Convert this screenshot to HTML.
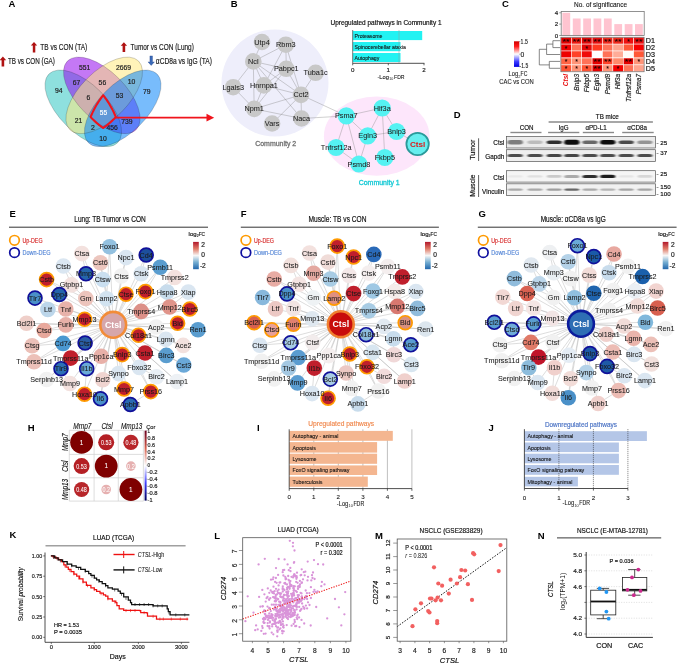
<!DOCTYPE html>
<html><head><meta charset="utf-8"><style>
html,body{margin:0;padding:0;background:#fff;width:685px;height:664px;overflow:hidden}
svg{display:block;font-family:"Liberation Sans", sans-serif;will-change:transform}
</style></head><body>
<svg width="685" height="664" viewBox="0 0 685 664">
<rect width="685" height="664" fill="#fff"/>
<text x="8.6" y="6.8" font-size="9.5" font-weight="bold">A</text>
<ellipse cx="83.27" cy="108.36" rx="48.56" ry="24.01" transform="rotate(45 83.27 108.36)" fill="rgb(50,199,195)" fill-opacity="0.55"/>
<ellipse cx="101.80" cy="95.39" rx="48.56" ry="24.01" transform="rotate(45 101.80 95.39)" fill="rgb(148,10,237)" fill-opacity="0.55"/>
<ellipse cx="104.20" cy="95.39" rx="48.56" ry="24.01" transform="rotate(-45 104.20 95.39)" fill="rgb(255,233,128)" fill-opacity="0.55"/>
<ellipse cx="122.73" cy="108.36" rx="48.56" ry="24.01" transform="rotate(-45 122.73 108.36)" fill="rgb(10,133,250)" fill-opacity="0.55"/>
<ellipse cx="83.27" cy="108.36" rx="48.56" ry="24.01" transform="rotate(45 83.27 108.36)" fill="none" stroke="#222" stroke-opacity="0.45" stroke-width="0.45"/>
<ellipse cx="101.80" cy="95.39" rx="48.56" ry="24.01" transform="rotate(45 101.80 95.39)" fill="none" stroke="#222" stroke-opacity="0.45" stroke-width="0.45"/>
<ellipse cx="104.20" cy="95.39" rx="48.56" ry="24.01" transform="rotate(-45 104.20 95.39)" fill="none" stroke="#222" stroke-opacity="0.45" stroke-width="0.45"/>
<ellipse cx="122.73" cy="108.36" rx="48.56" ry="24.01" transform="rotate(-45 122.73 108.36)" fill="none" stroke="#222" stroke-opacity="0.45" stroke-width="0.45"/>
<text x="84.6" y="69.6" font-size="6.8" text-anchor="middle" fill="#222" stroke="#222" stroke-width="0.18">551</text>
<text x="123.6" y="69.6" font-size="6.8" text-anchor="middle" fill="#222" stroke="#222" stroke-width="0.18">2669</text>
<text x="58.8" y="93.1" font-size="6.8" text-anchor="middle" fill="#222" stroke="#222" stroke-width="0.18">94</text>
<text x="76.6" y="84.7" font-size="6.8" text-anchor="middle" fill="#222" stroke="#222" stroke-width="0.18">67</text>
<text x="102.4" y="84.7" font-size="6.8" text-anchor="middle" fill="#222" stroke="#222" stroke-width="0.18">56</text>
<text x="131.6" y="84.0" font-size="6.8" text-anchor="middle" fill="#222" stroke="#222" stroke-width="0.18">10</text>
<text x="146.7" y="93.7" font-size="6.8" text-anchor="middle" fill="#222" stroke="#222" stroke-width="0.18">79</text>
<text x="88.3" y="100.4" font-size="6.8" text-anchor="middle" fill="#222" stroke="#222" stroke-width="0.18">6</text>
<text x="119.5" y="98.1" font-size="6.8" text-anchor="middle" fill="#222" stroke="#222" stroke-width="0.18">53</text>
<text x="78.6" y="123.3" font-size="6.8" text-anchor="middle" fill="#222" stroke="#222" stroke-width="0.18">21</text>
<text x="126.9" y="124.0" font-size="6.8" text-anchor="middle" fill="#222" stroke="#222" stroke-width="0.18">739</text>
<text x="93.0" y="130.0" font-size="6.8" text-anchor="middle" fill="#222" stroke="#222" stroke-width="0.18">2</text>
<text x="112.2" y="130.0" font-size="6.8" text-anchor="middle" fill="#222" stroke="#222" stroke-width="0.18">456</text>
<text x="103.1" y="140.7" font-size="6.8" text-anchor="middle" fill="#222" stroke="#222" stroke-width="0.18">10</text>
<path d="M92.38,112.87 L92.61,112.39 L92.83,111.90 L93.07,111.41 L93.31,110.92 L93.55,110.43 L93.79,109.94 L94.04,109.46 L94.30,108.97 L94.56,108.48 L94.82,107.99 L95.09,107.50 L95.36,107.01 L95.63,106.53 L95.91,106.04 L96.19,105.55 L96.48,105.07 L96.77,104.58 L97.06,104.10 L97.36,103.62 L97.66,103.13 L97.96,102.65 L98.27,102.17 L98.58,101.69 L98.89,101.21 L99.21,100.74 L99.53,100.26 L99.86,99.79 L100.18,99.32 L100.51,98.85 L100.85,98.38 L101.18,97.91 L101.52,97.44 L101.87,96.98 L102.21,96.52 L102.56,96.06 L102.91,95.60 L103.25,95.30 L103.60,95.76 L103.96,96.21 L104.30,96.67 L104.65,97.14 L104.99,97.60 L105.33,98.07 L105.66,98.53 L106.00,99.00 L106.33,99.47 L106.65,99.95 L106.98,100.42 L107.30,100.90 L107.61,101.37 L107.93,101.85 L108.24,102.33 L108.54,102.81 L108.84,103.29 L109.14,103.78 L109.44,104.26 L109.73,104.74 L110.02,105.23 L110.30,105.72 L110.59,106.20 L110.86,106.69 L111.14,107.18 L111.40,107.66 L111.67,108.15 L111.93,108.64 L112.19,109.13 L112.44,109.62 L112.69,110.11 L112.93,110.60 L113.17,111.08 L113.41,111.57 L113.64,112.06 L113.87,112.55 L114.09,113.03 L114.31,113.52 L114.53,114.01 L114.74,114.49 L114.94,114.98 L115.14,115.46 L115.34,115.94 L115.53,116.42 L115.72,116.90 L115.54,117.31 L115.15,117.72 L114.76,118.13 L114.36,118.53 L113.97,118.93 L113.57,119.32 L113.17,119.72 L112.77,120.11 L112.37,120.49 L111.97,120.87 L111.57,121.25 L111.17,121.62 L110.76,121.99 L110.35,122.36 L109.95,122.72 L109.54,123.08 L109.13,123.43 L108.72,123.78 L108.31,124.13 L107.90,124.47 L107.49,124.80 L107.07,125.13 L106.66,125.46 L106.25,125.78 L105.83,126.10 L105.42,126.41 L105.01,126.72 L104.59,127.02 L104.18,127.32 L103.77,127.62 L103.35,127.90 L103.05,127.90 L102.63,127.62 L102.22,127.32 L101.81,127.02 L101.39,126.72 L100.98,126.41 L100.57,126.10 L100.15,125.78 L99.74,125.46 L99.33,125.13 L98.91,124.80 L98.50,124.47 L98.09,124.13 L97.68,123.78 L97.27,123.43 L96.86,123.08 L96.45,122.72 L96.05,122.36 L95.64,121.99 L95.23,121.62 L94.83,121.25 L94.43,120.87 L94.03,120.49 L93.63,120.11 L93.23,119.72 L92.83,119.32 L92.43,118.93 L92.04,118.53 L91.64,118.13 L91.25,117.72 L90.86,117.31 L90.68,116.90 L90.87,116.42 L91.06,115.94 L91.26,115.46 L91.46,114.98 L91.66,114.49 L91.87,114.01 L92.09,113.52 L92.31,113.03 Z" fill="none" stroke="#f0141c" stroke-width="2.1" stroke-linejoin="round"/>
<text x="103.4" y="115.1" font-size="6.5" text-anchor="middle" fill="#fff" stroke="#fff" stroke-width="0.18">55</text>
<line x1="115.8" y1="117.7" x2="208.0" y2="117.7" stroke="#f0141c" stroke-width="1.7" />
<path d="M206.5,113.8 L214.2,117.7 L206.5,121.6 Z" fill="#f0141c"/>
<path d="M34.0,42.0 L37.2,45.6 L35.3,45.6 L35.3,52.5 L32.8,52.5 L32.8,45.6 L30.8,45.6 Z" fill="#b01212"/>
<text x="40.3" y="50.2" font-size="8.4" fill="#222" textLength="47" lengthAdjust="spacingAndGlyphs" stroke="#222" stroke-width="0.18">TB vs CON (TA)</text>
<path d="M2.9,56.6 L6.2,60.2 L4.2,60.2 L4.2,66.5 L1.6,66.5 L1.6,60.2 L-0.3,60.2 Z" fill="#b01212"/>
<text x="7.9" y="64.2" font-size="8.4" fill="#222" textLength="47" lengthAdjust="spacingAndGlyphs" stroke="#222" stroke-width="0.18">TB vs CON (GA)</text>
<path d="M123.9,42.2 L127.1,45.8 L125.2,45.8 L125.2,51.9 L122.6,51.9 L122.6,45.8 L120.7,45.8 Z" fill="#b01212"/>
<text x="130.6" y="50.0" font-size="8.4" fill="#222" textLength="63.2" lengthAdjust="spacingAndGlyphs" stroke="#222" stroke-width="0.18">Tumor vs CON (Lung)</text>
<path d="M151.2,65.5 L154.4,61.9 L152.5,61.9 L152.5,55.9 L149.9,55.9 L149.9,61.9 L148.0,61.9 Z" fill="#3a6ab8" stroke="#1a3a80" stroke-width="0.3"/>
<text x="155.8" y="63.8" font-size="8.4" fill="#222" textLength="56.2" lengthAdjust="spacingAndGlyphs" stroke="#222" stroke-width="0.18">αCD8a vs IgG (TA)</text>
<text x="230.8" y="6.9" font-size="9.5" font-weight="bold">B</text>
<circle cx="275.0" cy="83.0" r="53.50" fill="#eeeefb" stroke="none" stroke-width="1" />
<ellipse cx="376.7" cy="136.2" rx="52.8" ry="39.6" fill="#fde6fb"/>
<line x1="262.0" y1="42.0" x2="253.3" y2="61.4" stroke="#888" stroke-width="0.4" />
<line x1="285.8" y1="44.7" x2="253.3" y2="61.4" stroke="#888" stroke-width="0.4" />
<line x1="285.8" y1="44.7" x2="286.3" y2="68.8" stroke="#888" stroke-width="0.4" />
<line x1="285.8" y1="44.7" x2="263.9" y2="85.4" stroke="#888" stroke-width="0.4" />
<line x1="285.8" y1="44.7" x2="301.0" y2="94.9" stroke="#888" stroke-width="0.4" />
<line x1="253.3" y1="61.4" x2="286.3" y2="68.8" stroke="#888" stroke-width="0.4" />
<line x1="253.3" y1="61.4" x2="263.9" y2="85.4" stroke="#888" stroke-width="0.4" />
<line x1="253.3" y1="61.4" x2="233.2" y2="87.2" stroke="#888" stroke-width="0.4" />
<line x1="253.3" y1="61.4" x2="254.2" y2="108.9" stroke="#888" stroke-width="0.4" />
<line x1="253.3" y1="61.4" x2="301.0" y2="94.9" stroke="#888" stroke-width="0.4" />
<line x1="286.3" y1="68.8" x2="263.9" y2="85.4" stroke="#888" stroke-width="0.4" />
<line x1="286.3" y1="68.8" x2="301.0" y2="94.9" stroke="#888" stroke-width="0.4" />
<line x1="286.3" y1="68.8" x2="254.2" y2="108.9" stroke="#888" stroke-width="0.4" />
<line x1="315.6" y1="72.8" x2="301.0" y2="94.9" stroke="#888" stroke-width="0.4" />
<line x1="233.2" y1="87.2" x2="254.2" y2="108.9" stroke="#888" stroke-width="0.4" />
<line x1="263.9" y1="85.4" x2="254.2" y2="108.9" stroke="#888" stroke-width="0.4" />
<line x1="263.9" y1="85.4" x2="301.0" y2="94.9" stroke="#888" stroke-width="0.4" />
<line x1="254.2" y1="108.9" x2="301.0" y2="94.9" stroke="#888" stroke-width="0.4" />
<line x1="254.2" y1="108.9" x2="301.5" y2="118.5" stroke="#888" stroke-width="0.4" />
<line x1="301.0" y1="94.9" x2="301.5" y2="118.5" stroke="#888" stroke-width="0.4" />
<line x1="301.0" y1="94.9" x2="272.1" y2="123.5" stroke="#888" stroke-width="0.4" />
<line x1="301.0" y1="94.9" x2="346.3" y2="115.9" stroke="#888" stroke-width="0.4" />
<line x1="301.5" y1="118.5" x2="346.3" y2="115.9" stroke="#888" stroke-width="0.4" />
<line x1="253.3" y1="61.4" x2="301.5" y2="118.5" stroke="#888" stroke-width="0.4" />
<line x1="346.3" y1="115.9" x2="382.2" y2="108.0" stroke="#888" stroke-width="0.4" />
<line x1="346.3" y1="115.9" x2="367.7" y2="135.9" stroke="#888" stroke-width="0.4" />
<line x1="346.3" y1="115.9" x2="336.1" y2="147.5" stroke="#888" stroke-width="0.4" />
<line x1="346.3" y1="115.9" x2="358.9" y2="164.0" stroke="#888" stroke-width="0.4" />
<line x1="382.2" y1="108.0" x2="367.7" y2="135.9" stroke="#888" stroke-width="0.4" />
<line x1="382.2" y1="108.0" x2="396.6" y2="131.5" stroke="#888" stroke-width="0.4" />
<line x1="382.2" y1="108.0" x2="384.8" y2="157.5" stroke="#888" stroke-width="0.4" />
<line x1="367.7" y1="135.9" x2="396.6" y2="131.5" stroke="#888" stroke-width="0.4" />
<line x1="367.7" y1="135.9" x2="358.9" y2="164.0" stroke="#888" stroke-width="0.4" />
<line x1="336.1" y1="147.5" x2="358.9" y2="164.0" stroke="#888" stroke-width="0.4" />
<line x1="396.6" y1="131.5" x2="417.6" y2="144.0" stroke="#888" stroke-width="0.4" />
<circle cx="262.0" cy="42.0" r="8.30" fill="#c8c8c8" stroke="none" stroke-width="1" />
<circle cx="285.8" cy="44.7" r="8.30" fill="#c8c8c8" stroke="none" stroke-width="1" />
<circle cx="253.3" cy="61.4" r="8.30" fill="#c8c8c8" stroke="none" stroke-width="1" />
<circle cx="286.3" cy="68.8" r="8.30" fill="#c8c8c8" stroke="none" stroke-width="1" />
<circle cx="315.6" cy="72.8" r="8.30" fill="#c8c8c8" stroke="none" stroke-width="1" />
<circle cx="233.2" cy="87.2" r="8.30" fill="#c8c8c8" stroke="none" stroke-width="1" />
<circle cx="263.9" cy="85.4" r="8.30" fill="#c8c8c8" stroke="none" stroke-width="1" />
<circle cx="301.0" cy="94.9" r="8.30" fill="#c8c8c8" stroke="none" stroke-width="1" />
<circle cx="254.2" cy="108.9" r="8.30" fill="#c8c8c8" stroke="none" stroke-width="1" />
<circle cx="272.1" cy="123.5" r="8.30" fill="#c8c8c8" stroke="none" stroke-width="1" />
<circle cx="301.5" cy="118.5" r="8.30" fill="#c8c8c8" stroke="none" stroke-width="1" />
<circle cx="346.3" cy="115.9" r="8.60" fill="#55f2f2" stroke="none" stroke-width="1" />
<circle cx="382.2" cy="108.0" r="8.60" fill="#55f2f2" stroke="none" stroke-width="1" />
<circle cx="367.7" cy="135.9" r="8.60" fill="#55f2f2" stroke="none" stroke-width="1" />
<circle cx="396.6" cy="131.5" r="8.60" fill="#55f2f2" stroke="none" stroke-width="1" />
<circle cx="417.6" cy="144.0" r="11.20" fill="#66eeee" stroke="#2a9a9a" stroke-width="1.8" />
<circle cx="336.1" cy="147.5" r="8.60" fill="#55f2f2" stroke="none" stroke-width="1" />
<circle cx="358.9" cy="164.0" r="8.60" fill="#55f2f2" stroke="none" stroke-width="1" />
<circle cx="384.8" cy="157.5" r="8.60" fill="#55f2f2" stroke="none" stroke-width="1" />
<text x="262.0" y="44.5" font-size="7.3" text-anchor="middle" fill="#222" stroke="#222" stroke-width="0.05">Utp4</text>
<text x="285.8" y="47.2" font-size="7.3" text-anchor="middle" fill="#222" stroke="#222" stroke-width="0.05">Rbm3</text>
<text x="253.3" y="63.9" font-size="7.3" text-anchor="middle" fill="#222" stroke="#222" stroke-width="0.05">Ncl</text>
<text x="286.3" y="71.3" font-size="7.3" text-anchor="middle" fill="#222" stroke="#222" stroke-width="0.05">Pabpc1</text>
<text x="315.6" y="75.3" font-size="7.3" text-anchor="middle" fill="#222" stroke="#222" stroke-width="0.05">Tuba1c</text>
<text x="233.2" y="89.7" font-size="7.3" text-anchor="middle" fill="#222" stroke="#222" stroke-width="0.05">Lgals3</text>
<text x="263.9" y="87.9" font-size="7.3" text-anchor="middle" fill="#222" stroke="#222" stroke-width="0.05">Hnrnpa1</text>
<text x="301.0" y="97.4" font-size="7.3" text-anchor="middle" fill="#222" stroke="#222" stroke-width="0.05">Cct2</text>
<text x="254.2" y="111.4" font-size="7.3" text-anchor="middle" fill="#222" stroke="#222" stroke-width="0.05">Npm1</text>
<text x="272.1" y="126.0" font-size="7.3" text-anchor="middle" fill="#222" stroke="#222" stroke-width="0.05">Vars</text>
<text x="301.5" y="121.0" font-size="7.3" text-anchor="middle" fill="#222" stroke="#222" stroke-width="0.05">Naca</text>
<text x="346.3" y="118.4" font-size="7.3" text-anchor="middle" fill="#222" stroke="#222" stroke-width="0.05">Psma7</text>
<text x="382.2" y="110.5" font-size="7.3" text-anchor="middle" fill="#222" stroke="#222" stroke-width="0.05">Hif3a</text>
<text x="367.7" y="138.4" font-size="7.3" text-anchor="middle" fill="#222" stroke="#222" stroke-width="0.05">Egln3</text>
<text x="396.6" y="134.0" font-size="7.3" text-anchor="middle" fill="#222" stroke="#222" stroke-width="0.05">Bnip3</text>
<text x="417.6" y="146.8" font-size="8.1" text-anchor="middle" fill="#e01818" font-weight="bold">Ctsl</text>
<text x="336.1" y="150.0" font-size="7.3" text-anchor="middle" fill="#222" stroke="#222" stroke-width="0.05">Tnfrsf12a</text>
<text x="358.9" y="166.5" font-size="7.3" text-anchor="middle" fill="#222" stroke="#222" stroke-width="0.05">Psmd8</text>
<text x="384.8" y="160.0" font-size="7.3" text-anchor="middle" fill="#222" stroke="#222" stroke-width="0.05">Fkbp5</text>
<text x="275.7" y="145.5" font-size="7.2" text-anchor="middle" fill="#707070" textLength="41" lengthAdjust="spacingAndGlyphs" stroke="#707070" stroke-width="0.3">Community 2</text>
<text x="379.2" y="184.8" font-size="7.2" text-anchor="middle" fill="#10c8d4" textLength="41" lengthAdjust="spacingAndGlyphs" stroke="#10c8d4" stroke-width="0.3">Community 1</text>
<text x="386.0" y="25.3" font-size="6.6" text-anchor="middle" fill="#111" textLength="111" lengthAdjust="spacingAndGlyphs" stroke="#111" stroke-width="0.18">Upregulated pathways in Community 1</text>
<rect x="352.7" y="31.0" width="69.5" height="9.1" fill="#22f2f2" stroke="none" stroke-width="1" />
<text x="354.5" y="37.6" font-size="5.9" fill="#111" textLength="28.0" lengthAdjust="spacingAndGlyphs" stroke="#111" stroke-width="0.1">Proteasome</text>
<rect x="352.7" y="42.0" width="47.8" height="9.2" fill="#22f2f2" stroke="none" stroke-width="1" />
<text x="354.5" y="48.7" font-size="5.9" fill="#111" textLength="51.4" lengthAdjust="spacingAndGlyphs" stroke="#111" stroke-width="0.1">Spinocerebellar ataxia</text>
<rect x="352.7" y="53.0" width="47.8" height="9.0" fill="#22f2f2" stroke="none" stroke-width="1" />
<text x="354.5" y="59.6" font-size="5.9" fill="#111" textLength="24.8" lengthAdjust="spacingAndGlyphs" stroke="#111" stroke-width="0.1">Autophagy</text>
<line x1="399.0" y1="30.0" x2="399.0" y2="63.0" stroke="#999" stroke-width="0.5" />
<line x1="352.7" y1="30.0" x2="352.7" y2="63.3" stroke="#555" stroke-width="0.8" />
<line x1="352.7" y1="63.3" x2="424.4" y2="63.3" stroke="#222" stroke-width="0.8" />
<line x1="352.7" y1="63.3" x2="352.7" y2="65.3" stroke="#222" stroke-width="0.7" />
<text x="352.7" y="71.8" font-size="6.2" text-anchor="middle" fill="#222" stroke="#222" stroke-width="0.18">0</text>
<line x1="388.3" y1="63.3" x2="388.3" y2="65.3" stroke="#222" stroke-width="0.7" />
<text x="388.3" y="71.8" font-size="6.2" text-anchor="middle" fill="#222" stroke="#222" stroke-width="0.18">1</text>
<line x1="424.0" y1="63.3" x2="424.0" y2="65.3" stroke="#222" stroke-width="0.7" />
<text x="424.0" y="71.8" font-size="6.2" text-anchor="middle" fill="#222" stroke="#222" stroke-width="0.18">2</text>
<text x="377.4" y="78.6" font-size="6.2" fill="#222" textLength="11.6" lengthAdjust="spacingAndGlyphs" stroke="#222" stroke-width="0.1">-Log</text>
<text x="389.2" y="80.1" font-size="3.7" fill="#222">10</text>
<text x="394.0" y="78.6" font-size="6.2" fill="#222" textLength="10.6" lengthAdjust="spacingAndGlyphs" stroke="#222" stroke-width="0.1">FDR</text>
<text x="502.0" y="7.2" font-size="9.5" font-weight="bold">C</text>
<text x="600.5" y="7.0" font-size="7.2" text-anchor="middle" fill="#111" textLength="53" lengthAdjust="spacingAndGlyphs" stroke="#111" stroke-width="0.1">No. of significance</text>
<rect x="562.4" y="12.8" width="7.8" height="22.7" fill="#ffc4d0" stroke="none" stroke-width="1" />
<rect x="572.8" y="18.5" width="7.8" height="17.0" fill="#ffc4d0" stroke="none" stroke-width="1" />
<rect x="583.2" y="18.5" width="7.8" height="17.0" fill="#ffc4d0" stroke="none" stroke-width="1" />
<rect x="593.5" y="18.5" width="7.8" height="17.0" fill="#ffc4d0" stroke="none" stroke-width="1" />
<rect x="603.9" y="18.5" width="7.8" height="17.0" fill="#ffc4d0" stroke="none" stroke-width="1" />
<rect x="614.3" y="24.1" width="7.8" height="11.3" fill="#ffc4d0" stroke="none" stroke-width="1" />
<rect x="624.7" y="24.1" width="7.8" height="11.3" fill="#ffc4d0" stroke="none" stroke-width="1" />
<rect x="635.0" y="24.1" width="7.8" height="11.3" fill="#ffc4d0" stroke="none" stroke-width="1" />
<rect x="561.2" y="11.5" width="83.0" height="24.0" fill="none" stroke="#777" stroke-width="0.8" />
<line x1="559.2" y1="12.8" x2="561.2" y2="12.8" stroke="#555" stroke-width="0.6" />
<text x="558.2" y="15.0" font-size="6.2" text-anchor="end" fill="#222" stroke="#222" stroke-width="0.18">4</text>
<line x1="559.2" y1="24.1" x2="561.2" y2="24.1" stroke="#555" stroke-width="0.6" />
<text x="558.2" y="26.3" font-size="6.2" text-anchor="end" fill="#222" stroke="#222" stroke-width="0.18">2</text>
<line x1="559.2" y1="35.5" x2="561.2" y2="35.5" stroke="#555" stroke-width="0.6" />
<text x="558.2" y="37.7" font-size="6.2" text-anchor="end" fill="#222" stroke="#222" stroke-width="0.18">0</text>
<rect x="560.9" y="37.2" width="10.4" height="6.9" fill="#e60000" stroke="#fff" stroke-width="0.5" />
<text x="566.1" y="43.6" font-size="7" text-anchor="middle" fill="#1a0000" textLength="7.4" lengthAdjust="spacingAndGlyphs" stroke="#1a0000" stroke-width="0.08">**</text>
<rect x="571.3" y="37.2" width="10.4" height="6.9" fill="#ee1a10" stroke="#fff" stroke-width="0.5" />
<text x="576.5" y="43.6" font-size="7" text-anchor="middle" fill="#1a0000" textLength="7.4" lengthAdjust="spacingAndGlyphs" stroke="#1a0000" stroke-width="0.08">**</text>
<rect x="581.7" y="37.2" width="10.4" height="6.9" fill="#e00808" stroke="#fff" stroke-width="0.5" />
<text x="586.9" y="43.6" font-size="7" text-anchor="middle" fill="#1a0000" textLength="7.4" lengthAdjust="spacingAndGlyphs" stroke="#1a0000" stroke-width="0.08">**</text>
<rect x="592.1" y="37.2" width="10.4" height="6.9" fill="#e81010" stroke="#fff" stroke-width="0.5" />
<text x="597.3" y="43.6" font-size="7" text-anchor="middle" fill="#1a0000" textLength="7.4" lengthAdjust="spacingAndGlyphs" stroke="#1a0000" stroke-width="0.08">**</text>
<rect x="602.5" y="37.2" width="10.4" height="6.9" fill="#f02a1c" stroke="#fff" stroke-width="0.5" />
<text x="607.7" y="43.6" font-size="7" text-anchor="middle" fill="#1a0000" textLength="7.4" lengthAdjust="spacingAndGlyphs" stroke="#1a0000" stroke-width="0.08">**</text>
<rect x="612.9" y="37.2" width="10.4" height="6.9" fill="#f02a1c" stroke="#fff" stroke-width="0.5" />
<text x="618.1" y="43.6" font-size="7" text-anchor="middle" fill="#1a0000" textLength="7.4" lengthAdjust="spacingAndGlyphs" stroke="#1a0000" stroke-width="0.08">**</text>
<rect x="623.3" y="37.2" width="10.4" height="6.9" fill="#ee1010" stroke="#fff" stroke-width="0.5" />
<text x="628.5" y="43.6" font-size="7" text-anchor="middle" fill="#1a0000" stroke="#1a0000" stroke-width="0.08">*</text>
<rect x="633.7" y="37.2" width="10.4" height="6.9" fill="#ee1010" stroke="#fff" stroke-width="0.5" />
<text x="638.9" y="43.6" font-size="7" text-anchor="middle" fill="#1a0000" textLength="7.4" lengthAdjust="spacingAndGlyphs" stroke="#1a0000" stroke-width="0.08">**</text>
<rect x="560.9" y="44.1" width="10.4" height="6.9" fill="#ee0000" stroke="#fff" stroke-width="0.5" />
<text x="566.1" y="50.5" font-size="7" text-anchor="middle" fill="#1a0000" stroke="#1a0000" stroke-width="0.08">*</text>
<rect x="571.3" y="44.1" width="10.4" height="6.9" fill="#ff7258" stroke="#fff" stroke-width="0.5" />
<rect x="581.7" y="44.1" width="10.4" height="6.9" fill="#e40808" stroke="#fff" stroke-width="0.5" />
<text x="586.9" y="50.5" font-size="7" text-anchor="middle" fill="#1a0000" stroke="#1a0000" stroke-width="0.08">*</text>
<rect x="592.1" y="44.1" width="10.4" height="6.9" fill="#ff3a22" stroke="#fff" stroke-width="0.5" />
<rect x="602.5" y="44.1" width="10.4" height="6.9" fill="#ff7258" stroke="#fff" stroke-width="0.5" />
<rect x="612.9" y="44.1" width="10.4" height="6.9" fill="#ffa48e" stroke="#fff" stroke-width="0.5" />
<rect x="623.3" y="44.1" width="10.4" height="6.9" fill="#ff5838" stroke="#fff" stroke-width="0.5" />
<rect x="633.7" y="44.1" width="10.4" height="6.9" fill="#f60000" stroke="#fff" stroke-width="0.5" />
<rect x="560.9" y="51.0" width="10.4" height="6.9" fill="#ee0000" stroke="#fff" stroke-width="0.5" />
<rect x="571.3" y="51.0" width="10.4" height="6.9" fill="#ff4228" stroke="#fff" stroke-width="0.5" />
<rect x="581.7" y="51.0" width="10.4" height="6.9" fill="#f00a0a" stroke="#fff" stroke-width="0.5" />
<rect x="592.1" y="51.0" width="10.4" height="6.9" fill="#ffffff" stroke="#fff" stroke-width="0.5" />
<rect x="602.5" y="51.0" width="10.4" height="6.9" fill="#ff7258" stroke="#fff" stroke-width="0.5" />
<rect x="612.9" y="51.0" width="10.4" height="6.9" fill="#ffac98" stroke="#fff" stroke-width="0.5" />
<rect x="623.3" y="51.0" width="10.4" height="6.9" fill="#fffaf8" stroke="#fff" stroke-width="0.5" />
<rect x="633.7" y="51.0" width="10.4" height="6.9" fill="#ff5838" stroke="#fff" stroke-width="0.5" />
<rect x="560.9" y="58.0" width="10.4" height="6.9" fill="#ff6444" stroke="#fff" stroke-width="0.5" />
<text x="566.1" y="64.3" font-size="7" text-anchor="middle" fill="#1a0000" stroke="#1a0000" stroke-width="0.08">*</text>
<rect x="571.3" y="58.0" width="10.4" height="6.9" fill="#ff9478" stroke="#fff" stroke-width="0.5" />
<text x="576.5" y="64.3" font-size="7" text-anchor="middle" fill="#1a0000" stroke="#1a0000" stroke-width="0.08">*</text>
<rect x="581.7" y="58.0" width="10.4" height="6.9" fill="#ff7258" stroke="#fff" stroke-width="0.5" />
<rect x="592.1" y="58.0" width="10.4" height="6.9" fill="#e40000" stroke="#fff" stroke-width="0.5" />
<text x="597.3" y="64.3" font-size="7" text-anchor="middle" fill="#1a0000" textLength="7.4" lengthAdjust="spacingAndGlyphs" stroke="#1a0000" stroke-width="0.08">**</text>
<rect x="602.5" y="58.0" width="10.4" height="6.9" fill="#ff4228" stroke="#fff" stroke-width="0.5" />
<text x="607.7" y="64.3" font-size="7" text-anchor="middle" fill="#1a0000" textLength="7.4" lengthAdjust="spacingAndGlyphs" stroke="#1a0000" stroke-width="0.08">**</text>
<rect x="612.9" y="58.0" width="10.4" height="6.9" fill="#ff8a6c" stroke="#fff" stroke-width="0.5" />
<rect x="623.3" y="58.0" width="10.4" height="6.9" fill="#e40000" stroke="#fff" stroke-width="0.5" />
<text x="628.5" y="64.3" font-size="7" text-anchor="middle" fill="#1a0000" textLength="7.4" lengthAdjust="spacingAndGlyphs" stroke="#1a0000" stroke-width="0.08">**</text>
<rect x="633.7" y="58.0" width="10.4" height="6.9" fill="#ff9478" stroke="#fff" stroke-width="0.5" />
<text x="638.9" y="64.3" font-size="7" text-anchor="middle" fill="#1a0000" stroke="#1a0000" stroke-width="0.08">*</text>
<rect x="560.9" y="64.9" width="10.4" height="6.9" fill="#ff5434" stroke="#fff" stroke-width="0.5" />
<text x="566.1" y="71.2" font-size="7" text-anchor="middle" fill="#1a0000" stroke="#1a0000" stroke-width="0.08">*</text>
<rect x="571.3" y="64.9" width="10.4" height="6.9" fill="#ff9478" stroke="#fff" stroke-width="0.5" />
<text x="576.5" y="71.2" font-size="7" text-anchor="middle" fill="#1a0000" stroke="#1a0000" stroke-width="0.08">*</text>
<rect x="581.7" y="64.9" width="10.4" height="6.9" fill="#ff5434" stroke="#fff" stroke-width="0.5" />
<text x="586.9" y="71.2" font-size="7" text-anchor="middle" fill="#1a0000" stroke="#1a0000" stroke-width="0.08">*</text>
<rect x="592.1" y="64.9" width="10.4" height="6.9" fill="#e40000" stroke="#fff" stroke-width="0.5" />
<text x="597.3" y="71.2" font-size="7" text-anchor="middle" fill="#1a0000" textLength="7.4" lengthAdjust="spacingAndGlyphs" stroke="#1a0000" stroke-width="0.08">**</text>
<rect x="602.5" y="64.9" width="10.4" height="6.9" fill="#ff9478" stroke="#fff" stroke-width="0.5" />
<text x="607.7" y="71.2" font-size="7" text-anchor="middle" fill="#1a0000" stroke="#1a0000" stroke-width="0.08">*</text>
<rect x="612.9" y="64.9" width="10.4" height="6.9" fill="#f40000" stroke="#fff" stroke-width="0.5" />
<text x="618.1" y="71.2" font-size="7" text-anchor="middle" fill="#1a0000" stroke="#1a0000" stroke-width="0.08">*</text>
<rect x="623.3" y="64.9" width="10.4" height="6.9" fill="#ff7258" stroke="#fff" stroke-width="0.5" />
<rect x="633.7" y="64.9" width="10.4" height="6.9" fill="#ffa48e" stroke="#fff" stroke-width="0.5" />
<rect x="560.9" y="37.2" width="83.2" height="34.6" fill="none" stroke="#555" stroke-width="0.6" />
<text x="645.8" y="43.3" font-size="7.2" fill="#111" stroke="#111" stroke-width="0.18">D1</text>
<text x="645.8" y="50.2" font-size="7.2" fill="#111" stroke="#111" stroke-width="0.18">D2</text>
<text x="645.8" y="57.1" font-size="7.2" fill="#111" stroke="#111" stroke-width="0.18">D3</text>
<text x="645.8" y="64.0" font-size="7.2" fill="#111" stroke="#111" stroke-width="0.18">D4</text>
<text x="645.8" y="70.9" font-size="7.2" fill="#111" stroke="#111" stroke-width="0.18">D5</text>
<text x="568.3" y="73.8" font-size="6.6" text-anchor="end" fill="#e81010" font-weight="bold" font-style="italic" transform="rotate(-90 568.3 73.8)">Ctsl</text>
<text x="578.7" y="73.8" font-size="6.6" text-anchor="end" fill="#222" font-style="italic" transform="rotate(-90 578.7 73.8)" stroke="#222" stroke-width="0.18">Bnip3</text>
<text x="589.1" y="73.8" font-size="6.6" text-anchor="end" fill="#222" font-style="italic" transform="rotate(-90 589.1 73.8)" stroke="#222" stroke-width="0.18">Fkbp5</text>
<text x="599.5" y="73.8" font-size="6.6" text-anchor="end" fill="#222" font-style="italic" transform="rotate(-90 599.5 73.8)" stroke="#222" stroke-width="0.18">Egln3</text>
<text x="609.9" y="73.8" font-size="6.6" text-anchor="end" fill="#222" font-style="italic" transform="rotate(-90 609.9 73.8)" stroke="#222" stroke-width="0.18">Psmd8</text>
<text x="620.3" y="73.8" font-size="6.6" text-anchor="end" fill="#222" font-style="italic" transform="rotate(-90 620.3 73.8)" stroke="#222" stroke-width="0.18">Hif3a</text>
<text x="630.7" y="73.8" font-size="6.6" text-anchor="end" fill="#222" font-style="italic" transform="rotate(-90 630.7 73.8)" stroke="#222" stroke-width="0.18">Tnfrsf12a</text>
<text x="641.1" y="73.8" font-size="6.6" text-anchor="end" fill="#222" font-style="italic" transform="rotate(-90 641.1 73.8)" stroke="#222" stroke-width="0.18">Psma7</text>
<path d="M560.0,40.7 H552.9 V47.6 H560.0" fill="none" stroke="#555" stroke-width="0.7"/>
<path d="M552.9,44.1 H546.6 V54.5 H560.0" fill="none" stroke="#555" stroke-width="0.7"/>
<path d="M560.0,61.4 H549.3 V68.3 H560.0" fill="none" stroke="#555" stroke-width="0.7"/>
<path d="M546.6,49.3 H539.3 V64.9 H549.3" fill="none" stroke="#555" stroke-width="0.7"/>
<defs><linearGradient id="gC" x1="0" y1="0" x2="0" y2="1"><stop offset="0" stop-color="#d00000"/><stop offset="0.2" stop-color="#ff1a1a"/><stop offset="0.5" stop-color="#ffffff"/><stop offset="0.8" stop-color="#3a3aff"/><stop offset="1" stop-color="#0000e0"/></linearGradient></defs>
<rect x="514.0" y="41.3" width="5.3" height="25.6" fill="url(#gC)" stroke="none" stroke-width="1" />
<line x1="519.3" y1="41.5" x2="520.3" y2="41.5" stroke="#333" stroke-width="0.5" />
<line x1="519.3" y1="54.2" x2="520.3" y2="54.2" stroke="#333" stroke-width="0.5" />
<line x1="519.3" y1="66.7" x2="520.3" y2="66.7" stroke="#333" stroke-width="0.5" />
<text x="520.6" y="44.2" font-size="6.8" fill="#111" textLength="7.2" lengthAdjust="spacingAndGlyphs" stroke="#111" stroke-width="0.1">1.5</text>
<text x="520.6" y="56.6" font-size="6.8" fill="#111" stroke="#111" stroke-width="0.1">0</text>
<text x="519.6" y="67.8" font-size="6.8" fill="#111" textLength="8.6" lengthAdjust="spacingAndGlyphs" stroke="#111" stroke-width="0.1">-1.5</text>
<text x="508.6" y="76.4" font-size="6.6" fill="#222" textLength="9.6" lengthAdjust="spacingAndGlyphs" stroke="#222" stroke-width="0.1">Log</text>
<text x="518.3" y="77.8" font-size="4.0" fill="#222">2</text>
<text x="520.6" y="76.4" font-size="6.6" fill="#222" textLength="6.8" lengthAdjust="spacingAndGlyphs" stroke="#222" stroke-width="0.1">FC</text>
<text x="516.6" y="84.4" font-size="6.6" text-anchor="middle" fill="#222" textLength="34.5" lengthAdjust="spacingAndGlyphs" stroke="#222" stroke-width="0.1">CAC vs CON</text>
<text x="453.8" y="118.2" font-size="9.5" font-weight="bold">D</text>
<text x="607.3" y="118.8" font-size="7" text-anchor="middle" fill="#111" textLength="23" lengthAdjust="spacingAndGlyphs" stroke="#111" stroke-width="0.18">TB mice</text>
<line x1="548.6" y1="122.0" x2="652.9" y2="122.0" stroke="#8a8a8a" stroke-width="1.4" />
<text x="526.6" y="129.9" font-size="7.4" text-anchor="middle" fill="#111" textLength="13.8" lengthAdjust="spacingAndGlyphs" stroke="#111" stroke-width="0.18">CON</text>
<line x1="510.4" y1="132.5" x2="541.5" y2="132.5" stroke="#8a8a8a" stroke-width="1.4" />
<text x="563.5" y="129.9" font-size="7.4" text-anchor="middle" fill="#111" textLength="10.0" lengthAdjust="spacingAndGlyphs" stroke="#111" stroke-width="0.18">IgG</text>
<line x1="548.1" y1="132.5" x2="579.3" y2="132.5" stroke="#8a8a8a" stroke-width="1.4" />
<text x="596.0" y="129.9" font-size="7.4" text-anchor="middle" fill="#111" textLength="21.2" lengthAdjust="spacingAndGlyphs" stroke="#111" stroke-width="0.18">αPD-L1</text>
<line x1="582.8" y1="132.5" x2="614.0" y2="132.5" stroke="#8a8a8a" stroke-width="1.4" />
<text x="637.1" y="129.9" font-size="7.4" text-anchor="middle" fill="#111" textLength="19.5" lengthAdjust="spacingAndGlyphs" stroke="#111" stroke-width="0.18">αCD8a</text>
<line x1="622.2" y1="132.5" x2="653.7" y2="132.5" stroke="#8a8a8a" stroke-width="1.4" />
<defs><filter id="bl" x="-50%" y="-100%" width="200%" height="300%"><feGaussianBlur stdDeviation="1.1 0.6"/></filter></defs>
<rect x="506.4" y="136.5" width="149.1" height="11.5" fill="#ebebeb"/>
<g filter="url(#bl)">
<rect x="507.6" y="140.0" width="15.2" height="4.5" rx="3" fill="rgb(125,125,125)"/>
<rect x="527.4" y="140.6" width="15.2" height="3.4" rx="3" fill="rgb(188,188,188)"/>
<rect x="546.6" y="140.4" width="15.2" height="3.6" rx="3" fill="rgb(46,46,46)"/>
<rect x="564.2" y="139.8" width="15.2" height="5.0" rx="3" fill="rgb(13,13,13)"/>
<rect x="582.4" y="140.4" width="15.2" height="3.6" rx="3" fill="rgb(103,103,103)"/>
<rect x="600.2" y="140.1" width="15.2" height="4.4" rx="3" fill="rgb(13,13,13)"/>
<rect x="618.6" y="140.4" width="15.2" height="3.6" rx="3" fill="rgb(76,76,76)"/>
<rect x="637.3" y="140.4" width="15.2" height="3.6" rx="3" fill="rgb(148,148,148)"/>
</g>
<rect x="506.4" y="136.5" width="149.1" height="11.5" fill="none" stroke="#555" stroke-width="0.7"/>
<rect x="506.4" y="149.7" width="149.1" height="11.7" fill="#efefef"/>
<g filter="url(#bl)">
<rect x="507.6" y="154.1" width="15.2" height="3.0" rx="3" fill="rgb(76,76,76)"/>
<rect x="527.4" y="154.1" width="15.2" height="3.0" rx="3" fill="rgb(76,76,76)"/>
<rect x="546.6" y="154.1" width="15.2" height="3.0" rx="3" fill="rgb(69,69,69)"/>
<rect x="564.2" y="154.1" width="15.2" height="3.0" rx="3" fill="rgb(69,69,69)"/>
<rect x="582.4" y="154.1" width="15.2" height="3.0" rx="3" fill="rgb(76,76,76)"/>
<rect x="600.2" y="154.1" width="15.2" height="3.0" rx="3" fill="rgb(76,76,76)"/>
<rect x="618.6" y="154.1" width="15.2" height="3.0" rx="3" fill="rgb(76,76,76)"/>
<rect x="637.3" y="154.1" width="15.2" height="3.0" rx="3" fill="rgb(76,76,76)"/>
</g>
<rect x="506.4" y="149.7" width="149.1" height="11.7" fill="none" stroke="#555" stroke-width="0.7"/>
<rect x="506.4" y="170.7" width="149.1" height="11.4" fill="#f5f5f5"/>
<g filter="url(#bl)">
<rect x="507.6" y="175.2" width="15.2" height="2.4" rx="3" fill="rgb(233,233,233)"/>
<rect x="527.4" y="175.2" width="15.2" height="2.4" rx="3" fill="rgb(224,224,224)"/>
<rect x="546.6" y="175.1" width="15.2" height="2.6" rx="3" fill="rgb(202,202,202)"/>
<rect x="564.2" y="174.9" width="15.2" height="3.0" rx="3" fill="rgb(170,170,170)"/>
<rect x="582.4" y="174.9" width="15.2" height="3.0" rx="3" fill="rgb(46,46,46)"/>
<rect x="600.2" y="174.7" width="15.2" height="3.4" rx="3" fill="rgb(31,31,31)"/>
<rect x="618.6" y="175.2" width="15.2" height="2.4" rx="3" fill="rgb(229,229,229)"/>
<rect x="637.3" y="175.0" width="15.2" height="2.8" rx="3" fill="rgb(215,215,215)"/>
</g>
<rect x="506.4" y="170.7" width="149.1" height="11.4" fill="none" stroke="#555" stroke-width="0.7"/>
<rect x="506.4" y="183.8" width="149.1" height="11.8" fill="#f1f1f1"/>
<g filter="url(#bl)">
<rect x="507.6" y="188.6" width="15.2" height="2.2" rx="3" fill="rgb(170,170,170)"/>
<rect x="527.4" y="188.6" width="15.2" height="2.2" rx="3" fill="rgb(170,170,170)"/>
<rect x="546.6" y="188.6" width="15.2" height="2.2" rx="3" fill="rgb(159,159,159)"/>
<rect x="564.2" y="188.6" width="15.2" height="2.2" rx="3" fill="rgb(103,103,103)"/>
<rect x="582.4" y="188.6" width="15.2" height="2.2" rx="3" fill="rgb(170,170,170)"/>
<rect x="600.2" y="188.6" width="15.2" height="2.2" rx="3" fill="rgb(181,181,181)"/>
<rect x="618.6" y="188.6" width="15.2" height="2.2" rx="3" fill="rgb(166,166,166)"/>
<rect x="637.3" y="188.6" width="15.2" height="2.2" rx="3" fill="rgb(166,166,166)"/>
</g>
<rect x="506.4" y="183.8" width="149.1" height="11.8" fill="none" stroke="#555" stroke-width="0.7"/>
<text x="504.3" y="144.9" font-size="7.4" text-anchor="end" fill="#111" textLength="11.0" lengthAdjust="spacingAndGlyphs" stroke="#111" stroke-width="0.18">Ctsl</text>
<text x="504.3" y="158.9" font-size="7.4" text-anchor="end" fill="#111" textLength="19.1" lengthAdjust="spacingAndGlyphs" stroke="#111" stroke-width="0.18">Gapdh</text>
<text x="504.3" y="179.9" font-size="7.4" text-anchor="end" fill="#111" textLength="11.0" lengthAdjust="spacingAndGlyphs" stroke="#111" stroke-width="0.18">Ctsl</text>
<text x="504.3" y="193.9" font-size="7.4" text-anchor="end" fill="#111" textLength="22.2" lengthAdjust="spacingAndGlyphs" stroke="#111" stroke-width="0.18">Vinculin</text>
<line x1="478.6" y1="138.3" x2="478.6" y2="161.0" stroke="#333" stroke-width="0.8" />
<line x1="478.6" y1="175.0" x2="478.6" y2="197.0" stroke="#333" stroke-width="0.8" />
<text x="475.0" y="149.7" font-size="7" text-anchor="middle" fill="#111" transform="rotate(-90 475 149.7)" stroke="#111" stroke-width="0.18">Tumor</text>
<text x="475.0" y="185.7" font-size="7" text-anchor="middle" fill="#111" transform="rotate(-90 475 185.7)" stroke="#111" stroke-width="0.18">Muscle</text>
<text x="656.5" y="144.5" font-size="6.2" fill="#111" stroke="#111" stroke-width="0.18">- 25</text>
<text x="656.5" y="154.5" font-size="6.2" fill="#111" stroke="#111" stroke-width="0.18">- 37</text>
<text x="656.5" y="175.5" font-size="6.2" fill="#111" stroke="#111" stroke-width="0.18">- 25</text>
<text x="656.5" y="189.0" font-size="6.2" fill="#111" stroke="#111" stroke-width="0.18">- 150</text>
<text x="656.5" y="195.7" font-size="6.2" fill="#111" stroke="#111" stroke-width="0.18">- 100</text>
<text x="9.4" y="216.5" font-size="9.5" font-weight="bold">E</text>
<text x="110.0" y="221.9" font-size="8.4" text-anchor="middle" fill="#111" textLength="71.5" lengthAdjust="spacingAndGlyphs" stroke="#111" stroke-width="0.18">Lung: TB Tumor vs CON</text>
<line x1="9.0" y1="227.2" x2="208.0" y2="227.2" stroke="#333" stroke-width="1" />
<circle cx="14.5" cy="240.3" r="4.80" fill="none" stroke="#ff9a00" stroke-width="1.7" />
<circle cx="14.5" cy="252.6" r="4.80" fill="none" stroke="#1010a0" stroke-width="1.7" />
<text x="22.5" y="242.6" font-size="6.6" fill="#d83030" textLength="20" lengthAdjust="spacingAndGlyphs" stroke="#d83030" stroke-width="0.18">Up-DEG</text>
<text x="22.5" y="254.9" font-size="6.6" fill="#5a8ad8" textLength="28" lengthAdjust="spacingAndGlyphs" stroke="#5a8ad8" stroke-width="0.18">Down-DEG</text>
<defs><linearGradient id="gN0" x1="0" y1="0" x2="0" y2="1"><stop offset="0" stop-color="#b2182b"/><stop offset="0.25" stop-color="#e07b67"/><stop offset="0.5" stop-color="#f7f7f7"/><stop offset="0.75" stop-color="#74add1"/><stop offset="1" stop-color="#2166ac"/></linearGradient></defs>
<rect x="193.1" y="241.9" width="5.7" height="27.3" fill="url(#gN0)" stroke="none" stroke-width="1" />
<text x="196.6" y="236.0" font-size="5.6" text-anchor="end" fill="#222" textLength="8" lengthAdjust="spacingAndGlyphs" stroke="#222" stroke-width="0.18">log</text>
<text x="196.7" y="237.3" font-size="3.6" fill="#222" stroke="#222" stroke-width="0.18">2</text>
<text x="198.7" y="236.0" font-size="5.6" fill="#222" textLength="6.4" lengthAdjust="spacingAndGlyphs" stroke="#222" stroke-width="0.18">FC</text>
<text x="201.3" y="246.6" font-size="6.6" fill="#222" stroke="#222" stroke-width="0.18">2</text>
<text x="201.3" y="257.1" font-size="6.6" fill="#222" stroke="#222" stroke-width="0.18">0</text>
<text x="199.9" y="268.3" font-size="6.6" fill="#222" stroke="#222" stroke-width="0.18">-2</text>
<line x1="113.2" y1="324.8" x2="109.6" y2="246.7" stroke="#b4b4b4" stroke-width="0.45" />
<line x1="113.2" y1="324.8" x2="81.9" y2="253.6" stroke="#b4b4b4" stroke-width="0.45" />
<line x1="113.2" y1="324.8" x2="126.0" y2="257.6" stroke="#b4b4b4" stroke-width="0.45" />
<line x1="113.2" y1="324.8" x2="146.2" y2="255.0" stroke="#b4b4b4" stroke-width="0.45" />
<line x1="113.2" y1="324.8" x2="100.4" y2="262.7" stroke="#b4b4b4" stroke-width="0.45" />
<line x1="113.2" y1="324.8" x2="63.4" y2="266.0" stroke="#b4b4b4" stroke-width="0.45" />
<line x1="113.2" y1="324.8" x2="160.2" y2="267.2" stroke="#b4b4b4" stroke-width="0.45" />
<line x1="113.2" y1="324.8" x2="86.0" y2="273.8" stroke="#b4b4b4" stroke-width="0.45" />
<line x1="113.2" y1="324.8" x2="141.2" y2="273.7" stroke="#b4b4b4" stroke-width="0.45" />
<line x1="113.2" y1="324.8" x2="121.4" y2="276.0" stroke="#b4b4b4" stroke-width="0.45" />
<line x1="113.2" y1="324.8" x2="174.7" y2="277.5" stroke="#b4b4b4" stroke-width="0.45" />
<line x1="113.2" y1="324.8" x2="102.8" y2="279.6" stroke="#b4b4b4" stroke-width="0.45" />
<line x1="113.2" y1="324.8" x2="46.6" y2="279.6" stroke="#b4b4b4" stroke-width="0.45" />
<line x1="113.2" y1="324.8" x2="71.5" y2="284.9" stroke="#b4b4b4" stroke-width="0.45" />
<line x1="113.2" y1="324.8" x2="126.0" y2="294.2" stroke="#b4b4b4" stroke-width="0.45" />
<line x1="113.2" y1="324.8" x2="145.4" y2="291.6" stroke="#b4b4b4" stroke-width="0.45" />
<line x1="113.2" y1="324.8" x2="167.1" y2="292.1" stroke="#b4b4b4" stroke-width="0.45" />
<line x1="113.2" y1="324.8" x2="188.3" y2="292.1" stroke="#b4b4b4" stroke-width="0.45" />
<line x1="113.2" y1="324.8" x2="59.4" y2="294.5" stroke="#b4b4b4" stroke-width="0.45" />
<line x1="113.2" y1="324.8" x2="35.0" y2="298.1" stroke="#b4b4b4" stroke-width="0.45" />
<line x1="113.2" y1="324.8" x2="85.8" y2="298.5" stroke="#b4b4b4" stroke-width="0.45" />
<line x1="113.2" y1="324.8" x2="106.6" y2="298.8" stroke="#b4b4b4" stroke-width="0.45" />
<line x1="113.2" y1="324.8" x2="169.7" y2="307.0" stroke="#b4b4b4" stroke-width="0.45" />
<line x1="113.2" y1="324.8" x2="189.8" y2="309.0" stroke="#b4b4b4" stroke-width="0.45" />
<line x1="113.2" y1="324.8" x2="47.9" y2="309.5" stroke="#b4b4b4" stroke-width="0.45" />
<line x1="113.2" y1="324.8" x2="65.8" y2="309.0" stroke="#b4b4b4" stroke-width="0.45" />
<line x1="113.2" y1="324.8" x2="141.2" y2="311.4" stroke="#b4b4b4" stroke-width="0.45" />
<line x1="113.2" y1="324.8" x2="84.6" y2="319.3" stroke="#b4b4b4" stroke-width="0.45" />
<line x1="113.2" y1="324.8" x2="177.6" y2="323.3" stroke="#b4b4b4" stroke-width="0.45" />
<line x1="113.2" y1="324.8" x2="26.5" y2="323.3" stroke="#b4b4b4" stroke-width="0.45" />
<line x1="113.2" y1="324.8" x2="65.8" y2="324.9" stroke="#b4b4b4" stroke-width="0.45" />
<line x1="113.2" y1="324.8" x2="156.2" y2="327.0" stroke="#b4b4b4" stroke-width="0.45" />
<line x1="113.2" y1="324.8" x2="198.0" y2="329.7" stroke="#b4b4b4" stroke-width="0.45" />
<line x1="113.2" y1="324.8" x2="44.2" y2="330.5" stroke="#b4b4b4" stroke-width="0.45" />
<line x1="113.2" y1="324.8" x2="138.5" y2="335.3" stroke="#b4b4b4" stroke-width="0.45" />
<line x1="113.2" y1="324.8" x2="165.8" y2="339.3" stroke="#b4b4b4" stroke-width="0.45" />
<line x1="113.2" y1="324.8" x2="63.1" y2="343.4" stroke="#b4b4b4" stroke-width="0.45" />
<line x1="113.2" y1="324.8" x2="85.1" y2="343.0" stroke="#b4b4b4" stroke-width="0.45" />
<line x1="113.2" y1="324.8" x2="32.1" y2="345.8" stroke="#b4b4b4" stroke-width="0.45" />
<line x1="113.2" y1="324.8" x2="183.2" y2="345.4" stroke="#b4b4b4" stroke-width="0.45" />
<line x1="113.2" y1="324.8" x2="145.0" y2="353.0" stroke="#b4b4b4" stroke-width="0.45" />
<line x1="113.2" y1="324.8" x2="122.2" y2="354.6" stroke="#b4b4b4" stroke-width="0.45" />
<line x1="113.2" y1="324.8" x2="166.3" y2="355.4" stroke="#b4b4b4" stroke-width="0.45" />
<line x1="113.2" y1="324.8" x2="101.2" y2="356.2" stroke="#b4b4b4" stroke-width="0.45" />
<line x1="113.2" y1="324.8" x2="70.7" y2="358.1" stroke="#b4b4b4" stroke-width="0.45" />
<line x1="113.2" y1="324.8" x2="34.0" y2="361.8" stroke="#b4b4b4" stroke-width="0.45" />
<line x1="113.2" y1="324.8" x2="183.8" y2="365.0" stroke="#b4b4b4" stroke-width="0.45" />
<line x1="113.2" y1="324.8" x2="139.3" y2="367.4" stroke="#b4b4b4" stroke-width="0.45" />
<line x1="113.2" y1="324.8" x2="61.0" y2="368.7" stroke="#b4b4b4" stroke-width="0.45" />
<line x1="113.2" y1="324.8" x2="86.7" y2="368.7" stroke="#b4b4b4" stroke-width="0.45" />
<line x1="113.2" y1="324.8" x2="118.5" y2="373.6" stroke="#b4b4b4" stroke-width="0.45" />
<line x1="113.2" y1="324.8" x2="156.5" y2="376.8" stroke="#b4b4b4" stroke-width="0.45" />
<line x1="113.2" y1="324.8" x2="46.6" y2="379.5" stroke="#b4b4b4" stroke-width="0.45" />
<line x1="113.2" y1="324.8" x2="102.7" y2="379.7" stroke="#b4b4b4" stroke-width="0.45" />
<line x1="113.2" y1="324.8" x2="177.1" y2="381.6" stroke="#b4b4b4" stroke-width="0.45" />
<line x1="113.2" y1="324.8" x2="69.9" y2="383.5" stroke="#b4b4b4" stroke-width="0.45" />
<line x1="113.2" y1="324.8" x2="124.1" y2="389.0" stroke="#b4b4b4" stroke-width="0.45" />
<line x1="113.2" y1="324.8" x2="150.8" y2="391.6" stroke="#b4b4b4" stroke-width="0.45" />
<line x1="113.2" y1="324.8" x2="84.5" y2="394.2" stroke="#b4b4b4" stroke-width="0.45" />
<line x1="113.2" y1="324.8" x2="100.5" y2="398.8" stroke="#b4b4b4" stroke-width="0.45" />
<line x1="113.2" y1="324.8" x2="130.3" y2="404.5" stroke="#b4b4b4" stroke-width="0.45" />
<line x1="81.9" y1="253.6" x2="86.0" y2="273.8" stroke="#b4b4b4" stroke-width="0.45" />
<line x1="63.4" y1="266.0" x2="71.5" y2="284.9" stroke="#b4b4b4" stroke-width="0.45" />
<line x1="46.6" y1="279.6" x2="85.8" y2="298.5" stroke="#b4b4b4" stroke-width="0.45" />
<line x1="35.0" y1="298.1" x2="47.9" y2="309.5" stroke="#b4b4b4" stroke-width="0.45" />
<line x1="146.2" y1="255.0" x2="141.2" y2="273.7" stroke="#b4b4b4" stroke-width="0.45" />
<line x1="126.0" y1="257.6" x2="121.4" y2="276.0" stroke="#b4b4b4" stroke-width="0.45" />
<line x1="160.2" y1="267.2" x2="145.4" y2="291.6" stroke="#b4b4b4" stroke-width="0.45" />
<line x1="174.7" y1="277.5" x2="167.1" y2="292.1" stroke="#b4b4b4" stroke-width="0.45" />
<line x1="188.3" y1="292.1" x2="169.7" y2="307.0" stroke="#b4b4b4" stroke-width="0.45" />
<line x1="189.8" y1="309.0" x2="141.2" y2="311.4" stroke="#b4b4b4" stroke-width="0.45" />
<line x1="198.0" y1="329.7" x2="156.2" y2="327.0" stroke="#b4b4b4" stroke-width="0.45" />
<line x1="183.2" y1="345.4" x2="165.8" y2="339.3" stroke="#b4b4b4" stroke-width="0.45" />
<line x1="183.8" y1="365.0" x2="166.3" y2="355.4" stroke="#b4b4b4" stroke-width="0.45" />
<line x1="177.1" y1="381.6" x2="145.0" y2="353.0" stroke="#b4b4b4" stroke-width="0.45" />
<line x1="130.3" y1="404.5" x2="150.8" y2="391.6" stroke="#b4b4b4" stroke-width="0.45" />
<line x1="84.5" y1="394.2" x2="86.7" y2="368.7" stroke="#b4b4b4" stroke-width="0.45" />
<line x1="46.6" y1="379.5" x2="70.7" y2="358.1" stroke="#b4b4b4" stroke-width="0.45" />
<line x1="69.9" y1="383.5" x2="61.0" y2="368.7" stroke="#b4b4b4" stroke-width="0.45" />
<line x1="156.5" y1="376.8" x2="139.3" y2="367.4" stroke="#b4b4b4" stroke-width="0.45" />
<line x1="34.0" y1="361.8" x2="63.1" y2="343.4" stroke="#b4b4b4" stroke-width="0.45" />
<line x1="32.1" y1="345.8" x2="63.1" y2="343.4" stroke="#b4b4b4" stroke-width="0.45" />
<line x1="26.5" y1="323.3" x2="65.8" y2="324.9" stroke="#b4b4b4" stroke-width="0.45" />
<line x1="100.4" y1="262.7" x2="102.8" y2="279.6" stroke="#b4b4b4" stroke-width="0.45" />
<line x1="109.6" y1="246.7" x2="106.6" y2="298.8" stroke="#b4b4b4" stroke-width="0.45" />
<line x1="124.1" y1="389.0" x2="118.5" y2="373.6" stroke="#b4b4b4" stroke-width="0.45" />
<line x1="100.5" y1="398.8" x2="102.7" y2="379.7" stroke="#b4b4b4" stroke-width="0.45" />
<line x1="167.1" y1="292.1" x2="169.7" y2="307.0" stroke="#b4b4b4" stroke-width="0.45" />
<line x1="165.8" y1="339.3" x2="166.3" y2="355.4" stroke="#b4b4b4" stroke-width="0.45" />
<line x1="150.8" y1="391.6" x2="139.3" y2="367.4" stroke="#b4b4b4" stroke-width="0.45" />
<line x1="44.2" y1="330.5" x2="65.8" y2="324.9" stroke="#b4b4b4" stroke-width="0.45" />
<circle cx="109.6" cy="246.7" r="7.80" fill="#93c1e0" stroke="none" stroke-width="1" />
<circle cx="81.9" cy="253.6" r="7.80" fill="#f3e1de" stroke="none" stroke-width="1" />
<circle cx="126.0" cy="257.6" r="7.80" fill="#dae6f1" stroke="none" stroke-width="1" />
<circle cx="146.2" cy="255.0" r="6.95" fill="#1d4f9c" stroke="#10109a" stroke-width="1.7" />
<circle cx="100.4" cy="262.7" r="7.80" fill="#ecc6be" stroke="none" stroke-width="1" />
<circle cx="63.4" cy="266.0" r="7.80" fill="#dae6f1" stroke="none" stroke-width="1" />
<circle cx="160.2" cy="267.2" r="7.80" fill="#5a9dcf" stroke="none" stroke-width="1" />
<circle cx="86.0" cy="273.8" r="6.95" fill="#2565ab" stroke="#10109a" stroke-width="1.7" />
<circle cx="141.2" cy="273.7" r="7.80" fill="#dae6f1" stroke="none" stroke-width="1" />
<circle cx="121.4" cy="276.0" r="7.80" fill="#f1f1f1" stroke="none" stroke-width="1" />
<circle cx="174.7" cy="277.5" r="7.80" fill="#f3e1de" stroke="none" stroke-width="1" />
<circle cx="102.8" cy="279.6" r="7.80" fill="#cadff0" stroke="none" stroke-width="1" />
<circle cx="46.6" cy="279.6" r="6.95" fill="#c01f2c" stroke="#ff9a00" stroke-width="1.7" />
<circle cx="71.5" cy="284.9" r="7.80" fill="#f3e1de" stroke="none" stroke-width="1" />
<circle cx="126.0" cy="294.2" r="6.95" fill="#c01f2c" stroke="#ff9a00" stroke-width="1.7" />
<circle cx="145.4" cy="291.6" r="6.95" fill="#c01f2c" stroke="#ff9a00" stroke-width="1.7" />
<circle cx="167.1" cy="292.1" r="7.80" fill="#c8dcec" stroke="none" stroke-width="1" />
<circle cx="188.3" cy="292.1" r="7.80" fill="#dae6f1" stroke="none" stroke-width="1" />
<circle cx="59.4" cy="294.5" r="6.95" fill="#2565ab" stroke="#10109a" stroke-width="1.7" />
<circle cx="35.0" cy="298.1" r="6.95" fill="#4a90c8" stroke="#10109a" stroke-width="1.7" />
<circle cx="85.8" cy="298.5" r="7.80" fill="#ecc4bc" stroke="none" stroke-width="1" />
<circle cx="106.6" cy="298.8" r="7.80" fill="#d2e3f0" stroke="none" stroke-width="1" />
<circle cx="169.7" cy="307.0" r="7.80" fill="#e0948a" stroke="none" stroke-width="1" />
<circle cx="189.8" cy="309.0" r="6.95" fill="#c01f2c" stroke="#ff9a00" stroke-width="1.7" />
<circle cx="47.9" cy="309.5" r="7.80" fill="#bcd6ea" stroke="none" stroke-width="1" />
<circle cx="65.8" cy="309.0" r="7.80" fill="#e8b2aa" stroke="none" stroke-width="1" />
<circle cx="141.2" cy="311.4" r="7.80" fill="#dc9088" stroke="none" stroke-width="1" />
<circle cx="84.6" cy="319.3" r="6.95" fill="#c01f2c" stroke="#ff9a00" stroke-width="1.7" />
<circle cx="177.6" cy="323.3" r="6.95" fill="#c01f2c" stroke="#ff9a00" stroke-width="1.7" />
<circle cx="26.5" cy="323.3" r="7.80" fill="#efcfc9" stroke="none" stroke-width="1" />
<circle cx="65.8" cy="324.9" r="7.80" fill="#e8b0a8" stroke="none" stroke-width="1" />
<circle cx="156.2" cy="327.0" r="7.80" fill="#f1f1f1" stroke="none" stroke-width="1" />
<circle cx="198.0" cy="329.7" r="7.80" fill="#5a9dcf" stroke="none" stroke-width="1" />
<circle cx="44.2" cy="330.5" r="7.80" fill="#e8a89c" stroke="none" stroke-width="1" />
<circle cx="138.5" cy="335.3" r="6.95" fill="#c01f2c" stroke="#ff9a00" stroke-width="1.7" />
<circle cx="165.8" cy="339.3" r="7.80" fill="#dae6f1" stroke="none" stroke-width="1" />
<circle cx="63.1" cy="343.4" r="7.80" fill="#4a98d0" stroke="none" stroke-width="1" />
<circle cx="85.1" cy="343.0" r="6.95" fill="#2a5ea4" stroke="#10109a" stroke-width="1.7" />
<circle cx="32.1" cy="345.8" r="7.80" fill="#ecc0b8" stroke="none" stroke-width="1" />
<circle cx="183.2" cy="345.4" r="7.80" fill="#f3e1de" stroke="none" stroke-width="1" />
<circle cx="145.0" cy="353.0" r="7.80" fill="#c01f2c" stroke="none" stroke-width="1" />
<circle cx="122.2" cy="354.6" r="6.95" fill="#c01f2c" stroke="#ff9a00" stroke-width="1.7" />
<circle cx="166.3" cy="355.4" r="7.80" fill="#5a9dcf" stroke="none" stroke-width="1" />
<circle cx="101.2" cy="356.2" r="7.80" fill="#e8b0a8" stroke="none" stroke-width="1" />
<circle cx="70.7" cy="358.1" r="7.80" fill="#c01f2c" stroke="none" stroke-width="1" />
<circle cx="34.0" cy="361.8" r="7.80" fill="#ecc0b8" stroke="none" stroke-width="1" />
<circle cx="183.8" cy="365.0" r="7.80" fill="#6aa8d8" stroke="none" stroke-width="1" />
<circle cx="139.3" cy="367.4" r="7.80" fill="#dae6f1" stroke="none" stroke-width="1" />
<circle cx="61.0" cy="368.7" r="6.95" fill="#2c6fb5" stroke="#10109a" stroke-width="1.7" />
<circle cx="86.7" cy="368.7" r="6.95" fill="#6aaad8" stroke="#10109a" stroke-width="1.7" />
<circle cx="118.5" cy="373.6" r="7.80" fill="#dae6f1" stroke="none" stroke-width="1" />
<circle cx="156.5" cy="376.8" r="7.80" fill="#e8eef4" stroke="none" stroke-width="1" />
<circle cx="46.6" cy="379.5" r="7.80" fill="#f1f1f1" stroke="none" stroke-width="1" />
<circle cx="102.7" cy="379.7" r="7.80" fill="#f0d4d0" stroke="none" stroke-width="1" />
<circle cx="177.1" cy="381.6" r="7.80" fill="#edf1f5" stroke="none" stroke-width="1" />
<circle cx="69.9" cy="383.5" r="7.80" fill="#f3e1de" stroke="none" stroke-width="1" />
<circle cx="124.1" cy="389.0" r="6.95" fill="#c01f2c" stroke="#ff9a00" stroke-width="1.7" />
<circle cx="150.8" cy="391.6" r="6.95" fill="#c01f2c" stroke="#ff9a00" stroke-width="1.7" />
<circle cx="84.5" cy="394.2" r="6.95" fill="#c01f2c" stroke="#ff9a00" stroke-width="1.7" />
<circle cx="100.5" cy="398.8" r="6.95" fill="#4a90c8" stroke="#10109a" stroke-width="1.7" />
<circle cx="130.3" cy="404.5" r="6.95" fill="#2a6ab0" stroke="#10109a" stroke-width="1.7" />
<circle cx="113.2" cy="324.8" r="12.90" fill="#d6a6aa" stroke="#f28c38" stroke-width="2.6" />
<text x="109.6" y="249.2" font-size="7.2" text-anchor="middle" fill="#1a1a1a" stroke="#1a1a1a" stroke-width="0.06">Foxo1</text>
<text x="81.9" y="256.1" font-size="7.2" text-anchor="middle" fill="#1a1a1a" stroke="#1a1a1a" stroke-width="0.06">Ctsa</text>
<text x="126.0" y="260.1" font-size="7.2" text-anchor="middle" fill="#1a1a1a" stroke="#1a1a1a" stroke-width="0.06">Npc1</text>
<text x="146.2" y="257.5" font-size="7.2" text-anchor="middle" fill="#1a1a1a" stroke="#1a1a1a" stroke-width="0.06">Cd4</text>
<text x="100.4" y="265.2" font-size="7.2" text-anchor="middle" fill="#1a1a1a" stroke="#1a1a1a" stroke-width="0.06">Cst6</text>
<text x="63.4" y="268.5" font-size="7.2" text-anchor="middle" fill="#1a1a1a" stroke="#1a1a1a" stroke-width="0.06">Ctsb</text>
<text x="160.2" y="269.7" font-size="7.2" text-anchor="middle" fill="#1a1a1a" stroke="#1a1a1a" stroke-width="0.06">Psmb11</text>
<text x="86.0" y="276.3" font-size="7.2" text-anchor="middle" fill="#1a1a1a" stroke="#1a1a1a" stroke-width="0.06">Mmp3</text>
<text x="141.2" y="276.2" font-size="7.2" text-anchor="middle" fill="#1a1a1a" stroke="#1a1a1a" stroke-width="0.06">Ctsk</text>
<text x="121.4" y="278.5" font-size="7.2" text-anchor="middle" fill="#1a1a1a" stroke="#1a1a1a" stroke-width="0.06">Ctss</text>
<text x="174.7" y="280.0" font-size="7.2" text-anchor="middle" fill="#1a1a1a" stroke="#1a1a1a" stroke-width="0.06">Tmprss2</text>
<text x="102.8" y="282.1" font-size="7.2" text-anchor="middle" fill="#1a1a1a" stroke="#1a1a1a" stroke-width="0.06">Ctsw</text>
<text x="46.6" y="282.1" font-size="7.2" text-anchor="middle" fill="#1a1a1a" stroke="#1a1a1a" stroke-width="0.06">Cstb</text>
<text x="71.5" y="287.4" font-size="7.2" text-anchor="middle" fill="#1a1a1a" stroke="#1a1a1a" stroke-width="0.06">Gtpbp1</text>
<text x="126.0" y="296.7" font-size="7.2" text-anchor="middle" fill="#1a1a1a" stroke="#1a1a1a" stroke-width="0.06">Ctse</text>
<text x="145.4" y="294.1" font-size="7.2" text-anchor="middle" fill="#1a1a1a" stroke="#1a1a1a" stroke-width="0.06">Foxg1</text>
<text x="167.1" y="294.6" font-size="7.2" text-anchor="middle" fill="#1a1a1a" stroke="#1a1a1a" stroke-width="0.06">Hspa8</text>
<text x="188.3" y="294.6" font-size="7.2" text-anchor="middle" fill="#1a1a1a" stroke="#1a1a1a" stroke-width="0.06">Xiap</text>
<text x="59.4" y="297.0" font-size="7.2" text-anchor="middle" fill="#1a1a1a" stroke="#1a1a1a" stroke-width="0.06">Dpp4</text>
<text x="35.0" y="300.6" font-size="7.2" text-anchor="middle" fill="#1a1a1a" stroke="#1a1a1a" stroke-width="0.06">Tlr7</text>
<text x="85.8" y="301.0" font-size="7.2" text-anchor="middle" fill="#1a1a1a" stroke="#1a1a1a" stroke-width="0.06">Gm</text>
<text x="106.6" y="301.3" font-size="7.2" text-anchor="middle" fill="#1a1a1a" stroke="#1a1a1a" stroke-width="0.06">Lamp2</text>
<text x="169.7" y="309.5" font-size="7.2" text-anchor="middle" fill="#1a1a1a" stroke="#1a1a1a" stroke-width="0.06">Mmp12</text>
<text x="189.8" y="311.5" font-size="7.2" text-anchor="middle" fill="#1a1a1a" stroke="#1a1a1a" stroke-width="0.06">Birc5</text>
<text x="47.9" y="312.0" font-size="7.2" text-anchor="middle" fill="#1a1a1a" stroke="#1a1a1a" stroke-width="0.06">Ltf</text>
<text x="65.8" y="311.5" font-size="7.2" text-anchor="middle" fill="#1a1a1a" stroke="#1a1a1a" stroke-width="0.06">Tnf</text>
<text x="141.2" y="313.9" font-size="7.2" text-anchor="middle" fill="#1a1a1a" stroke="#1a1a1a" stroke-width="0.06">Tmprss4</text>
<text x="84.6" y="321.8" font-size="7.2" text-anchor="middle" fill="#1a1a1a" stroke="#1a1a1a" stroke-width="0.06">Mmp13</text>
<text x="177.6" y="325.8" font-size="7.2" text-anchor="middle" fill="#1a1a1a" stroke="#1a1a1a" stroke-width="0.06">Bid</text>
<text x="26.5" y="325.8" font-size="7.2" text-anchor="middle" fill="#1a1a1a" stroke="#1a1a1a" stroke-width="0.06">Bcl2l1</text>
<text x="65.8" y="327.4" font-size="7.2" text-anchor="middle" fill="#1a1a1a" stroke="#1a1a1a" stroke-width="0.06">Furin</text>
<text x="156.2" y="329.5" font-size="7.2" text-anchor="middle" fill="#1a1a1a" stroke="#1a1a1a" stroke-width="0.06">Acp2</text>
<text x="198.0" y="332.2" font-size="7.2" text-anchor="middle" fill="#1a1a1a" stroke="#1a1a1a" stroke-width="0.06">Ren1</text>
<text x="44.2" y="333.0" font-size="7.2" text-anchor="middle" fill="#1a1a1a" stroke="#1a1a1a" stroke-width="0.06">Ctsd</text>
<text x="138.5" y="337.8" font-size="7.2" text-anchor="middle" fill="#1a1a1a" stroke="#1a1a1a" stroke-width="0.06">Col18a1</text>
<text x="165.8" y="341.8" font-size="7.2" text-anchor="middle" fill="#1a1a1a" stroke="#1a1a1a" stroke-width="0.06">Lgmn</text>
<text x="63.1" y="345.9" font-size="7.2" text-anchor="middle" fill="#1a1a1a" stroke="#1a1a1a" stroke-width="0.06">Cd74</text>
<text x="85.1" y="345.5" font-size="7.2" text-anchor="middle" fill="#1a1a1a" stroke="#1a1a1a" stroke-width="0.06">Ctsf</text>
<text x="32.1" y="348.3" font-size="7.2" text-anchor="middle" fill="#1a1a1a" stroke="#1a1a1a" stroke-width="0.06">Ctsg</text>
<text x="183.2" y="347.9" font-size="7.2" text-anchor="middle" fill="#1a1a1a" stroke="#1a1a1a" stroke-width="0.06">Ace2</text>
<text x="145.0" y="355.5" font-size="7.2" text-anchor="middle" fill="#1a1a1a" stroke="#1a1a1a" stroke-width="0.06">Csta1</text>
<text x="122.2" y="357.1" font-size="7.2" text-anchor="middle" fill="#1a1a1a" stroke="#1a1a1a" stroke-width="0.06">Bnip3</text>
<text x="166.3" y="357.9" font-size="7.2" text-anchor="middle" fill="#1a1a1a" stroke="#1a1a1a" stroke-width="0.06">Birc3</text>
<text x="101.2" y="358.7" font-size="7.2" text-anchor="middle" fill="#1a1a1a" stroke="#1a1a1a" stroke-width="0.06">Ppp1ca</text>
<text x="70.7" y="360.6" font-size="7.2" text-anchor="middle" fill="#1a1a1a" stroke="#1a1a1a" stroke-width="0.06">Tmprss11a</text>
<text x="34.0" y="364.3" font-size="7.2" text-anchor="middle" fill="#1a1a1a" stroke="#1a1a1a" stroke-width="0.06">Tmprss11d</text>
<text x="183.8" y="367.5" font-size="7.2" text-anchor="middle" fill="#1a1a1a" stroke="#1a1a1a" stroke-width="0.06">Cst3</text>
<text x="139.3" y="369.9" font-size="7.2" text-anchor="middle" fill="#1a1a1a" stroke="#1a1a1a" stroke-width="0.06">Fbxo32</text>
<text x="61.0" y="371.2" font-size="7.2" text-anchor="middle" fill="#1a1a1a" stroke="#1a1a1a" stroke-width="0.06">Tlr9</text>
<text x="86.7" y="371.2" font-size="7.2" text-anchor="middle" fill="#1a1a1a" stroke="#1a1a1a" stroke-width="0.06">Il1b</text>
<text x="118.5" y="376.1" font-size="7.2" text-anchor="middle" fill="#1a1a1a" stroke="#1a1a1a" stroke-width="0.06">Synpo</text>
<text x="156.5" y="379.3" font-size="7.2" text-anchor="middle" fill="#1a1a1a" stroke="#1a1a1a" stroke-width="0.06">Birc2</text>
<text x="46.6" y="382.0" font-size="7.2" text-anchor="middle" fill="#1a1a1a" stroke="#1a1a1a" stroke-width="0.06">Serpinb13</text>
<text x="102.7" y="382.2" font-size="7.2" text-anchor="middle" fill="#1a1a1a" stroke="#1a1a1a" stroke-width="0.06">Bcl2</text>
<text x="177.1" y="384.1" font-size="7.2" text-anchor="middle" fill="#1a1a1a" stroke="#1a1a1a" stroke-width="0.06">Lamp1</text>
<text x="69.9" y="386.0" font-size="7.2" text-anchor="middle" fill="#1a1a1a" stroke="#1a1a1a" stroke-width="0.06">Mmp9</text>
<text x="124.1" y="391.5" font-size="7.2" text-anchor="middle" fill="#1a1a1a" stroke="#1a1a1a" stroke-width="0.06">Mmp7</text>
<text x="150.8" y="394.1" font-size="7.2" text-anchor="middle" fill="#1a1a1a" stroke="#1a1a1a" stroke-width="0.06">Prss16</text>
<text x="84.5" y="396.7" font-size="7.2" text-anchor="middle" fill="#1a1a1a" stroke="#1a1a1a" stroke-width="0.06">Hoxa10</text>
<text x="100.5" y="401.3" font-size="7.2" text-anchor="middle" fill="#1a1a1a" stroke="#1a1a1a" stroke-width="0.06">Il6</text>
<text x="130.3" y="407.0" font-size="7.2" text-anchor="middle" fill="#1a1a1a" stroke="#1a1a1a" stroke-width="0.06">Apbb1</text>
<text x="113.2" y="327.9" font-size="8.8" text-anchor="middle" fill="#fff" font-weight="bold">Ctsl</text>
<text x="240.8" y="216.5" font-size="9.5" font-weight="bold">F</text>
<text x="337.5" y="221.9" font-size="8.4" text-anchor="middle" fill="#111" textLength="58" lengthAdjust="spacingAndGlyphs" stroke="#111" stroke-width="0.18">Muscle: TB vs CON</text>
<line x1="240.8" y1="227.2" x2="438.9" y2="227.2" stroke="#333" stroke-width="1" />
<circle cx="245.9" cy="240.3" r="4.80" fill="none" stroke="#ff9a00" stroke-width="1.7" />
<circle cx="245.9" cy="252.6" r="4.80" fill="none" stroke="#1010a0" stroke-width="1.7" />
<text x="253.9" y="242.6" font-size="6.6" fill="#d83030" textLength="20" lengthAdjust="spacingAndGlyphs" stroke="#d83030" stroke-width="0.18">Up-DEG</text>
<text x="253.9" y="254.9" font-size="6.6" fill="#5a8ad8" textLength="28" lengthAdjust="spacingAndGlyphs" stroke="#5a8ad8" stroke-width="0.18">Down-DEG</text>
<defs><linearGradient id="gN227" x1="0" y1="0" x2="0" y2="1"><stop offset="0" stop-color="#b2182b"/><stop offset="0.25" stop-color="#e07b67"/><stop offset="0.5" stop-color="#f7f7f7"/><stop offset="0.75" stop-color="#74add1"/><stop offset="1" stop-color="#2166ac"/></linearGradient></defs>
<rect x="425.0" y="241.9" width="5.7" height="27.3" fill="url(#gN227)" stroke="none" stroke-width="1" />
<text x="428.5" y="236.0" font-size="5.6" text-anchor="end" fill="#222" textLength="8" lengthAdjust="spacingAndGlyphs" stroke="#222" stroke-width="0.18">log</text>
<text x="428.6" y="237.3" font-size="3.6" fill="#222" stroke="#222" stroke-width="0.18">2</text>
<text x="430.6" y="236.0" font-size="5.6" fill="#222" textLength="6.4" lengthAdjust="spacingAndGlyphs" stroke="#222" stroke-width="0.18">FC</text>
<text x="433.2" y="246.6" font-size="6.6" fill="#222" stroke="#222" stroke-width="0.18">2</text>
<text x="433.2" y="257.1" font-size="6.6" fill="#222" stroke="#222" stroke-width="0.18">0</text>
<text x="431.8" y="268.3" font-size="6.6" fill="#222" stroke="#222" stroke-width="0.18">-2</text>
<line x1="340.8" y1="324.2" x2="337.2" y2="246.1" stroke="#b4b4b4" stroke-width="0.45" />
<line x1="340.8" y1="324.2" x2="309.5" y2="253.0" stroke="#b4b4b4" stroke-width="0.45" />
<line x1="340.8" y1="324.2" x2="353.6" y2="257.0" stroke="#b4b4b4" stroke-width="0.45" />
<line x1="340.8" y1="324.2" x2="373.8" y2="254.4" stroke="#b4b4b4" stroke-width="0.45" />
<line x1="340.8" y1="324.2" x2="328.0" y2="262.1" stroke="#b4b4b4" stroke-width="0.45" />
<line x1="340.8" y1="324.2" x2="291.0" y2="265.4" stroke="#b4b4b4" stroke-width="0.45" />
<line x1="340.8" y1="324.2" x2="387.8" y2="266.6" stroke="#b4b4b4" stroke-width="0.45" />
<line x1="340.8" y1="324.2" x2="313.6" y2="273.2" stroke="#b4b4b4" stroke-width="0.45" />
<line x1="340.8" y1="324.2" x2="368.8" y2="273.1" stroke="#b4b4b4" stroke-width="0.45" />
<line x1="340.8" y1="324.2" x2="349.0" y2="275.4" stroke="#b4b4b4" stroke-width="0.45" />
<line x1="340.8" y1="324.2" x2="402.3" y2="276.9" stroke="#b4b4b4" stroke-width="0.45" />
<line x1="340.8" y1="324.2" x2="330.4" y2="279.0" stroke="#b4b4b4" stroke-width="0.45" />
<line x1="340.8" y1="324.2" x2="274.2" y2="279.0" stroke="#b4b4b4" stroke-width="0.45" />
<line x1="340.8" y1="324.2" x2="299.1" y2="284.3" stroke="#b4b4b4" stroke-width="0.45" />
<line x1="340.8" y1="324.2" x2="353.6" y2="293.6" stroke="#b4b4b4" stroke-width="0.45" />
<line x1="340.8" y1="324.2" x2="373.0" y2="291.0" stroke="#b4b4b4" stroke-width="0.45" />
<line x1="340.8" y1="324.2" x2="394.7" y2="291.5" stroke="#b4b4b4" stroke-width="0.45" />
<line x1="340.8" y1="324.2" x2="415.9" y2="291.5" stroke="#b4b4b4" stroke-width="0.45" />
<line x1="340.8" y1="324.2" x2="287.0" y2="293.9" stroke="#b4b4b4" stroke-width="0.45" />
<line x1="340.8" y1="324.2" x2="262.6" y2="297.5" stroke="#b4b4b4" stroke-width="0.45" />
<line x1="340.8" y1="324.2" x2="313.4" y2="297.9" stroke="#b4b4b4" stroke-width="0.45" />
<line x1="340.8" y1="324.2" x2="334.2" y2="298.2" stroke="#b4b4b4" stroke-width="0.45" />
<line x1="340.8" y1="324.2" x2="397.3" y2="306.4" stroke="#b4b4b4" stroke-width="0.45" />
<line x1="340.8" y1="324.2" x2="417.4" y2="308.4" stroke="#b4b4b4" stroke-width="0.45" />
<line x1="340.8" y1="324.2" x2="275.5" y2="308.9" stroke="#b4b4b4" stroke-width="0.45" />
<line x1="340.8" y1="324.2" x2="293.4" y2="308.4" stroke="#b4b4b4" stroke-width="0.45" />
<line x1="340.8" y1="324.2" x2="368.8" y2="310.8" stroke="#b4b4b4" stroke-width="0.45" />
<line x1="340.8" y1="324.2" x2="312.2" y2="318.7" stroke="#b4b4b4" stroke-width="0.45" />
<line x1="340.8" y1="324.2" x2="405.2" y2="322.7" stroke="#b4b4b4" stroke-width="0.45" />
<line x1="340.8" y1="324.2" x2="254.1" y2="322.7" stroke="#b4b4b4" stroke-width="0.45" />
<line x1="340.8" y1="324.2" x2="293.4" y2="324.3" stroke="#b4b4b4" stroke-width="0.45" />
<line x1="340.8" y1="324.2" x2="383.8" y2="326.4" stroke="#b4b4b4" stroke-width="0.45" />
<line x1="340.8" y1="324.2" x2="425.6" y2="329.1" stroke="#b4b4b4" stroke-width="0.45" />
<line x1="340.8" y1="324.2" x2="271.8" y2="329.9" stroke="#b4b4b4" stroke-width="0.45" />
<line x1="340.8" y1="324.2" x2="366.1" y2="334.7" stroke="#b4b4b4" stroke-width="0.45" />
<line x1="340.8" y1="324.2" x2="393.4" y2="338.7" stroke="#b4b4b4" stroke-width="0.45" />
<line x1="340.8" y1="324.2" x2="290.7" y2="342.8" stroke="#b4b4b4" stroke-width="0.45" />
<line x1="340.8" y1="324.2" x2="312.7" y2="342.4" stroke="#b4b4b4" stroke-width="0.45" />
<line x1="340.8" y1="324.2" x2="259.7" y2="345.2" stroke="#b4b4b4" stroke-width="0.45" />
<line x1="340.8" y1="324.2" x2="410.8" y2="344.8" stroke="#b4b4b4" stroke-width="0.45" />
<line x1="340.8" y1="324.2" x2="372.6" y2="352.4" stroke="#b4b4b4" stroke-width="0.45" />
<line x1="340.8" y1="324.2" x2="349.8" y2="354.0" stroke="#b4b4b4" stroke-width="0.45" />
<line x1="340.8" y1="324.2" x2="393.9" y2="354.8" stroke="#b4b4b4" stroke-width="0.45" />
<line x1="340.8" y1="324.2" x2="328.8" y2="355.6" stroke="#b4b4b4" stroke-width="0.45" />
<line x1="340.8" y1="324.2" x2="298.3" y2="357.5" stroke="#b4b4b4" stroke-width="0.45" />
<line x1="340.8" y1="324.2" x2="261.6" y2="361.2" stroke="#b4b4b4" stroke-width="0.45" />
<line x1="340.8" y1="324.2" x2="411.4" y2="364.4" stroke="#b4b4b4" stroke-width="0.45" />
<line x1="340.8" y1="324.2" x2="366.9" y2="366.8" stroke="#b4b4b4" stroke-width="0.45" />
<line x1="340.8" y1="324.2" x2="288.6" y2="368.1" stroke="#b4b4b4" stroke-width="0.45" />
<line x1="340.8" y1="324.2" x2="314.3" y2="368.1" stroke="#b4b4b4" stroke-width="0.45" />
<line x1="340.8" y1="324.2" x2="346.1" y2="373.0" stroke="#b4b4b4" stroke-width="0.45" />
<line x1="340.8" y1="324.2" x2="384.1" y2="376.2" stroke="#b4b4b4" stroke-width="0.45" />
<line x1="340.8" y1="324.2" x2="274.2" y2="378.9" stroke="#b4b4b4" stroke-width="0.45" />
<line x1="340.8" y1="324.2" x2="330.3" y2="379.1" stroke="#b4b4b4" stroke-width="0.45" />
<line x1="340.8" y1="324.2" x2="404.7" y2="381.0" stroke="#b4b4b4" stroke-width="0.45" />
<line x1="340.8" y1="324.2" x2="297.5" y2="382.9" stroke="#b4b4b4" stroke-width="0.45" />
<line x1="340.8" y1="324.2" x2="351.7" y2="388.4" stroke="#b4b4b4" stroke-width="0.45" />
<line x1="340.8" y1="324.2" x2="378.4" y2="391.0" stroke="#b4b4b4" stroke-width="0.45" />
<line x1="340.8" y1="324.2" x2="312.1" y2="393.6" stroke="#b4b4b4" stroke-width="0.45" />
<line x1="340.8" y1="324.2" x2="328.1" y2="398.2" stroke="#b4b4b4" stroke-width="0.45" />
<line x1="340.8" y1="324.2" x2="357.9" y2="403.9" stroke="#b4b4b4" stroke-width="0.45" />
<line x1="309.5" y1="253.0" x2="313.6" y2="273.2" stroke="#b4b4b4" stroke-width="0.45" />
<line x1="291.0" y1="265.4" x2="299.1" y2="284.3" stroke="#b4b4b4" stroke-width="0.45" />
<line x1="274.2" y1="279.0" x2="313.4" y2="297.9" stroke="#b4b4b4" stroke-width="0.45" />
<line x1="262.6" y1="297.5" x2="275.5" y2="308.9" stroke="#b4b4b4" stroke-width="0.45" />
<line x1="373.8" y1="254.4" x2="368.8" y2="273.1" stroke="#b4b4b4" stroke-width="0.45" />
<line x1="353.6" y1="257.0" x2="349.0" y2="275.4" stroke="#b4b4b4" stroke-width="0.45" />
<line x1="387.8" y1="266.6" x2="373.0" y2="291.0" stroke="#b4b4b4" stroke-width="0.45" />
<line x1="402.3" y1="276.9" x2="394.7" y2="291.5" stroke="#b4b4b4" stroke-width="0.45" />
<line x1="415.9" y1="291.5" x2="397.3" y2="306.4" stroke="#b4b4b4" stroke-width="0.45" />
<line x1="417.4" y1="308.4" x2="368.8" y2="310.8" stroke="#b4b4b4" stroke-width="0.45" />
<line x1="425.6" y1="329.1" x2="383.8" y2="326.4" stroke="#b4b4b4" stroke-width="0.45" />
<line x1="410.8" y1="344.8" x2="393.4" y2="338.7" stroke="#b4b4b4" stroke-width="0.45" />
<line x1="411.4" y1="364.4" x2="393.9" y2="354.8" stroke="#b4b4b4" stroke-width="0.45" />
<line x1="404.7" y1="381.0" x2="372.6" y2="352.4" stroke="#b4b4b4" stroke-width="0.45" />
<line x1="357.9" y1="403.9" x2="378.4" y2="391.0" stroke="#b4b4b4" stroke-width="0.45" />
<line x1="312.1" y1="393.6" x2="314.3" y2="368.1" stroke="#b4b4b4" stroke-width="0.45" />
<line x1="274.2" y1="378.9" x2="298.3" y2="357.5" stroke="#b4b4b4" stroke-width="0.45" />
<line x1="297.5" y1="382.9" x2="288.6" y2="368.1" stroke="#b4b4b4" stroke-width="0.45" />
<line x1="384.1" y1="376.2" x2="366.9" y2="366.8" stroke="#b4b4b4" stroke-width="0.45" />
<line x1="261.6" y1="361.2" x2="290.7" y2="342.8" stroke="#b4b4b4" stroke-width="0.45" />
<line x1="259.7" y1="345.2" x2="290.7" y2="342.8" stroke="#b4b4b4" stroke-width="0.45" />
<line x1="254.1" y1="322.7" x2="293.4" y2="324.3" stroke="#b4b4b4" stroke-width="0.45" />
<line x1="328.0" y1="262.1" x2="330.4" y2="279.0" stroke="#b4b4b4" stroke-width="0.45" />
<line x1="337.2" y1="246.1" x2="334.2" y2="298.2" stroke="#b4b4b4" stroke-width="0.45" />
<line x1="351.7" y1="388.4" x2="346.1" y2="373.0" stroke="#b4b4b4" stroke-width="0.45" />
<line x1="328.1" y1="398.2" x2="330.3" y2="379.1" stroke="#b4b4b4" stroke-width="0.45" />
<line x1="394.7" y1="291.5" x2="397.3" y2="306.4" stroke="#b4b4b4" stroke-width="0.45" />
<line x1="393.4" y1="338.7" x2="393.9" y2="354.8" stroke="#b4b4b4" stroke-width="0.45" />
<line x1="378.4" y1="391.0" x2="366.9" y2="366.8" stroke="#b4b4b4" stroke-width="0.45" />
<line x1="271.8" y1="329.9" x2="293.4" y2="324.3" stroke="#b4b4b4" stroke-width="0.45" />
<circle cx="337.2" cy="246.1" r="6.95" fill="#c01f2c" stroke="#ff9a00" stroke-width="1.7" />
<circle cx="309.5" cy="253.0" r="7.80" fill="#f3e1de" stroke="none" stroke-width="1" />
<circle cx="353.6" cy="257.0" r="6.95" fill="#c01f2c" stroke="#ff9a00" stroke-width="1.7" />
<circle cx="373.8" cy="254.4" r="7.80" fill="#2a6ab8" stroke="none" stroke-width="1" />
<circle cx="328.0" cy="262.1" r="7.80" fill="#f0dcd8" stroke="none" stroke-width="1" />
<circle cx="291.0" cy="265.4" r="7.80" fill="#f2e0dc" stroke="none" stroke-width="1" />
<circle cx="387.8" cy="266.6" r="7.80" fill="#f4eeee" stroke="none" stroke-width="1" />
<circle cx="313.6" cy="273.2" r="7.80" fill="#e4a8a0" stroke="none" stroke-width="1" />
<circle cx="368.8" cy="273.1" r="7.80" fill="#f4eeee" stroke="none" stroke-width="1" />
<circle cx="349.0" cy="275.4" r="7.80" fill="#f4e8e8" stroke="none" stroke-width="1" />
<circle cx="402.3" cy="276.9" r="7.80" fill="#c01f2c" stroke="none" stroke-width="1" />
<circle cx="330.4" cy="279.0" r="7.80" fill="#a8cce4" stroke="none" stroke-width="1" />
<circle cx="274.2" cy="279.0" r="7.80" fill="#e8aca4" stroke="none" stroke-width="1" />
<circle cx="299.1" cy="284.3" r="7.80" fill="#f4e4e2" stroke="none" stroke-width="1" />
<circle cx="353.6" cy="293.6" r="7.80" fill="#c01f2c" stroke="none" stroke-width="1" />
<circle cx="373.0" cy="291.0" r="7.80" fill="#9ec8e4" stroke="none" stroke-width="1" />
<circle cx="394.7" cy="291.5" r="7.80" fill="#f4ecea" stroke="none" stroke-width="1" />
<circle cx="415.9" cy="291.5" r="7.80" fill="#dae6f1" stroke="none" stroke-width="1" />
<circle cx="287.0" cy="293.9" r="6.95" fill="#4a90c8" stroke="#10109a" stroke-width="1.7" />
<circle cx="262.6" cy="297.5" r="7.80" fill="#88b8dc" stroke="none" stroke-width="1" />
<circle cx="313.4" cy="297.9" r="7.80" fill="#eef2f4" stroke="none" stroke-width="1" />
<circle cx="334.2" cy="298.2" r="6.95" fill="#e09080" stroke="#ff9a00" stroke-width="1.7" />
<circle cx="397.3" cy="306.4" r="7.80" fill="#d87870" stroke="none" stroke-width="1" />
<circle cx="417.4" cy="308.4" r="7.80" fill="#90bcdc" stroke="none" stroke-width="1" />
<circle cx="275.5" cy="308.9" r="7.80" fill="#ecc8c4" stroke="none" stroke-width="1" />
<circle cx="293.4" cy="308.4" r="7.80" fill="#f2e4e2" stroke="none" stroke-width="1" />
<circle cx="368.8" cy="310.8" r="7.80" fill="#a8cce4" stroke="none" stroke-width="1" />
<circle cx="312.2" cy="318.7" r="7.80" fill="#dfe8f0" stroke="none" stroke-width="1" />
<circle cx="405.2" cy="322.7" r="6.95" fill="#d89080" stroke="#ff9a00" stroke-width="1.7" />
<circle cx="254.1" cy="322.7" r="6.95" fill="#d86050" stroke="#ff9a00" stroke-width="1.7" />
<circle cx="293.4" cy="324.3" r="6.95" fill="#e08070" stroke="#ff9a00" stroke-width="1.7" />
<circle cx="383.8" cy="326.4" r="7.80" fill="#e2eaf2" stroke="none" stroke-width="1" />
<circle cx="425.6" cy="329.1" r="7.80" fill="#dce6ee" stroke="none" stroke-width="1" />
<circle cx="271.8" cy="329.9" r="6.95" fill="#e8a098" stroke="#ff9a00" stroke-width="1.7" />
<circle cx="366.1" cy="334.7" r="6.95" fill="#8cbcdc" stroke="#10109a" stroke-width="1.7" />
<circle cx="393.4" cy="338.7" r="7.80" fill="#c8dcec" stroke="none" stroke-width="1" />
<circle cx="290.7" cy="342.8" r="6.95" fill="#a8cce4" stroke="#10109a" stroke-width="1.7" />
<circle cx="312.7" cy="342.4" r="7.80" fill="#f2ecec" stroke="none" stroke-width="1" />
<circle cx="259.7" cy="345.2" r="7.80" fill="#dae6f1" stroke="none" stroke-width="1" />
<circle cx="410.8" cy="344.8" r="6.95" fill="#5a9cd0" stroke="#10109a" stroke-width="1.7" />
<circle cx="372.6" cy="352.4" r="7.80" fill="#d8e6f0" stroke="none" stroke-width="1" />
<circle cx="349.8" cy="354.0" r="6.95" fill="#c01f2c" stroke="#ff9a00" stroke-width="1.7" />
<circle cx="393.9" cy="354.8" r="7.80" fill="#f0d8d8" stroke="none" stroke-width="1" />
<circle cx="328.8" cy="355.6" r="7.80" fill="#f4eeee" stroke="none" stroke-width="1" />
<circle cx="298.3" cy="357.5" r="7.80" fill="#5a9cd0" stroke="none" stroke-width="1" />
<circle cx="261.6" cy="361.2" r="7.80" fill="#f1f1f1" stroke="none" stroke-width="1" />
<circle cx="411.4" cy="364.4" r="7.80" fill="#d8e6f0" stroke="none" stroke-width="1" />
<circle cx="366.9" cy="366.8" r="6.95" fill="#c01f2c" stroke="#ff9a00" stroke-width="1.7" />
<circle cx="288.6" cy="368.1" r="7.80" fill="#a4c8e2" stroke="none" stroke-width="1" />
<circle cx="314.3" cy="368.1" r="7.80" fill="#c01f2c" stroke="none" stroke-width="1" />
<circle cx="346.1" cy="373.0" r="7.80" fill="#ecc8c4" stroke="none" stroke-width="1" />
<circle cx="384.1" cy="376.2" r="7.80" fill="#f2dcdc" stroke="none" stroke-width="1" />
<circle cx="274.2" cy="378.9" r="7.80" fill="#f1f1f1" stroke="none" stroke-width="1" />
<circle cx="330.3" cy="379.1" r="6.95" fill="#a8cce4" stroke="#10109a" stroke-width="1.7" />
<circle cx="404.7" cy="381.0" r="7.80" fill="#f0d0cc" stroke="none" stroke-width="1" />
<circle cx="297.5" cy="382.9" r="7.80" fill="#5a9cd0" stroke="none" stroke-width="1" />
<circle cx="351.7" cy="388.4" r="7.80" fill="#f1f1f1" stroke="none" stroke-width="1" />
<circle cx="378.4" cy="391.0" r="7.80" fill="#f1f1f1" stroke="none" stroke-width="1" />
<circle cx="312.1" cy="393.6" r="7.80" fill="#dae6f1" stroke="none" stroke-width="1" />
<circle cx="328.1" cy="398.2" r="6.95" fill="#c01f2c" stroke="#ff9a00" stroke-width="1.7" />
<circle cx="357.9" cy="403.9" r="7.80" fill="#c8dcec" stroke="none" stroke-width="1" />
<circle cx="340.8" cy="324.2" r="12.90" fill="#c80c0c" stroke="#f08030" stroke-width="2.6" />
<text x="337.2" y="248.6" font-size="7.2" text-anchor="middle" fill="#1a1a1a" stroke="#1a1a1a" stroke-width="0.06">Foxo1</text>
<text x="309.5" y="255.5" font-size="7.2" text-anchor="middle" fill="#1a1a1a" stroke="#1a1a1a" stroke-width="0.06">Ctsa</text>
<text x="353.6" y="259.5" font-size="7.2" text-anchor="middle" fill="#1a1a1a" stroke="#1a1a1a" stroke-width="0.06">Npc1</text>
<text x="373.8" y="256.9" font-size="7.2" text-anchor="middle" fill="#1a1a1a" stroke="#1a1a1a" stroke-width="0.06">Cd4</text>
<text x="328.0" y="264.6" font-size="7.2" text-anchor="middle" fill="#1a1a1a" stroke="#1a1a1a" stroke-width="0.06">Cst6</text>
<text x="291.0" y="267.9" font-size="7.2" text-anchor="middle" fill="#1a1a1a" stroke="#1a1a1a" stroke-width="0.06">Ctsb</text>
<text x="387.8" y="269.1" font-size="7.2" text-anchor="middle" fill="#1a1a1a" stroke="#1a1a1a" stroke-width="0.06">Psmb11</text>
<text x="313.6" y="275.7" font-size="7.2" text-anchor="middle" fill="#1a1a1a" stroke="#1a1a1a" stroke-width="0.06">Mmp3</text>
<text x="368.8" y="275.6" font-size="7.2" text-anchor="middle" fill="#1a1a1a" stroke="#1a1a1a" stroke-width="0.06">Ctsk</text>
<text x="349.0" y="277.9" font-size="7.2" text-anchor="middle" fill="#1a1a1a" stroke="#1a1a1a" stroke-width="0.06">Ctss</text>
<text x="402.3" y="279.4" font-size="7.2" text-anchor="middle" fill="#1a1a1a" stroke="#1a1a1a" stroke-width="0.06">Tmprss2</text>
<text x="330.4" y="281.5" font-size="7.2" text-anchor="middle" fill="#1a1a1a" stroke="#1a1a1a" stroke-width="0.06">Ctsw</text>
<text x="274.2" y="281.5" font-size="7.2" text-anchor="middle" fill="#1a1a1a" stroke="#1a1a1a" stroke-width="0.06">Cstb</text>
<text x="299.1" y="286.8" font-size="7.2" text-anchor="middle" fill="#1a1a1a" stroke="#1a1a1a" stroke-width="0.06">Gtpbp1</text>
<text x="353.6" y="296.1" font-size="7.2" text-anchor="middle" fill="#1a1a1a" stroke="#1a1a1a" stroke-width="0.06">Ctse</text>
<text x="373.0" y="293.5" font-size="7.2" text-anchor="middle" fill="#1a1a1a" stroke="#1a1a1a" stroke-width="0.06">Foxg1</text>
<text x="394.7" y="294.0" font-size="7.2" text-anchor="middle" fill="#1a1a1a" stroke="#1a1a1a" stroke-width="0.06">Hspa8</text>
<text x="415.9" y="294.0" font-size="7.2" text-anchor="middle" fill="#1a1a1a" stroke="#1a1a1a" stroke-width="0.06">Xiap</text>
<text x="287.0" y="296.4" font-size="7.2" text-anchor="middle" fill="#1a1a1a" stroke="#1a1a1a" stroke-width="0.06">Dpp4</text>
<text x="262.6" y="300.0" font-size="7.2" text-anchor="middle" fill="#1a1a1a" stroke="#1a1a1a" stroke-width="0.06">Tlr7</text>
<text x="313.4" y="300.4" font-size="7.2" text-anchor="middle" fill="#1a1a1a" stroke="#1a1a1a" stroke-width="0.06">Gm</text>
<text x="334.2" y="300.7" font-size="7.2" text-anchor="middle" fill="#1a1a1a" stroke="#1a1a1a" stroke-width="0.06">Lamp2</text>
<text x="397.3" y="308.9" font-size="7.2" text-anchor="middle" fill="#1a1a1a" stroke="#1a1a1a" stroke-width="0.06">Mmp12</text>
<text x="417.4" y="310.9" font-size="7.2" text-anchor="middle" fill="#1a1a1a" stroke="#1a1a1a" stroke-width="0.06">Birc5</text>
<text x="275.5" y="311.4" font-size="7.2" text-anchor="middle" fill="#1a1a1a" stroke="#1a1a1a" stroke-width="0.06">Ltf</text>
<text x="293.4" y="310.9" font-size="7.2" text-anchor="middle" fill="#1a1a1a" stroke="#1a1a1a" stroke-width="0.06">Tnf</text>
<text x="368.8" y="313.3" font-size="7.2" text-anchor="middle" fill="#1a1a1a" stroke="#1a1a1a" stroke-width="0.06">Tmprss4</text>
<text x="312.2" y="321.2" font-size="7.2" text-anchor="middle" fill="#1a1a1a" stroke="#1a1a1a" stroke-width="0.06">Mmp13</text>
<text x="405.2" y="325.2" font-size="7.2" text-anchor="middle" fill="#1a1a1a" stroke="#1a1a1a" stroke-width="0.06">Bid</text>
<text x="254.1" y="325.2" font-size="7.2" text-anchor="middle" fill="#1a1a1a" stroke="#1a1a1a" stroke-width="0.06">Bcl2l1</text>
<text x="293.4" y="326.8" font-size="7.2" text-anchor="middle" fill="#1a1a1a" stroke="#1a1a1a" stroke-width="0.06">Furin</text>
<text x="383.8" y="328.9" font-size="7.2" text-anchor="middle" fill="#1a1a1a" stroke="#1a1a1a" stroke-width="0.06">Acp2</text>
<text x="425.6" y="331.6" font-size="7.2" text-anchor="middle" fill="#1a1a1a" stroke="#1a1a1a" stroke-width="0.06">Ren1</text>
<text x="271.8" y="332.4" font-size="7.2" text-anchor="middle" fill="#1a1a1a" stroke="#1a1a1a" stroke-width="0.06">Ctsd</text>
<text x="366.1" y="337.2" font-size="7.2" text-anchor="middle" fill="#1a1a1a" stroke="#1a1a1a" stroke-width="0.06">Col18a1</text>
<text x="393.4" y="341.2" font-size="7.2" text-anchor="middle" fill="#1a1a1a" stroke="#1a1a1a" stroke-width="0.06">Lgmn</text>
<text x="290.7" y="345.3" font-size="7.2" text-anchor="middle" fill="#1a1a1a" stroke="#1a1a1a" stroke-width="0.06">Cd74</text>
<text x="312.7" y="344.9" font-size="7.2" text-anchor="middle" fill="#1a1a1a" stroke="#1a1a1a" stroke-width="0.06">Ctsf</text>
<text x="259.7" y="347.7" font-size="7.2" text-anchor="middle" fill="#1a1a1a" stroke="#1a1a1a" stroke-width="0.06">Ctsg</text>
<text x="410.8" y="347.3" font-size="7.2" text-anchor="middle" fill="#1a1a1a" stroke="#1a1a1a" stroke-width="0.06">Ace2</text>
<text x="372.6" y="354.9" font-size="7.2" text-anchor="middle" fill="#1a1a1a" stroke="#1a1a1a" stroke-width="0.06">Csta1</text>
<text x="349.8" y="356.5" font-size="7.2" text-anchor="middle" fill="#1a1a1a" stroke="#1a1a1a" stroke-width="0.06">Bnip3</text>
<text x="393.9" y="357.3" font-size="7.2" text-anchor="middle" fill="#1a1a1a" stroke="#1a1a1a" stroke-width="0.06">Birc3</text>
<text x="328.8" y="358.1" font-size="7.2" text-anchor="middle" fill="#1a1a1a" stroke="#1a1a1a" stroke-width="0.06">Ppp1ca</text>
<text x="298.3" y="360.0" font-size="7.2" text-anchor="middle" fill="#1a1a1a" stroke="#1a1a1a" stroke-width="0.06">Tmprss11a</text>
<text x="261.6" y="363.7" font-size="7.2" text-anchor="middle" fill="#1a1a1a" stroke="#1a1a1a" stroke-width="0.06">Tmprss11d</text>
<text x="411.4" y="366.9" font-size="7.2" text-anchor="middle" fill="#1a1a1a" stroke="#1a1a1a" stroke-width="0.06">Cst3</text>
<text x="366.9" y="369.3" font-size="7.2" text-anchor="middle" fill="#1a1a1a" stroke="#1a1a1a" stroke-width="0.06">Fbxo32</text>
<text x="288.6" y="370.6" font-size="7.2" text-anchor="middle" fill="#1a1a1a" stroke="#1a1a1a" stroke-width="0.06">Tlr9</text>
<text x="314.3" y="370.6" font-size="7.2" text-anchor="middle" fill="#1a1a1a" stroke="#1a1a1a" stroke-width="0.06">Il1b</text>
<text x="346.1" y="375.5" font-size="7.2" text-anchor="middle" fill="#1a1a1a" stroke="#1a1a1a" stroke-width="0.06">Synpo</text>
<text x="384.1" y="378.7" font-size="7.2" text-anchor="middle" fill="#1a1a1a" stroke="#1a1a1a" stroke-width="0.06">Birc2</text>
<text x="274.2" y="381.4" font-size="7.2" text-anchor="middle" fill="#1a1a1a" stroke="#1a1a1a" stroke-width="0.06">Serpinb13</text>
<text x="330.3" y="381.6" font-size="7.2" text-anchor="middle" fill="#1a1a1a" stroke="#1a1a1a" stroke-width="0.06">Bcl2</text>
<text x="404.7" y="383.5" font-size="7.2" text-anchor="middle" fill="#1a1a1a" stroke="#1a1a1a" stroke-width="0.06">Lamp1</text>
<text x="297.5" y="385.4" font-size="7.2" text-anchor="middle" fill="#1a1a1a" stroke="#1a1a1a" stroke-width="0.06">Mmp9</text>
<text x="351.7" y="390.9" font-size="7.2" text-anchor="middle" fill="#1a1a1a" stroke="#1a1a1a" stroke-width="0.06">Mmp7</text>
<text x="378.4" y="393.5" font-size="7.2" text-anchor="middle" fill="#1a1a1a" stroke="#1a1a1a" stroke-width="0.06">Prss16</text>
<text x="312.1" y="396.1" font-size="7.2" text-anchor="middle" fill="#1a1a1a" stroke="#1a1a1a" stroke-width="0.06">Hoxa10</text>
<text x="328.1" y="400.7" font-size="7.2" text-anchor="middle" fill="#1a1a1a" stroke="#1a1a1a" stroke-width="0.06">Il6</text>
<text x="357.9" y="406.4" font-size="7.2" text-anchor="middle" fill="#1a1a1a" stroke="#1a1a1a" stroke-width="0.06">Apbb1</text>
<text x="340.8" y="327.3" font-size="8.8" text-anchor="middle" fill="#fff" font-weight="bold">Ctsl</text>
<text x="478.5" y="216.5" font-size="9.5" font-weight="bold">G</text>
<text x="573.2" y="221.9" font-size="8.4" text-anchor="middle" fill="#111" textLength="65" lengthAdjust="spacingAndGlyphs" stroke="#111" stroke-width="0.18">Muscle: αCD8a vs IgG</text>
<line x1="477.8" y1="227.2" x2="676.6" y2="227.2" stroke="#333" stroke-width="1" />
<circle cx="483.3" cy="240.3" r="4.80" fill="none" stroke="#ff9a00" stroke-width="1.7" />
<circle cx="483.3" cy="252.6" r="4.80" fill="none" stroke="#1010a0" stroke-width="1.7" />
<text x="491.3" y="242.6" font-size="6.6" fill="#d83030" textLength="20" lengthAdjust="spacingAndGlyphs" stroke="#d83030" stroke-width="0.18">Up-DEG</text>
<text x="491.3" y="254.9" font-size="6.6" fill="#5a8ad8" textLength="28" lengthAdjust="spacingAndGlyphs" stroke="#5a8ad8" stroke-width="0.18">Down-DEG</text>
<defs><linearGradient id="gN467" x1="0" y1="0" x2="0" y2="1"><stop offset="0" stop-color="#b2182b"/><stop offset="0.25" stop-color="#e07b67"/><stop offset="0.5" stop-color="#f7f7f7"/><stop offset="0.75" stop-color="#74add1"/><stop offset="1" stop-color="#2166ac"/></linearGradient></defs>
<rect x="662.7" y="241.9" width="5.7" height="27.3" fill="url(#gN467)" stroke="none" stroke-width="1" />
<text x="666.2" y="236.0" font-size="5.6" text-anchor="end" fill="#222" textLength="8" lengthAdjust="spacingAndGlyphs" stroke="#222" stroke-width="0.18">log</text>
<text x="666.3" y="237.3" font-size="3.6" fill="#222" stroke="#222" stroke-width="0.18">2</text>
<text x="668.3" y="236.0" font-size="5.6" fill="#222" textLength="6.4" lengthAdjust="spacingAndGlyphs" stroke="#222" stroke-width="0.18">FC</text>
<text x="670.9" y="246.6" font-size="6.6" fill="#222" stroke="#222" stroke-width="0.18">2</text>
<text x="670.9" y="257.1" font-size="6.6" fill="#222" stroke="#222" stroke-width="0.18">0</text>
<text x="669.5" y="268.3" font-size="6.6" fill="#222" stroke="#222" stroke-width="0.18">-2</text>
<line x1="581.0" y1="323.8" x2="577.4" y2="245.7" stroke="#b4b4b4" stroke-width="0.45" />
<line x1="581.0" y1="323.8" x2="549.7" y2="252.6" stroke="#b4b4b4" stroke-width="0.45" />
<line x1="581.0" y1="323.8" x2="593.8" y2="256.6" stroke="#b4b4b4" stroke-width="0.45" />
<line x1="581.0" y1="323.8" x2="614.0" y2="254.0" stroke="#b4b4b4" stroke-width="0.45" />
<line x1="581.0" y1="323.8" x2="568.2" y2="261.7" stroke="#b4b4b4" stroke-width="0.45" />
<line x1="581.0" y1="323.8" x2="531.2" y2="265.0" stroke="#b4b4b4" stroke-width="0.45" />
<line x1="581.0" y1="323.8" x2="628.0" y2="266.2" stroke="#b4b4b4" stroke-width="0.45" />
<line x1="581.0" y1="323.8" x2="553.8" y2="272.8" stroke="#b4b4b4" stroke-width="0.45" />
<line x1="581.0" y1="323.8" x2="609.0" y2="272.7" stroke="#b4b4b4" stroke-width="0.45" />
<line x1="581.0" y1="323.8" x2="589.2" y2="275.0" stroke="#b4b4b4" stroke-width="0.45" />
<line x1="581.0" y1="323.8" x2="642.5" y2="276.5" stroke="#b4b4b4" stroke-width="0.45" />
<line x1="581.0" y1="323.8" x2="570.6" y2="278.6" stroke="#b4b4b4" stroke-width="0.45" />
<line x1="581.0" y1="323.8" x2="514.4" y2="278.6" stroke="#b4b4b4" stroke-width="0.45" />
<line x1="581.0" y1="323.8" x2="539.3" y2="283.9" stroke="#b4b4b4" stroke-width="0.45" />
<line x1="581.0" y1="323.8" x2="593.8" y2="293.2" stroke="#b4b4b4" stroke-width="0.45" />
<line x1="581.0" y1="323.8" x2="613.2" y2="290.6" stroke="#b4b4b4" stroke-width="0.45" />
<line x1="581.0" y1="323.8" x2="634.9" y2="291.1" stroke="#b4b4b4" stroke-width="0.45" />
<line x1="581.0" y1="323.8" x2="656.1" y2="291.1" stroke="#b4b4b4" stroke-width="0.45" />
<line x1="581.0" y1="323.8" x2="527.2" y2="293.5" stroke="#b4b4b4" stroke-width="0.45" />
<line x1="581.0" y1="323.8" x2="502.8" y2="297.1" stroke="#b4b4b4" stroke-width="0.45" />
<line x1="581.0" y1="323.8" x2="553.6" y2="297.5" stroke="#b4b4b4" stroke-width="0.45" />
<line x1="581.0" y1="323.8" x2="574.4" y2="297.8" stroke="#b4b4b4" stroke-width="0.45" />
<line x1="581.0" y1="323.8" x2="637.5" y2="306.0" stroke="#b4b4b4" stroke-width="0.45" />
<line x1="581.0" y1="323.8" x2="657.6" y2="308.0" stroke="#b4b4b4" stroke-width="0.45" />
<line x1="581.0" y1="323.8" x2="515.7" y2="308.5" stroke="#b4b4b4" stroke-width="0.45" />
<line x1="581.0" y1="323.8" x2="533.6" y2="308.0" stroke="#b4b4b4" stroke-width="0.45" />
<line x1="581.0" y1="323.8" x2="609.0" y2="310.4" stroke="#b4b4b4" stroke-width="0.45" />
<line x1="581.0" y1="323.8" x2="552.4" y2="318.3" stroke="#b4b4b4" stroke-width="0.45" />
<line x1="581.0" y1="323.8" x2="645.4" y2="322.3" stroke="#b4b4b4" stroke-width="0.45" />
<line x1="581.0" y1="323.8" x2="494.3" y2="322.3" stroke="#b4b4b4" stroke-width="0.45" />
<line x1="581.0" y1="323.8" x2="533.6" y2="323.9" stroke="#b4b4b4" stroke-width="0.45" />
<line x1="581.0" y1="323.8" x2="624.0" y2="326.0" stroke="#b4b4b4" stroke-width="0.45" />
<line x1="581.0" y1="323.8" x2="665.8" y2="328.7" stroke="#b4b4b4" stroke-width="0.45" />
<line x1="581.0" y1="323.8" x2="512.0" y2="329.5" stroke="#b4b4b4" stroke-width="0.45" />
<line x1="581.0" y1="323.8" x2="606.3" y2="334.3" stroke="#b4b4b4" stroke-width="0.45" />
<line x1="581.0" y1="323.8" x2="633.6" y2="338.3" stroke="#b4b4b4" stroke-width="0.45" />
<line x1="581.0" y1="323.8" x2="530.9" y2="342.4" stroke="#b4b4b4" stroke-width="0.45" />
<line x1="581.0" y1="323.8" x2="552.9" y2="342.0" stroke="#b4b4b4" stroke-width="0.45" />
<line x1="581.0" y1="323.8" x2="499.9" y2="344.8" stroke="#b4b4b4" stroke-width="0.45" />
<line x1="581.0" y1="323.8" x2="651.0" y2="344.4" stroke="#b4b4b4" stroke-width="0.45" />
<line x1="581.0" y1="323.8" x2="612.8" y2="352.0" stroke="#b4b4b4" stroke-width="0.45" />
<line x1="581.0" y1="323.8" x2="590.0" y2="353.6" stroke="#b4b4b4" stroke-width="0.45" />
<line x1="581.0" y1="323.8" x2="634.1" y2="354.4" stroke="#b4b4b4" stroke-width="0.45" />
<line x1="581.0" y1="323.8" x2="569.0" y2="355.2" stroke="#b4b4b4" stroke-width="0.45" />
<line x1="581.0" y1="323.8" x2="538.5" y2="357.1" stroke="#b4b4b4" stroke-width="0.45" />
<line x1="581.0" y1="323.8" x2="501.8" y2="360.8" stroke="#b4b4b4" stroke-width="0.45" />
<line x1="581.0" y1="323.8" x2="651.6" y2="364.0" stroke="#b4b4b4" stroke-width="0.45" />
<line x1="581.0" y1="323.8" x2="607.1" y2="366.4" stroke="#b4b4b4" stroke-width="0.45" />
<line x1="581.0" y1="323.8" x2="528.8" y2="367.7" stroke="#b4b4b4" stroke-width="0.45" />
<line x1="581.0" y1="323.8" x2="554.5" y2="367.7" stroke="#b4b4b4" stroke-width="0.45" />
<line x1="581.0" y1="323.8" x2="586.3" y2="372.6" stroke="#b4b4b4" stroke-width="0.45" />
<line x1="581.0" y1="323.8" x2="624.3" y2="375.8" stroke="#b4b4b4" stroke-width="0.45" />
<line x1="581.0" y1="323.8" x2="514.4" y2="378.5" stroke="#b4b4b4" stroke-width="0.45" />
<line x1="581.0" y1="323.8" x2="570.5" y2="378.7" stroke="#b4b4b4" stroke-width="0.45" />
<line x1="581.0" y1="323.8" x2="644.9" y2="380.6" stroke="#b4b4b4" stroke-width="0.45" />
<line x1="581.0" y1="323.8" x2="537.7" y2="382.5" stroke="#b4b4b4" stroke-width="0.45" />
<line x1="581.0" y1="323.8" x2="591.9" y2="388.0" stroke="#b4b4b4" stroke-width="0.45" />
<line x1="581.0" y1="323.8" x2="618.6" y2="390.6" stroke="#b4b4b4" stroke-width="0.45" />
<line x1="581.0" y1="323.8" x2="552.3" y2="393.2" stroke="#b4b4b4" stroke-width="0.45" />
<line x1="581.0" y1="323.8" x2="568.3" y2="397.8" stroke="#b4b4b4" stroke-width="0.45" />
<line x1="581.0" y1="323.8" x2="598.1" y2="403.5" stroke="#b4b4b4" stroke-width="0.45" />
<line x1="549.7" y1="252.6" x2="553.8" y2="272.8" stroke="#b4b4b4" stroke-width="0.45" />
<line x1="531.2" y1="265.0" x2="539.3" y2="283.9" stroke="#b4b4b4" stroke-width="0.45" />
<line x1="514.4" y1="278.6" x2="553.6" y2="297.5" stroke="#b4b4b4" stroke-width="0.45" />
<line x1="502.8" y1="297.1" x2="515.7" y2="308.5" stroke="#b4b4b4" stroke-width="0.45" />
<line x1="614.0" y1="254.0" x2="609.0" y2="272.7" stroke="#b4b4b4" stroke-width="0.45" />
<line x1="593.8" y1="256.6" x2="589.2" y2="275.0" stroke="#b4b4b4" stroke-width="0.45" />
<line x1="628.0" y1="266.2" x2="613.2" y2="290.6" stroke="#b4b4b4" stroke-width="0.45" />
<line x1="642.5" y1="276.5" x2="634.9" y2="291.1" stroke="#b4b4b4" stroke-width="0.45" />
<line x1="656.1" y1="291.1" x2="637.5" y2="306.0" stroke="#b4b4b4" stroke-width="0.45" />
<line x1="657.6" y1="308.0" x2="609.0" y2="310.4" stroke="#b4b4b4" stroke-width="0.45" />
<line x1="665.8" y1="328.7" x2="624.0" y2="326.0" stroke="#b4b4b4" stroke-width="0.45" />
<line x1="651.0" y1="344.4" x2="633.6" y2="338.3" stroke="#b4b4b4" stroke-width="0.45" />
<line x1="651.6" y1="364.0" x2="634.1" y2="354.4" stroke="#b4b4b4" stroke-width="0.45" />
<line x1="644.9" y1="380.6" x2="612.8" y2="352.0" stroke="#b4b4b4" stroke-width="0.45" />
<line x1="598.1" y1="403.5" x2="618.6" y2="390.6" stroke="#b4b4b4" stroke-width="0.45" />
<line x1="552.3" y1="393.2" x2="554.5" y2="367.7" stroke="#b4b4b4" stroke-width="0.45" />
<line x1="514.4" y1="378.5" x2="538.5" y2="357.1" stroke="#b4b4b4" stroke-width="0.45" />
<line x1="537.7" y1="382.5" x2="528.8" y2="367.7" stroke="#b4b4b4" stroke-width="0.45" />
<line x1="624.3" y1="375.8" x2="607.1" y2="366.4" stroke="#b4b4b4" stroke-width="0.45" />
<line x1="501.8" y1="360.8" x2="530.9" y2="342.4" stroke="#b4b4b4" stroke-width="0.45" />
<line x1="499.9" y1="344.8" x2="530.9" y2="342.4" stroke="#b4b4b4" stroke-width="0.45" />
<line x1="494.3" y1="322.3" x2="533.6" y2="323.9" stroke="#b4b4b4" stroke-width="0.45" />
<line x1="568.2" y1="261.7" x2="570.6" y2="278.6" stroke="#b4b4b4" stroke-width="0.45" />
<line x1="577.4" y1="245.7" x2="574.4" y2="297.8" stroke="#b4b4b4" stroke-width="0.45" />
<line x1="591.9" y1="388.0" x2="586.3" y2="372.6" stroke="#b4b4b4" stroke-width="0.45" />
<line x1="568.3" y1="397.8" x2="570.5" y2="378.7" stroke="#b4b4b4" stroke-width="0.45" />
<line x1="634.9" y1="291.1" x2="637.5" y2="306.0" stroke="#b4b4b4" stroke-width="0.45" />
<line x1="633.6" y1="338.3" x2="634.1" y2="354.4" stroke="#b4b4b4" stroke-width="0.45" />
<line x1="618.6" y1="390.6" x2="607.1" y2="366.4" stroke="#b4b4b4" stroke-width="0.45" />
<line x1="512.0" y1="329.5" x2="533.6" y2="323.9" stroke="#b4b4b4" stroke-width="0.45" />
<circle cx="577.4" cy="245.7" r="6.95" fill="#6aaad8" stroke="#10109a" stroke-width="1.7" />
<circle cx="549.7" cy="252.6" r="7.80" fill="#eef0f2" stroke="none" stroke-width="1" />
<circle cx="593.8" cy="256.6" r="6.95" fill="#1a5aa8" stroke="#10109a" stroke-width="1.7" />
<circle cx="614.0" cy="254.0" r="7.80" fill="#e8a8a0" stroke="none" stroke-width="1" />
<circle cx="568.2" cy="261.7" r="7.80" fill="#b4d2e8" stroke="none" stroke-width="1" />
<circle cx="531.2" cy="265.0" r="7.80" fill="#e0e8f0" stroke="none" stroke-width="1" />
<circle cx="628.0" cy="266.2" r="7.80" fill="#f1f1f1" stroke="none" stroke-width="1" />
<circle cx="553.8" cy="272.8" r="7.80" fill="#e8eef2" stroke="none" stroke-width="1" />
<circle cx="609.0" cy="272.7" r="7.80" fill="#c8dcec" stroke="none" stroke-width="1" />
<circle cx="589.2" cy="275.0" r="7.80" fill="#f2dcd8" stroke="none" stroke-width="1" />
<circle cx="642.5" cy="276.5" r="7.80" fill="#1a60ac" stroke="none" stroke-width="1" />
<circle cx="570.6" cy="278.6" r="7.80" fill="#f1f1f1" stroke="none" stroke-width="1" />
<circle cx="514.4" cy="278.6" r="7.80" fill="#90bcdc" stroke="none" stroke-width="1" />
<circle cx="539.3" cy="283.9" r="7.80" fill="#bcd6ea" stroke="none" stroke-width="1" />
<circle cx="593.8" cy="293.2" r="7.80" fill="#1f64ae" stroke="none" stroke-width="1" />
<circle cx="613.2" cy="290.6" r="7.80" fill="#f1f1f1" stroke="none" stroke-width="1" />
<circle cx="634.9" cy="291.1" r="7.80" fill="#eaeff4" stroke="none" stroke-width="1" />
<circle cx="656.1" cy="291.1" r="7.80" fill="#f2d4d0" stroke="none" stroke-width="1" />
<circle cx="527.2" cy="293.5" r="7.80" fill="#d86050" stroke="none" stroke-width="1" />
<circle cx="502.8" cy="297.1" r="7.80" fill="#f2d8d4" stroke="none" stroke-width="1" />
<circle cx="553.6" cy="297.5" r="7.80" fill="#f1f1f1" stroke="none" stroke-width="1" />
<circle cx="574.4" cy="297.8" r="7.80" fill="#90c0e0" stroke="none" stroke-width="1" />
<circle cx="637.5" cy="306.0" r="7.80" fill="#f2dcd8" stroke="none" stroke-width="1" />
<circle cx="657.6" cy="308.0" r="7.80" fill="#d86050" stroke="none" stroke-width="1" />
<circle cx="515.7" cy="308.5" r="7.80" fill="#f0d4d0" stroke="none" stroke-width="1" />
<circle cx="533.6" cy="308.0" r="7.80" fill="#f5e6e4" stroke="none" stroke-width="1" />
<circle cx="609.0" cy="310.4" r="7.80" fill="#f1f1f1" stroke="none" stroke-width="1" />
<circle cx="552.4" cy="318.3" r="7.80" fill="#f2e4e4" stroke="none" stroke-width="1" />
<circle cx="645.4" cy="322.3" r="7.80" fill="#80b8dc" stroke="none" stroke-width="1" />
<circle cx="494.3" cy="322.3" r="6.95" fill="#5a9ed0" stroke="#10109a" stroke-width="1.7" />
<circle cx="533.6" cy="323.9" r="6.95" fill="#5a9ed0" stroke="#10109a" stroke-width="1.7" />
<circle cx="624.0" cy="326.0" r="7.80" fill="#f2dcd8" stroke="none" stroke-width="1" />
<circle cx="665.8" cy="328.7" r="7.80" fill="#f1f1f1" stroke="none" stroke-width="1" />
<circle cx="512.0" cy="329.5" r="6.95" fill="#70acd8" stroke="#10109a" stroke-width="1.7" />
<circle cx="606.3" cy="334.3" r="7.80" fill="#f0d0cc" stroke="none" stroke-width="1" />
<circle cx="633.6" cy="338.3" r="7.80" fill="#eab4ac" stroke="none" stroke-width="1" />
<circle cx="530.9" cy="342.4" r="7.80" fill="#e07a68" stroke="none" stroke-width="1" />
<circle cx="552.9" cy="342.0" r="7.80" fill="#f1f1f1" stroke="none" stroke-width="1" />
<circle cx="499.9" cy="344.8" r="7.80" fill="#f1f1f1" stroke="none" stroke-width="1" />
<circle cx="651.0" cy="344.4" r="7.80" fill="#ecc0b8" stroke="none" stroke-width="1" />
<circle cx="612.8" cy="352.0" r="7.80" fill="#ecbcb4" stroke="none" stroke-width="1" />
<circle cx="590.0" cy="353.6" r="6.95" fill="#1e5aa6" stroke="#10109a" stroke-width="1.7" />
<circle cx="634.1" cy="354.4" r="7.80" fill="#dae6f1" stroke="none" stroke-width="1" />
<circle cx="569.0" cy="355.2" r="7.80" fill="#e4ecf4" stroke="none" stroke-width="1" />
<circle cx="538.5" cy="357.1" r="7.80" fill="#c0142a" stroke="none" stroke-width="1" />
<circle cx="501.8" cy="360.8" r="7.80" fill="#f1f1f1" stroke="none" stroke-width="1" />
<circle cx="651.6" cy="364.0" r="7.80" fill="#f2e0dc" stroke="none" stroke-width="1" />
<circle cx="607.1" cy="366.4" r="6.95" fill="#1e5aa6" stroke="#10109a" stroke-width="1.7" />
<circle cx="528.8" cy="367.7" r="7.80" fill="#8cbcdc" stroke="none" stroke-width="1" />
<circle cx="554.5" cy="367.7" r="7.80" fill="#f0d0cc" stroke="none" stroke-width="1" />
<circle cx="586.3" cy="372.6" r="7.80" fill="#b4d2e8" stroke="none" stroke-width="1" />
<circle cx="624.3" cy="375.8" r="7.80" fill="#dae6f1" stroke="none" stroke-width="1" />
<circle cx="514.4" cy="378.5" r="7.80" fill="#f1f1f1" stroke="none" stroke-width="1" />
<circle cx="570.5" cy="378.7" r="7.80" fill="#f2dcd8" stroke="none" stroke-width="1" />
<circle cx="644.9" cy="380.6" r="7.80" fill="#dae6f1" stroke="none" stroke-width="1" />
<circle cx="537.7" cy="382.5" r="7.80" fill="#dae6f1" stroke="none" stroke-width="1" />
<circle cx="591.9" cy="388.0" r="7.80" fill="#f1f1f1" stroke="none" stroke-width="1" />
<circle cx="618.6" cy="390.6" r="7.80" fill="#ecbcb4" stroke="none" stroke-width="1" />
<circle cx="552.3" cy="393.2" r="7.80" fill="#f2dcd8" stroke="none" stroke-width="1" />
<circle cx="568.3" cy="397.8" r="7.80" fill="#4a90c8" stroke="none" stroke-width="1" />
<circle cx="598.1" cy="403.5" r="7.80" fill="#f0d0cc" stroke="none" stroke-width="1" />
<circle cx="581.0" cy="323.8" r="12.90" fill="#2e6eb4" stroke="#0c1c9c" stroke-width="2.6" />
<text x="577.4" y="248.2" font-size="7.2" text-anchor="middle" fill="#1a1a1a" stroke="#1a1a1a" stroke-width="0.06">Foxo1</text>
<text x="549.7" y="255.1" font-size="7.2" text-anchor="middle" fill="#1a1a1a" stroke="#1a1a1a" stroke-width="0.06">Ctsa</text>
<text x="593.8" y="259.1" font-size="7.2" text-anchor="middle" fill="#1a1a1a" stroke="#1a1a1a" stroke-width="0.06">Npc1</text>
<text x="614.0" y="256.5" font-size="7.2" text-anchor="middle" fill="#1a1a1a" stroke="#1a1a1a" stroke-width="0.06">Cd4</text>
<text x="568.2" y="264.2" font-size="7.2" text-anchor="middle" fill="#1a1a1a" stroke="#1a1a1a" stroke-width="0.06">Cst6</text>
<text x="531.2" y="267.5" font-size="7.2" text-anchor="middle" fill="#1a1a1a" stroke="#1a1a1a" stroke-width="0.06">Ctsb</text>
<text x="628.0" y="268.7" font-size="7.2" text-anchor="middle" fill="#1a1a1a" stroke="#1a1a1a" stroke-width="0.06">Psmb11</text>
<text x="553.8" y="275.3" font-size="7.2" text-anchor="middle" fill="#1a1a1a" stroke="#1a1a1a" stroke-width="0.06">Mmp3</text>
<text x="609.0" y="275.2" font-size="7.2" text-anchor="middle" fill="#1a1a1a" stroke="#1a1a1a" stroke-width="0.06">Ctsk</text>
<text x="589.2" y="277.5" font-size="7.2" text-anchor="middle" fill="#1a1a1a" stroke="#1a1a1a" stroke-width="0.06">Ctss</text>
<text x="642.5" y="279.0" font-size="7.2" text-anchor="middle" fill="#1a1a1a" stroke="#1a1a1a" stroke-width="0.06">Tmprss2</text>
<text x="570.6" y="281.1" font-size="7.2" text-anchor="middle" fill="#1a1a1a" stroke="#1a1a1a" stroke-width="0.06">Ctsw</text>
<text x="514.4" y="281.1" font-size="7.2" text-anchor="middle" fill="#1a1a1a" stroke="#1a1a1a" stroke-width="0.06">Cstb</text>
<text x="539.3" y="286.4" font-size="7.2" text-anchor="middle" fill="#1a1a1a" stroke="#1a1a1a" stroke-width="0.06">Gtpbp1</text>
<text x="593.8" y="295.7" font-size="7.2" text-anchor="middle" fill="#1a1a1a" stroke="#1a1a1a" stroke-width="0.06">Ctse</text>
<text x="613.2" y="293.1" font-size="7.2" text-anchor="middle" fill="#1a1a1a" stroke="#1a1a1a" stroke-width="0.06">Foxg1</text>
<text x="634.9" y="293.6" font-size="7.2" text-anchor="middle" fill="#1a1a1a" stroke="#1a1a1a" stroke-width="0.06">Hspa8</text>
<text x="656.1" y="293.6" font-size="7.2" text-anchor="middle" fill="#1a1a1a" stroke="#1a1a1a" stroke-width="0.06">Xiap</text>
<text x="527.2" y="296.0" font-size="7.2" text-anchor="middle" fill="#1a1a1a" stroke="#1a1a1a" stroke-width="0.06">Dpp4</text>
<text x="502.8" y="299.6" font-size="7.2" text-anchor="middle" fill="#1a1a1a" stroke="#1a1a1a" stroke-width="0.06">Tlr7</text>
<text x="553.6" y="300.0" font-size="7.2" text-anchor="middle" fill="#1a1a1a" stroke="#1a1a1a" stroke-width="0.06">Gm</text>
<text x="574.4" y="300.3" font-size="7.2" text-anchor="middle" fill="#1a1a1a" stroke="#1a1a1a" stroke-width="0.06">Lamp2</text>
<text x="637.5" y="308.5" font-size="7.2" text-anchor="middle" fill="#1a1a1a" stroke="#1a1a1a" stroke-width="0.06">Mmp12</text>
<text x="657.6" y="310.5" font-size="7.2" text-anchor="middle" fill="#1a1a1a" stroke="#1a1a1a" stroke-width="0.06">Birc5</text>
<text x="515.7" y="311.0" font-size="7.2" text-anchor="middle" fill="#1a1a1a" stroke="#1a1a1a" stroke-width="0.06">Ltf</text>
<text x="533.6" y="310.5" font-size="7.2" text-anchor="middle" fill="#1a1a1a" stroke="#1a1a1a" stroke-width="0.06">Tnf</text>
<text x="609.0" y="312.9" font-size="7.2" text-anchor="middle" fill="#1a1a1a" stroke="#1a1a1a" stroke-width="0.06">Tmprss4</text>
<text x="552.4" y="320.8" font-size="7.2" text-anchor="middle" fill="#1a1a1a" stroke="#1a1a1a" stroke-width="0.06">Mmp13</text>
<text x="645.4" y="324.8" font-size="7.2" text-anchor="middle" fill="#1a1a1a" stroke="#1a1a1a" stroke-width="0.06">Bid</text>
<text x="494.3" y="324.8" font-size="7.2" text-anchor="middle" fill="#1a1a1a" stroke="#1a1a1a" stroke-width="0.06">Bcl2l1</text>
<text x="533.6" y="326.4" font-size="7.2" text-anchor="middle" fill="#1a1a1a" stroke="#1a1a1a" stroke-width="0.06">Furin</text>
<text x="624.0" y="328.5" font-size="7.2" text-anchor="middle" fill="#1a1a1a" stroke="#1a1a1a" stroke-width="0.06">Acp2</text>
<text x="665.8" y="331.2" font-size="7.2" text-anchor="middle" fill="#1a1a1a" stroke="#1a1a1a" stroke-width="0.06">Ren1</text>
<text x="512.0" y="332.0" font-size="7.2" text-anchor="middle" fill="#1a1a1a" stroke="#1a1a1a" stroke-width="0.06">Ctsd</text>
<text x="606.3" y="336.8" font-size="7.2" text-anchor="middle" fill="#1a1a1a" stroke="#1a1a1a" stroke-width="0.06">Col18a1</text>
<text x="633.6" y="340.8" font-size="7.2" text-anchor="middle" fill="#1a1a1a" stroke="#1a1a1a" stroke-width="0.06">Lgmn</text>
<text x="530.9" y="344.9" font-size="7.2" text-anchor="middle" fill="#1a1a1a" stroke="#1a1a1a" stroke-width="0.06">Cd74</text>
<text x="552.9" y="344.5" font-size="7.2" text-anchor="middle" fill="#1a1a1a" stroke="#1a1a1a" stroke-width="0.06">Ctsf</text>
<text x="499.9" y="347.3" font-size="7.2" text-anchor="middle" fill="#1a1a1a" stroke="#1a1a1a" stroke-width="0.06">Ctsg</text>
<text x="651.0" y="346.9" font-size="7.2" text-anchor="middle" fill="#1a1a1a" stroke="#1a1a1a" stroke-width="0.06">Ace2</text>
<text x="612.8" y="354.5" font-size="7.2" text-anchor="middle" fill="#1a1a1a" stroke="#1a1a1a" stroke-width="0.06">Csta1</text>
<text x="590.0" y="356.1" font-size="7.2" text-anchor="middle" fill="#1a1a1a" stroke="#1a1a1a" stroke-width="0.06">Bnip3</text>
<text x="634.1" y="356.9" font-size="7.2" text-anchor="middle" fill="#1a1a1a" stroke="#1a1a1a" stroke-width="0.06">Birc3</text>
<text x="569.0" y="357.7" font-size="7.2" text-anchor="middle" fill="#1a1a1a" stroke="#1a1a1a" stroke-width="0.06">Ppp1ca</text>
<text x="538.5" y="359.6" font-size="7.2" text-anchor="middle" fill="#1a1a1a" stroke="#1a1a1a" stroke-width="0.06">Tmprss11a</text>
<text x="501.8" y="363.3" font-size="7.2" text-anchor="middle" fill="#1a1a1a" stroke="#1a1a1a" stroke-width="0.06">Tmprss11d</text>
<text x="651.6" y="366.5" font-size="7.2" text-anchor="middle" fill="#1a1a1a" stroke="#1a1a1a" stroke-width="0.06">Cst3</text>
<text x="607.1" y="368.9" font-size="7.2" text-anchor="middle" fill="#1a1a1a" stroke="#1a1a1a" stroke-width="0.06">Fbxo32</text>
<text x="528.8" y="370.2" font-size="7.2" text-anchor="middle" fill="#1a1a1a" stroke="#1a1a1a" stroke-width="0.06">Tlr9</text>
<text x="554.5" y="370.2" font-size="7.2" text-anchor="middle" fill="#1a1a1a" stroke="#1a1a1a" stroke-width="0.06">Il1b</text>
<text x="586.3" y="375.1" font-size="7.2" text-anchor="middle" fill="#1a1a1a" stroke="#1a1a1a" stroke-width="0.06">Synpo</text>
<text x="624.3" y="378.3" font-size="7.2" text-anchor="middle" fill="#1a1a1a" stroke="#1a1a1a" stroke-width="0.06">Birc2</text>
<text x="514.4" y="381.0" font-size="7.2" text-anchor="middle" fill="#1a1a1a" stroke="#1a1a1a" stroke-width="0.06">Serpinb13</text>
<text x="570.5" y="381.2" font-size="7.2" text-anchor="middle" fill="#1a1a1a" stroke="#1a1a1a" stroke-width="0.06">Bcl2</text>
<text x="644.9" y="383.1" font-size="7.2" text-anchor="middle" fill="#1a1a1a" stroke="#1a1a1a" stroke-width="0.06">Lamp1</text>
<text x="537.7" y="385.0" font-size="7.2" text-anchor="middle" fill="#1a1a1a" stroke="#1a1a1a" stroke-width="0.06">Mmp9</text>
<text x="591.9" y="390.5" font-size="7.2" text-anchor="middle" fill="#1a1a1a" stroke="#1a1a1a" stroke-width="0.06">Mmp7</text>
<text x="618.6" y="393.1" font-size="7.2" text-anchor="middle" fill="#1a1a1a" stroke="#1a1a1a" stroke-width="0.06">Prss16</text>
<text x="552.3" y="395.7" font-size="7.2" text-anchor="middle" fill="#1a1a1a" stroke="#1a1a1a" stroke-width="0.06">Hoxa10</text>
<text x="568.3" y="400.3" font-size="7.2" text-anchor="middle" fill="#1a1a1a" stroke="#1a1a1a" stroke-width="0.06">Il6</text>
<text x="598.1" y="406.0" font-size="7.2" text-anchor="middle" fill="#1a1a1a" stroke="#1a1a1a" stroke-width="0.06">Apbb1</text>
<text x="581.0" y="326.9" font-size="8.8" text-anchor="middle" fill="#fff" font-weight="bold">Ctsl</text>
<text x="27.8" y="431.1" font-size="9.5" font-weight="bold">H</text>
<line x1="69.3" y1="430.3" x2="69.3" y2="501.1" stroke="#d0d0d0" stroke-width="0.7" />
<line x1="94.1" y1="430.3" x2="94.1" y2="501.1" stroke="#d0d0d0" stroke-width="0.7" />
<line x1="118.3" y1="430.3" x2="118.3" y2="501.1" stroke="#d0d0d0" stroke-width="0.7" />
<line x1="143.4" y1="430.3" x2="143.4" y2="501.1" stroke="#d0d0d0" stroke-width="0.7" />
<line x1="69.3" y1="430.3" x2="143.4" y2="430.3" stroke="#d0d0d0" stroke-width="0.7" />
<line x1="69.3" y1="454.4" x2="143.4" y2="454.4" stroke="#d0d0d0" stroke-width="0.7" />
<line x1="69.3" y1="477.8" x2="143.4" y2="477.8" stroke="#d0d0d0" stroke-width="0.7" />
<line x1="69.3" y1="501.1" x2="143.4" y2="501.1" stroke="#d0d0d0" stroke-width="0.7" />
<circle cx="81.6" cy="442.3" r="11.40" fill="#7f0000" stroke="none" stroke-width="1" />
<text x="81.6" y="444.5" font-size="6.4" text-anchor="middle" fill="#fff" stroke="#fff" stroke-width="0.05">1</text>
<circle cx="106.2" cy="442.3" r="8.00" fill="#b41f24" stroke="none" stroke-width="1" />
<text x="106.2" y="444.8" font-size="7.0" text-anchor="middle" fill="#fff" textLength="10.6" lengthAdjust="spacingAndGlyphs" stroke="#fff" stroke-width="0.05">0.53</text>
<circle cx="130.9" cy="442.3" r="7.60" fill="#b8262a" stroke="none" stroke-width="1" />
<text x="130.9" y="444.8" font-size="7.0" text-anchor="middle" fill="#fff" textLength="10.6" lengthAdjust="spacingAndGlyphs" stroke="#fff" stroke-width="0.05">0.48</text>
<circle cx="81.6" cy="466.1" r="8.00" fill="#b41f24" stroke="none" stroke-width="1" />
<text x="81.6" y="468.6" font-size="7.0" text-anchor="middle" fill="#fff" textLength="10.6" lengthAdjust="spacingAndGlyphs" stroke="#fff" stroke-width="0.05">0.53</text>
<circle cx="106.2" cy="466.1" r="11.40" fill="#7f0000" stroke="none" stroke-width="1" />
<text x="106.2" y="468.3" font-size="6.4" text-anchor="middle" fill="#fff" stroke="#fff" stroke-width="0.05">1</text>
<circle cx="130.9" cy="466.1" r="4.80" fill="#e6b0b0" stroke="none" stroke-width="1" />
<text x="130.9" y="468.5" font-size="6.8" text-anchor="middle" fill="#fff" textLength="7.6" lengthAdjust="spacingAndGlyphs" stroke="#fff" stroke-width="0.05">0.2</text>
<circle cx="81.6" cy="489.5" r="7.60" fill="#b8262a" stroke="none" stroke-width="1" />
<text x="81.6" y="492.0" font-size="7.0" text-anchor="middle" fill="#fff" textLength="10.6" lengthAdjust="spacingAndGlyphs" stroke="#fff" stroke-width="0.05">0.48</text>
<circle cx="106.2" cy="489.5" r="4.80" fill="#e6b0b0" stroke="none" stroke-width="1" />
<text x="106.2" y="491.9" font-size="6.8" text-anchor="middle" fill="#fff" textLength="7.6" lengthAdjust="spacingAndGlyphs" stroke="#fff" stroke-width="0.05">0.2</text>
<circle cx="130.9" cy="489.5" r="11.40" fill="#7f0000" stroke="none" stroke-width="1" />
<text x="130.9" y="491.7" font-size="6.4" text-anchor="middle" fill="#fff" stroke="#fff" stroke-width="0.05">1</text>
<text x="82.4" y="428.6" font-size="8.2" text-anchor="middle" fill="#111" font-style="italic" textLength="18.2" lengthAdjust="spacingAndGlyphs" stroke="#111" stroke-width="0.1">Mmp7</text>
<text x="107.0" y="428.6" font-size="8.2" text-anchor="middle" fill="#111" font-style="italic" textLength="11.2" lengthAdjust="spacingAndGlyphs" stroke="#111" stroke-width="0.1">Ctsl</text>
<text x="131.7" y="428.6" font-size="8.2" text-anchor="middle" fill="#111" font-style="italic" textLength="21.4" lengthAdjust="spacingAndGlyphs" stroke="#111" stroke-width="0.1">Mmp13</text>
<text x="67.6" y="442.3" font-size="8.2" text-anchor="middle" fill="#111" font-style="italic" textLength="17.6" lengthAdjust="spacingAndGlyphs" transform="rotate(-90 67.6 442.3)" stroke="#111" stroke-width="0.1">Mmp7</text>
<text x="67.6" y="466.1" font-size="8.2" text-anchor="middle" fill="#111" font-style="italic" textLength="11.4" lengthAdjust="spacingAndGlyphs" transform="rotate(-90 67.6 466.1)" stroke="#111" stroke-width="0.1">Ctsl</text>
<text x="67.6" y="489.5" font-size="8.2" text-anchor="middle" fill="#111" font-style="italic" textLength="21.2" lengthAdjust="spacingAndGlyphs" transform="rotate(-90 67.6 489.5)" stroke="#111" stroke-width="0.1">Mmp13</text>
<defs><linearGradient id="gH" x1="0" y1="0" x2="0" y2="1"><stop offset="0" stop-color="#67001f"/><stop offset="0.25" stop-color="#d6604d"/><stop offset="0.5" stop-color="#ffffff"/><stop offset="0.75" stop-color="#4040ff"/><stop offset="1" stop-color="#00005a"/></linearGradient></defs>
<rect x="144.6" y="430.6" width="2.0" height="70.0" fill="url(#gH)" stroke="none" stroke-width="1" />
<text x="146.3" y="429.2" font-size="5.8" fill="#222" textLength="9" lengthAdjust="spacingAndGlyphs" stroke="#222" stroke-width="0.18">Cor</text>
<line x1="146.6" y1="430.7" x2="147.4" y2="430.7" stroke="#333" stroke-width="0.4" />
<text x="147.6" y="432.8" font-size="5.6" fill="#222" textLength="2.5" lengthAdjust="spacingAndGlyphs" stroke="#222" stroke-width="0.18">1</text>
<line x1="146.6" y1="437.6" x2="147.4" y2="437.6" stroke="#333" stroke-width="0.4" />
<text x="147.6" y="439.7" font-size="5.6" fill="#222" textLength="7.5" lengthAdjust="spacingAndGlyphs" stroke="#222" stroke-width="0.18">0.8</text>
<line x1="146.6" y1="444.5" x2="147.4" y2="444.5" stroke="#333" stroke-width="0.4" />
<text x="147.6" y="446.6" font-size="5.6" fill="#222" textLength="7.5" lengthAdjust="spacingAndGlyphs" stroke="#222" stroke-width="0.18">0.6</text>
<line x1="146.6" y1="451.4" x2="147.4" y2="451.4" stroke="#333" stroke-width="0.4" />
<text x="147.6" y="453.5" font-size="5.6" fill="#222" textLength="7.5" lengthAdjust="spacingAndGlyphs" stroke="#222" stroke-width="0.18">0.4</text>
<line x1="146.6" y1="458.3" x2="147.4" y2="458.3" stroke="#333" stroke-width="0.4" />
<text x="147.6" y="460.4" font-size="5.6" fill="#222" textLength="7.5" lengthAdjust="spacingAndGlyphs" stroke="#222" stroke-width="0.18">0.2</text>
<line x1="146.6" y1="465.3" x2="147.4" y2="465.3" stroke="#333" stroke-width="0.4" />
<text x="147.6" y="467.4" font-size="5.6" fill="#222" textLength="2.5" lengthAdjust="spacingAndGlyphs" stroke="#222" stroke-width="0.18">0</text>
<line x1="146.6" y1="472.2" x2="147.4" y2="472.2" stroke="#333" stroke-width="0.4" />
<text x="147.6" y="474.3" font-size="5.6" fill="#222" textLength="10.0" lengthAdjust="spacingAndGlyphs" stroke="#222" stroke-width="0.18">-0.2</text>
<line x1="146.6" y1="479.1" x2="147.4" y2="479.1" stroke="#333" stroke-width="0.4" />
<text x="147.6" y="481.2" font-size="5.6" fill="#222" textLength="10.0" lengthAdjust="spacingAndGlyphs" stroke="#222" stroke-width="0.18">-0.4</text>
<line x1="146.6" y1="486.0" x2="147.4" y2="486.0" stroke="#333" stroke-width="0.4" />
<text x="147.6" y="488.1" font-size="5.6" fill="#222" textLength="10.0" lengthAdjust="spacingAndGlyphs" stroke="#222" stroke-width="0.18">-0.6</text>
<line x1="146.6" y1="492.9" x2="147.4" y2="492.9" stroke="#333" stroke-width="0.4" />
<text x="147.6" y="495.0" font-size="5.6" fill="#222" textLength="10.0" lengthAdjust="spacingAndGlyphs" stroke="#222" stroke-width="0.18">-0.8</text>
<line x1="146.6" y1="499.8" x2="147.4" y2="499.8" stroke="#333" stroke-width="0.4" />
<text x="147.6" y="501.9" font-size="5.6" fill="#222" textLength="5.0" lengthAdjust="spacingAndGlyphs" stroke="#222" stroke-width="0.18">-1</text>
<text x="257.0" y="431.0" font-size="9.5" font-weight="bold">I</text>
<text x="341.2" y="425.6" font-size="7.4" text-anchor="middle" fill="#f08a50" textLength="66" lengthAdjust="spacingAndGlyphs" stroke="#f08a50" stroke-width="0.18">Upregulated pathways</text>
<line x1="313.8" y1="429.3" x2="313.8" y2="488.6" stroke="#8c8c8c" stroke-width="0.55" />
<line x1="338.3" y1="429.3" x2="338.3" y2="488.6" stroke="#8c8c8c" stroke-width="0.55" />
<line x1="362.9" y1="429.3" x2="362.9" y2="488.6" stroke="#8c8c8c" stroke-width="0.55" />
<line x1="387.4" y1="429.3" x2="387.4" y2="488.6" stroke="#8c8c8c" stroke-width="0.55" />
<line x1="411.9" y1="429.3" x2="411.9" y2="488.6" stroke="#8c8c8c" stroke-width="0.55" />
<rect x="289.2" y="430.9" width="103.6" height="9.9" fill="#f4b690" stroke="none" stroke-width="1" />
<text x="292.5" y="438.1" font-size="6.2" fill="#111" textLength="45.9" lengthAdjust="spacingAndGlyphs" stroke="#111" stroke-width="0.1">Autophagy - animal</text>
<rect x="289.2" y="442.1" width="87.9" height="10.5" fill="#f4b690" stroke="none" stroke-width="1" />
<text x="292.5" y="449.6" font-size="6.2" fill="#111" textLength="23.4" lengthAdjust="spacingAndGlyphs" stroke="#111" stroke-width="0.1">Apoptosis</text>
<rect x="289.2" y="453.7" width="87.9" height="10.1" fill="#f4b690" stroke="none" stroke-width="1" />
<text x="292.5" y="460.9" font-size="6.2" fill="#111" textLength="24.1" lengthAdjust="spacingAndGlyphs" stroke="#111" stroke-width="0.1">Lysosome</text>
<rect x="289.2" y="465.4" width="87.9" height="9.6" fill="#f4b690" stroke="none" stroke-width="1" />
<text x="292.5" y="472.4" font-size="6.2" fill="#111" textLength="56.9" lengthAdjust="spacingAndGlyphs" stroke="#111" stroke-width="0.1">FoxO signaling pathway</text>
<rect x="289.2" y="476.6" width="78.6" height="10.2" fill="#f4b690" stroke="none" stroke-width="1" />
<text x="292.5" y="483.9" font-size="6.2" fill="#111" textLength="30.0" lengthAdjust="spacingAndGlyphs" stroke="#111" stroke-width="0.1">Tuberculosis</text>
<line x1="289.2" y1="429.3" x2="289.2" y2="488.6" stroke="#333" stroke-width="0.8" />
<line x1="289.2" y1="488.6" x2="411.9" y2="488.6" stroke="#222" stroke-width="0.8" />
<line x1="289.2" y1="488.6" x2="289.2" y2="490.8" stroke="#222" stroke-width="0.7" />
<text x="289.2" y="499.0" font-size="6.2" text-anchor="middle" fill="#222" stroke="#222" stroke-width="0.1">0</text>
<line x1="313.8" y1="488.6" x2="313.8" y2="490.8" stroke="#222" stroke-width="0.7" />
<text x="313.8" y="499.0" font-size="6.2" text-anchor="middle" fill="#222" stroke="#222" stroke-width="0.1">1</text>
<line x1="338.3" y1="488.6" x2="338.3" y2="490.8" stroke="#222" stroke-width="0.7" />
<text x="338.3" y="499.0" font-size="6.2" text-anchor="middle" fill="#222" stroke="#222" stroke-width="0.1">2</text>
<line x1="362.9" y1="488.6" x2="362.9" y2="490.8" stroke="#222" stroke-width="0.7" />
<text x="362.9" y="499.0" font-size="6.2" text-anchor="middle" fill="#222" stroke="#222" stroke-width="0.1">3</text>
<line x1="387.4" y1="488.6" x2="387.4" y2="490.8" stroke="#222" stroke-width="0.7" />
<text x="387.4" y="499.0" font-size="6.2" text-anchor="middle" fill="#222" stroke="#222" stroke-width="0.1">4</text>
<line x1="411.9" y1="488.6" x2="411.9" y2="490.8" stroke="#222" stroke-width="0.7" />
<text x="411.9" y="499.0" font-size="6.2" text-anchor="middle" fill="#222" stroke="#222" stroke-width="0.1">5</text>
<text x="336.8" y="505.8" font-size="6.4" fill="#222" textLength="11.5" lengthAdjust="spacingAndGlyphs" stroke="#222" stroke-width="0.1">-Log</text>
<text x="348.6" y="507.3" font-size="3.8" fill="#222">10</text>
<text x="353.4" y="505.8" font-size="6.4" fill="#222" textLength="10.8" lengthAdjust="spacingAndGlyphs" stroke="#222" stroke-width="0.1">FDR</text>
<text x="488.6" y="431.0" font-size="9.5" font-weight="bold">J</text>
<text x="580.9" y="427.4" font-size="7.4" text-anchor="middle" fill="#4a72c4" textLength="72" lengthAdjust="spacingAndGlyphs" stroke="#4a72c4" stroke-width="0.18">Downregulated pathways</text>
<rect x="524.4" y="431.2" width="122.5" height="9.8" fill="#b4c6e7" stroke="none" stroke-width="1" />
<text x="527.4" y="438.3" font-size="6.2" fill="#111" textLength="45.9" lengthAdjust="spacingAndGlyphs" stroke="#111" stroke-width="0.1">Autophagy - animal</text>
<rect x="524.4" y="442.5" width="94.5" height="9.6" fill="#b4c6e7" stroke="none" stroke-width="1" />
<text x="527.4" y="449.5" font-size="6.2" fill="#111" textLength="23.4" lengthAdjust="spacingAndGlyphs" stroke="#111" stroke-width="0.1">Apoptosis</text>
<rect x="524.4" y="453.7" width="94.5" height="9.6" fill="#b4c6e7" stroke="none" stroke-width="1" />
<text x="527.4" y="460.7" font-size="6.2" fill="#111" textLength="24.1" lengthAdjust="spacingAndGlyphs" stroke="#111" stroke-width="0.1">Lysosome</text>
<rect x="524.4" y="465.0" width="94.5" height="9.8" fill="#b4c6e7" stroke="none" stroke-width="1" />
<text x="527.4" y="472.1" font-size="6.2" fill="#111" textLength="56.9" lengthAdjust="spacingAndGlyphs" stroke="#111" stroke-width="0.1">FoxO signaling pathway</text>
<rect x="524.4" y="476.8" width="53.5" height="9.6" fill="#b4c6e7" stroke="none" stroke-width="1" />
<text x="527.4" y="483.8" font-size="6.2" fill="#111" textLength="45.0" lengthAdjust="spacingAndGlyphs" stroke="#111" stroke-width="0.1">Mitophagy - animal</text>
<line x1="558.9" y1="429.2" x2="558.9" y2="488.5" stroke="#222" stroke-width="0.6" stroke-dasharray="1,1"/>
<line x1="593.4" y1="429.2" x2="593.4" y2="488.5" stroke="#222" stroke-width="0.6" stroke-dasharray="1,1"/>
<line x1="627.9" y1="429.2" x2="627.9" y2="488.5" stroke="#222" stroke-width="0.6" stroke-dasharray="1,1"/>
<line x1="524.4" y1="429.2" x2="524.4" y2="488.5" stroke="#222" stroke-width="0.8" />
<line x1="524.4" y1="488.5" x2="627.9" y2="488.5" stroke="#222" stroke-width="0.8" />
<line x1="524.4" y1="488.5" x2="524.4" y2="490.6" stroke="#222" stroke-width="0.7" />
<text x="524.4" y="499.5" font-size="6.2" text-anchor="middle" fill="#222" stroke="#222" stroke-width="0.1">0</text>
<line x1="558.9" y1="488.5" x2="558.9" y2="490.6" stroke="#222" stroke-width="0.7" />
<text x="558.9" y="499.5" font-size="6.2" text-anchor="middle" fill="#222" stroke="#222" stroke-width="0.1">1</text>
<line x1="593.4" y1="488.5" x2="593.4" y2="490.6" stroke="#222" stroke-width="0.7" />
<text x="593.4" y="499.5" font-size="6.2" text-anchor="middle" fill="#222" stroke="#222" stroke-width="0.1">2</text>
<line x1="627.9" y1="488.5" x2="627.9" y2="490.6" stroke="#222" stroke-width="0.7" />
<text x="627.9" y="499.5" font-size="6.2" text-anchor="middle" fill="#222" stroke="#222" stroke-width="0.1">3</text>
<text x="562.6" y="505.2" font-size="6.4" fill="#222" textLength="11.5" lengthAdjust="spacingAndGlyphs" stroke="#222" stroke-width="0.1">-Log</text>
<text x="574.4" y="506.7" font-size="3.8" fill="#222">10</text>
<text x="579.2" y="505.2" font-size="6.4" fill="#222" textLength="10.8" lengthAdjust="spacingAndGlyphs" stroke="#222" stroke-width="0.1">FDR</text>
<text x="9.4" y="538.2" font-size="9.5" font-weight="bold">K</text>
<text x="113.6" y="539.6" font-size="7.6" text-anchor="middle" fill="#111" textLength="41" lengthAdjust="spacingAndGlyphs" stroke="#111" stroke-width="0.18">LUAD (TCGA)</text>
<line x1="45.5" y1="545.8" x2="185.6" y2="545.8" stroke="#a0a0a0" stroke-width="1.6" />
<line x1="45.0" y1="552.5" x2="45.0" y2="642.3" stroke="#222" stroke-width="0.8" />
<line x1="45.0" y1="642.3" x2="189.4" y2="642.3" stroke="#222" stroke-width="0.8" />
<line x1="43.2" y1="555.9" x2="45.0" y2="555.9" stroke="#222" stroke-width="0.6" />
<text x="42.2" y="557.9" font-size="5.8" text-anchor="end" fill="#222" textLength="10.5" lengthAdjust="spacingAndGlyphs" stroke="#222" stroke-width="0.18">1.00</text>
<line x1="43.2" y1="576.2" x2="45.0" y2="576.2" stroke="#222" stroke-width="0.6" />
<text x="42.2" y="578.2" font-size="5.8" text-anchor="end" fill="#222" textLength="10.5" lengthAdjust="spacingAndGlyphs" stroke="#222" stroke-width="0.18">0.75</text>
<line x1="43.2" y1="596.6" x2="45.0" y2="596.6" stroke="#222" stroke-width="0.6" />
<text x="42.2" y="598.6" font-size="5.8" text-anchor="end" fill="#222" textLength="10.5" lengthAdjust="spacingAndGlyphs" stroke="#222" stroke-width="0.18">0.50</text>
<line x1="43.2" y1="617.0" x2="45.0" y2="617.0" stroke="#222" stroke-width="0.6" />
<text x="42.2" y="619.0" font-size="5.8" text-anchor="end" fill="#222" textLength="10.5" lengthAdjust="spacingAndGlyphs" stroke="#222" stroke-width="0.18">0.25</text>
<line x1="43.2" y1="637.3" x2="45.0" y2="637.3" stroke="#222" stroke-width="0.6" />
<text x="42.2" y="639.3" font-size="5.8" text-anchor="end" fill="#222" textLength="10.5" lengthAdjust="spacingAndGlyphs" stroke="#222" stroke-width="0.18">0.00</text>
<line x1="51.3" y1="642.3" x2="51.3" y2="644.1" stroke="#222" stroke-width="0.6" />
<text x="51.3" y="649.4" font-size="5.8" text-anchor="middle" fill="#222" stroke="#222" stroke-width="0.18">0</text>
<line x1="94.3" y1="642.3" x2="94.3" y2="644.1" stroke="#222" stroke-width="0.6" />
<text x="94.3" y="649.4" font-size="5.8" text-anchor="middle" fill="#222" stroke="#222" stroke-width="0.18">1000</text>
<line x1="138.4" y1="642.3" x2="138.4" y2="644.1" stroke="#222" stroke-width="0.6" />
<text x="138.4" y="649.4" font-size="5.8" text-anchor="middle" fill="#222" stroke="#222" stroke-width="0.18">2000</text>
<line x1="181.4" y1="642.3" x2="181.4" y2="644.1" stroke="#222" stroke-width="0.6" />
<text x="181.4" y="649.4" font-size="5.8" text-anchor="middle" fill="#222" stroke="#222" stroke-width="0.18">3000</text>
<text x="117.7" y="658.6" font-size="7" text-anchor="middle" fill="#111" stroke="#111" stroke-width="0.18">Days</text>
<text x="20.9" y="594.3" font-size="7.4" text-anchor="middle" fill="#111" stroke="#111" stroke-width="0.12" textLength="53.8" lengthAdjust="spacingAndGlyphs" transform="rotate(-90 20.9 594.3) translate(0 2.6)">Survival <tspan font-style="italic">probability</tspan></text>
<path d="M50.9,555.9 H53.1 V556.8 H55.8 V558.1 H58.6 V559.5 H61.5 V561.5 H63.8 V564.9 H66.0 V567.2 H68.3 V569.4 H71.0 V571.7 H73.9 V574.0 H76.7 V576.2 H79.6 V578.9 H83.0 V582.1 H86.4 V585.3 H90.9 V587.8 H94.3 V589.6 H96.6 V591.4 H100.0 V593.2 H103.4 V594.8 H105.6 V596.1 H107.9 V598.9 H112.4 V601.1 H115.8 V602.5 H116.9 V605.6 H119.2 V608.8 H123.7 V610.4 H139.6 V610.6 H140.7 V612.7 H146.4 V612.9 H147.5 V616.1 H156.5 V616.5 H156.5 V619.0 H188.2 V619.0" fill="none" stroke="#ee1111" stroke-width="1.25"/>
<line x1="53.6" y1="555.5" x2="53.6" y2="558.5" stroke="#ee1111" stroke-width="0.6" />
<line x1="57.0" y1="557.1" x2="57.0" y2="560.1" stroke="#ee1111" stroke-width="0.6" />
<line x1="64.9" y1="564.5" x2="64.9" y2="567.5" stroke="#ee1111" stroke-width="0.6" />
<line x1="69.4" y1="568.8" x2="69.4" y2="571.8" stroke="#ee1111" stroke-width="0.6" />
<line x1="73.9" y1="572.5" x2="73.9" y2="575.5" stroke="#ee1111" stroke-width="0.6" />
<line x1="78.5" y1="576.5" x2="78.5" y2="579.5" stroke="#ee1111" stroke-width="0.6" />
<line x1="83.0" y1="580.6" x2="83.0" y2="583.6" stroke="#ee1111" stroke-width="0.6" />
<line x1="87.5" y1="584.2" x2="87.5" y2="587.2" stroke="#ee1111" stroke-width="0.6" />
<line x1="94.3" y1="588.1" x2="94.3" y2="591.1" stroke="#ee1111" stroke-width="0.6" />
<line x1="101.1" y1="592.2" x2="101.1" y2="595.2" stroke="#ee1111" stroke-width="0.6" />
<line x1="107.9" y1="597.4" x2="107.9" y2="600.4" stroke="#ee1111" stroke-width="0.6" />
<line x1="114.7" y1="600.5" x2="114.7" y2="603.5" stroke="#ee1111" stroke-width="0.6" />
<line x1="126.0" y1="609.1" x2="126.0" y2="612.1" stroke="#ee1111" stroke-width="0.6" />
<line x1="130.5" y1="609.1" x2="130.5" y2="612.1" stroke="#ee1111" stroke-width="0.6" />
<line x1="135.0" y1="609.1" x2="135.0" y2="612.1" stroke="#ee1111" stroke-width="0.6" />
<line x1="144.1" y1="611.2" x2="144.1" y2="614.2" stroke="#ee1111" stroke-width="0.6" />
<line x1="153.1" y1="614.8" x2="153.1" y2="617.8" stroke="#ee1111" stroke-width="0.6" />
<line x1="159.9" y1="617.5" x2="159.9" y2="620.5" stroke="#ee1111" stroke-width="0.6" />
<line x1="163.3" y1="617.5" x2="163.3" y2="620.5" stroke="#ee1111" stroke-width="0.6" />
<line x1="171.3" y1="617.5" x2="171.3" y2="620.5" stroke="#ee1111" stroke-width="0.6" />
<line x1="180.3" y1="617.5" x2="180.3" y2="620.5" stroke="#ee1111" stroke-width="0.6" />
<line x1="187.1" y1="617.5" x2="187.1" y2="620.5" stroke="#ee1111" stroke-width="0.6" />
<path d="M50.9,555.9 H54.7 V557.9 H58.1 V559.9 H62.6 V561.7 H67.2 V564.0 H71.7 V565.8 H76.2 V567.4 H80.7 V569.4 H85.3 V571.3 H88.7 V573.5 H90.9 V575.3 H94.3 V578.0 H96.6 V579.8 H99.3 V581.7 H102.2 V583.5 H105.6 V585.7 H107.9 V587.8 H112.4 V589.1 H118.1 V591.2 H120.3 V593.4 H123.7 V596.8 H128.3 V600.2 H130.5 V602.5 H131.6 V604.5 H148.6 V604.5 H153.1 V605.9 H166.3 V605.9 H167.2 V608.8 H168.3 V611.5 H170.1 V614.9 H189.4 V614.9" fill="none" stroke="#111111" stroke-width="1.25"/>
<line x1="53.6" y1="555.9" x2="53.6" y2="558.9" stroke="#111111" stroke-width="0.6" />
<line x1="60.4" y1="559.3" x2="60.4" y2="562.3" stroke="#111111" stroke-width="0.6" />
<line x1="67.2" y1="562.5" x2="67.2" y2="565.5" stroke="#111111" stroke-width="0.6" />
<line x1="71.7" y1="564.3" x2="71.7" y2="567.3" stroke="#111111" stroke-width="0.6" />
<line x1="78.5" y1="567.0" x2="78.5" y2="570.0" stroke="#111111" stroke-width="0.6" />
<line x1="85.3" y1="569.8" x2="85.3" y2="572.8" stroke="#111111" stroke-width="0.6" />
<line x1="92.0" y1="574.7" x2="92.0" y2="577.7" stroke="#111111" stroke-width="0.6" />
<line x1="98.8" y1="579.7" x2="98.8" y2="582.7" stroke="#111111" stroke-width="0.6" />
<line x1="105.6" y1="584.2" x2="105.6" y2="587.2" stroke="#111111" stroke-width="0.6" />
<line x1="114.7" y1="588.5" x2="114.7" y2="591.5" stroke="#111111" stroke-width="0.6" />
<line x1="121.5" y1="592.8" x2="121.5" y2="595.8" stroke="#111111" stroke-width="0.6" />
<line x1="126.0" y1="596.9" x2="126.0" y2="599.9" stroke="#111111" stroke-width="0.6" />
<line x1="135.0" y1="603.0" x2="135.0" y2="606.0" stroke="#111111" stroke-width="0.6" />
<line x1="139.6" y1="603.0" x2="139.6" y2="606.0" stroke="#111111" stroke-width="0.6" />
<line x1="144.1" y1="603.0" x2="144.1" y2="606.0" stroke="#111111" stroke-width="0.6" />
<line x1="148.6" y1="603.0" x2="148.6" y2="606.0" stroke="#111111" stroke-width="0.6" />
<line x1="153.1" y1="604.4" x2="153.1" y2="607.4" stroke="#111111" stroke-width="0.6" />
<line x1="157.7" y1="604.4" x2="157.7" y2="607.4" stroke="#111111" stroke-width="0.6" />
<line x1="162.2" y1="604.4" x2="162.2" y2="607.4" stroke="#111111" stroke-width="0.6" />
<line x1="169.0" y1="611.4" x2="169.0" y2="614.4" stroke="#111111" stroke-width="0.6" />
<line x1="175.8" y1="613.4" x2="175.8" y2="616.4" stroke="#111111" stroke-width="0.6" />
<line x1="184.8" y1="613.4" x2="184.8" y2="616.4" stroke="#111111" stroke-width="0.6" />
<line x1="113.5" y1="554.5" x2="134.6" y2="554.5" stroke="#ee1111" stroke-width="1.4" />
<line x1="123.7" y1="551.0" x2="123.7" y2="558.0" stroke="#ee1111" stroke-width="1.0" />
<line x1="113.5" y1="569.9" x2="134.6" y2="569.9" stroke="#111" stroke-width="1.4" />
<line x1="123.7" y1="566.4" x2="123.7" y2="573.4" stroke="#111" stroke-width="1.0" />
<text x="137.8" y="556.8" font-size="6.6" fill="#222" stroke="#222" stroke-width="0.1" textLength="26.3" lengthAdjust="spacingAndGlyphs"><tspan font-style="italic">CTSL</tspan>-High</text>
<text x="137.8" y="572.2" font-size="6.6" fill="#222" stroke="#222" stroke-width="0.1" textLength="24.5" lengthAdjust="spacingAndGlyphs"><tspan font-style="italic">CTSL</tspan>-Low</text>
<text x="54.0" y="626.8" font-size="6.2" fill="#111" textLength="25" lengthAdjust="spacingAndGlyphs" stroke="#111" stroke-width="0.18">HR = 1.53</text>
<text x="54.0" y="634.3" font-size="6.2" fill="#111" textLength="28" lengthAdjust="spacingAndGlyphs" stroke="#111" stroke-width="0.18">P = 0.0035</text>
<text x="214.2" y="538.6" font-size="9.5" font-weight="bold">L</text>
<text x="298.2" y="532.0" font-size="7.6" text-anchor="middle" fill="#111" textLength="41" lengthAdjust="spacingAndGlyphs" stroke="#111" stroke-width="0.18">LUAD (TCGA)</text>
<g fill="#d994d9"><circle cx="269.5" cy="607.9" r="1.15"/><circle cx="296.5" cy="605.0" r="1.15"/><circle cx="268.2" cy="615.6" r="1.15"/><circle cx="290.2" cy="584.5" r="1.15"/><circle cx="269.6" cy="628.5" r="1.15"/><circle cx="292.9" cy="593.3" r="1.15"/><circle cx="303.0" cy="579.3" r="1.15"/><circle cx="283.1" cy="609.7" r="1.15"/><circle cx="315.6" cy="591.9" r="1.15"/><circle cx="274.8" cy="623.9" r="1.15"/><circle cx="285.5" cy="602.9" r="1.15"/><circle cx="280.2" cy="609.0" r="1.15"/><circle cx="287.7" cy="592.6" r="1.15"/><circle cx="297.7" cy="595.1" r="1.15"/><circle cx="262.6" cy="606.3" r="1.15"/><circle cx="267.1" cy="617.4" r="1.15"/><circle cx="266.4" cy="615.8" r="1.15"/><circle cx="274.9" cy="607.6" r="1.15"/><circle cx="324.5" cy="584.4" r="1.15"/><circle cx="294.6" cy="615.0" r="1.15"/><circle cx="280.9" cy="596.9" r="1.15"/><circle cx="283.2" cy="600.4" r="1.15"/><circle cx="285.6" cy="616.4" r="1.15"/><circle cx="291.2" cy="611.2" r="1.15"/><circle cx="307.1" cy="599.0" r="1.15"/><circle cx="292.7" cy="601.3" r="1.15"/><circle cx="295.9" cy="606.3" r="1.15"/><circle cx="296.5" cy="600.6" r="1.15"/><circle cx="299.7" cy="587.1" r="1.15"/><circle cx="286.1" cy="613.7" r="1.15"/><circle cx="293.7" cy="593.0" r="1.15"/><circle cx="304.3" cy="599.1" r="1.15"/><circle cx="291.1" cy="593.8" r="1.15"/><circle cx="287.8" cy="600.6" r="1.15"/><circle cx="286.6" cy="611.4" r="1.15"/><circle cx="272.0" cy="617.2" r="1.15"/><circle cx="291.5" cy="576.8" r="1.15"/><circle cx="296.2" cy="581.9" r="1.15"/><circle cx="293.8" cy="589.1" r="1.15"/><circle cx="286.6" cy="591.9" r="1.15"/><circle cx="305.9" cy="597.7" r="1.15"/><circle cx="275.9" cy="578.0" r="1.15"/><circle cx="287.3" cy="588.2" r="1.15"/><circle cx="295.0" cy="612.7" r="1.15"/><circle cx="314.0" cy="560.1" r="1.15"/><circle cx="286.5" cy="592.2" r="1.15"/><circle cx="285.9" cy="614.9" r="1.15"/><circle cx="283.0" cy="600.5" r="1.15"/><circle cx="297.9" cy="586.7" r="1.15"/><circle cx="285.1" cy="583.0" r="1.15"/><circle cx="275.1" cy="597.9" r="1.15"/><circle cx="297.9" cy="601.7" r="1.15"/><circle cx="262.6" cy="628.0" r="1.15"/><circle cx="287.2" cy="595.6" r="1.15"/><circle cx="303.2" cy="606.7" r="1.15"/><circle cx="284.4" cy="595.1" r="1.15"/><circle cx="282.4" cy="633.3" r="1.15"/><circle cx="294.2" cy="562.1" r="1.15"/><circle cx="296.6" cy="609.4" r="1.15"/><circle cx="279.3" cy="605.0" r="1.15"/><circle cx="314.6" cy="579.0" r="1.15"/><circle cx="285.7" cy="579.3" r="1.15"/><circle cx="283.4" cy="575.5" r="1.15"/><circle cx="276.0" cy="615.8" r="1.15"/><circle cx="293.1" cy="577.4" r="1.15"/><circle cx="292.3" cy="596.6" r="1.15"/><circle cx="262.2" cy="626.1" r="1.15"/><circle cx="276.9" cy="616.0" r="1.15"/><circle cx="291.5" cy="605.7" r="1.15"/><circle cx="293.9" cy="599.3" r="1.15"/><circle cx="280.3" cy="606.2" r="1.15"/><circle cx="289.6" cy="588.8" r="1.15"/><circle cx="278.6" cy="611.7" r="1.15"/><circle cx="267.8" cy="588.4" r="1.15"/><circle cx="302.0" cy="598.2" r="1.15"/><circle cx="278.5" cy="622.9" r="1.15"/><circle cx="286.4" cy="601.4" r="1.15"/><circle cx="310.9" cy="587.2" r="1.15"/><circle cx="301.5" cy="593.4" r="1.15"/><circle cx="264.8" cy="613.8" r="1.15"/><circle cx="264.8" cy="558.8" r="1.15"/><circle cx="298.0" cy="588.9" r="1.15"/><circle cx="282.2" cy="630.9" r="1.15"/><circle cx="282.8" cy="624.1" r="1.15"/><circle cx="291.6" cy="625.7" r="1.15"/><circle cx="273.3" cy="591.8" r="1.15"/><circle cx="304.3" cy="608.0" r="1.15"/><circle cx="265.7" cy="601.6" r="1.15"/><circle cx="294.7" cy="611.2" r="1.15"/><circle cx="275.9" cy="618.3" r="1.15"/><circle cx="269.9" cy="621.5" r="1.15"/><circle cx="299.6" cy="586.1" r="1.15"/><circle cx="309.4" cy="593.1" r="1.15"/><circle cx="282.7" cy="617.8" r="1.15"/><circle cx="282.9" cy="621.4" r="1.15"/><circle cx="262.7" cy="606.3" r="1.15"/><circle cx="301.9" cy="582.4" r="1.15"/><circle cx="300.6" cy="592.8" r="1.15"/><circle cx="275.6" cy="609.3" r="1.15"/><circle cx="279.8" cy="620.8" r="1.15"/><circle cx="263.8" cy="633.8" r="1.15"/><circle cx="284.3" cy="603.5" r="1.15"/><circle cx="278.6" cy="585.4" r="1.15"/><circle cx="286.5" cy="595.1" r="1.15"/><circle cx="299.2" cy="606.9" r="1.15"/><circle cx="260.4" cy="606.7" r="1.15"/><circle cx="276.0" cy="588.8" r="1.15"/><circle cx="288.5" cy="586.9" r="1.15"/><circle cx="293.6" cy="623.9" r="1.15"/><circle cx="293.1" cy="608.6" r="1.15"/><circle cx="275.2" cy="615.9" r="1.15"/><circle cx="293.7" cy="586.1" r="1.15"/><circle cx="296.7" cy="617.6" r="1.15"/><circle cx="277.2" cy="636.3" r="1.15"/><circle cx="283.1" cy="596.7" r="1.15"/><circle cx="275.1" cy="607.0" r="1.15"/><circle cx="287.2" cy="587.6" r="1.15"/><circle cx="274.4" cy="620.7" r="1.15"/><circle cx="275.1" cy="581.9" r="1.15"/><circle cx="297.6" cy="600.0" r="1.15"/><circle cx="287.1" cy="602.5" r="1.15"/><circle cx="286.8" cy="606.9" r="1.15"/><circle cx="280.3" cy="622.1" r="1.15"/><circle cx="276.6" cy="582.8" r="1.15"/><circle cx="290.9" cy="601.3" r="1.15"/><circle cx="281.7" cy="606.4" r="1.15"/><circle cx="288.7" cy="610.8" r="1.15"/><circle cx="286.7" cy="600.6" r="1.15"/><circle cx="275.3" cy="619.7" r="1.15"/><circle cx="272.2" cy="624.5" r="1.15"/><circle cx="295.2" cy="626.2" r="1.15"/><circle cx="281.1" cy="614.5" r="1.15"/><circle cx="276.8" cy="608.5" r="1.15"/><circle cx="298.1" cy="597.1" r="1.15"/><circle cx="282.7" cy="613.7" r="1.15"/><circle cx="282.8" cy="591.6" r="1.15"/><circle cx="279.6" cy="621.3" r="1.15"/><circle cx="269.0" cy="626.7" r="1.15"/><circle cx="267.5" cy="597.0" r="1.15"/><circle cx="288.7" cy="606.2" r="1.15"/><circle cx="302.1" cy="603.5" r="1.15"/><circle cx="293.5" cy="587.6" r="1.15"/><circle cx="265.6" cy="633.6" r="1.15"/><circle cx="273.1" cy="597.1" r="1.15"/><circle cx="300.1" cy="610.9" r="1.15"/><circle cx="297.1" cy="603.2" r="1.15"/><circle cx="279.6" cy="614.7" r="1.15"/><circle cx="280.4" cy="628.3" r="1.15"/><circle cx="272.2" cy="626.4" r="1.15"/><circle cx="290.3" cy="567.9" r="1.15"/><circle cx="317.6" cy="591.4" r="1.15"/><circle cx="263.4" cy="622.0" r="1.15"/><circle cx="272.9" cy="579.3" r="1.15"/><circle cx="291.3" cy="610.2" r="1.15"/><circle cx="295.7" cy="590.8" r="1.15"/><circle cx="264.6" cy="622.8" r="1.15"/><circle cx="281.4" cy="607.3" r="1.15"/><circle cx="286.0" cy="608.8" r="1.15"/><circle cx="286.7" cy="611.2" r="1.15"/><circle cx="273.5" cy="586.7" r="1.15"/><circle cx="288.7" cy="596.2" r="1.15"/><circle cx="265.0" cy="618.5" r="1.15"/><circle cx="294.3" cy="614.8" r="1.15"/><circle cx="297.7" cy="602.9" r="1.15"/><circle cx="289.3" cy="604.7" r="1.15"/><circle cx="287.0" cy="584.5" r="1.15"/><circle cx="279.5" cy="582.6" r="1.15"/><circle cx="274.9" cy="621.5" r="1.15"/><circle cx="293.0" cy="613.0" r="1.15"/><circle cx="279.9" cy="593.3" r="1.15"/><circle cx="299.1" cy="617.5" r="1.15"/><circle cx="290.5" cy="571.2" r="1.15"/><circle cx="298.9" cy="600.6" r="1.15"/><circle cx="277.1" cy="613.3" r="1.15"/><circle cx="270.3" cy="616.6" r="1.15"/><circle cx="282.1" cy="608.8" r="1.15"/><circle cx="298.7" cy="600.6" r="1.15"/><circle cx="266.6" cy="598.2" r="1.15"/><circle cx="271.3" cy="618.1" r="1.15"/><circle cx="282.7" cy="610.7" r="1.15"/><circle cx="272.2" cy="615.5" r="1.15"/><circle cx="310.9" cy="598.0" r="1.15"/><circle cx="282.7" cy="588.2" r="1.15"/><circle cx="293.4" cy="588.3" r="1.15"/><circle cx="294.8" cy="622.0" r="1.15"/><circle cx="273.9" cy="609.6" r="1.15"/><circle cx="290.4" cy="581.1" r="1.15"/><circle cx="290.1" cy="605.5" r="1.15"/><circle cx="284.8" cy="608.0" r="1.15"/><circle cx="287.4" cy="593.1" r="1.15"/><circle cx="280.2" cy="617.3" r="1.15"/><circle cx="274.0" cy="593.4" r="1.15"/><circle cx="299.9" cy="580.9" r="1.15"/><circle cx="294.8" cy="586.3" r="1.15"/><circle cx="284.3" cy="594.9" r="1.15"/><circle cx="271.6" cy="615.3" r="1.15"/><circle cx="275.4" cy="598.8" r="1.15"/><circle cx="277.3" cy="611.1" r="1.15"/><circle cx="289.2" cy="580.7" r="1.15"/><circle cx="274.7" cy="621.7" r="1.15"/><circle cx="294.3" cy="612.8" r="1.15"/><circle cx="289.9" cy="609.3" r="1.15"/><circle cx="283.1" cy="626.9" r="1.15"/><circle cx="293.0" cy="606.7" r="1.15"/><circle cx="273.4" cy="577.4" r="1.15"/><circle cx="293.0" cy="542.8" r="1.15"/><circle cx="289.3" cy="607.1" r="1.15"/><circle cx="285.7" cy="578.5" r="1.15"/><circle cx="284.0" cy="598.6" r="1.15"/><circle cx="290.6" cy="612.6" r="1.15"/><circle cx="285.9" cy="610.7" r="1.15"/><circle cx="269.2" cy="599.8" r="1.15"/><circle cx="292.5" cy="600.3" r="1.15"/><circle cx="273.3" cy="634.3" r="1.15"/><circle cx="290.3" cy="603.8" r="1.15"/><circle cx="263.9" cy="617.9" r="1.15"/><circle cx="265.9" cy="616.5" r="1.15"/><circle cx="286.1" cy="599.1" r="1.15"/><circle cx="287.0" cy="601.7" r="1.15"/><circle cx="270.5" cy="617.9" r="1.15"/><circle cx="278.1" cy="612.0" r="1.15"/><circle cx="287.6" cy="593.8" r="1.15"/><circle cx="304.2" cy="623.5" r="1.15"/><circle cx="289.2" cy="605.5" r="1.15"/><circle cx="312.0" cy="575.2" r="1.15"/><circle cx="264.3" cy="610.4" r="1.15"/><circle cx="278.0" cy="592.9" r="1.15"/><circle cx="271.5" cy="614.2" r="1.15"/><circle cx="282.8" cy="607.9" r="1.15"/><circle cx="277.3" cy="630.3" r="1.15"/><circle cx="290.0" cy="586.2" r="1.15"/><circle cx="283.5" cy="617.7" r="1.15"/><circle cx="286.8" cy="595.2" r="1.15"/><circle cx="282.2" cy="607.3" r="1.15"/><circle cx="301.5" cy="608.9" r="1.15"/><circle cx="277.6" cy="630.8" r="1.15"/><circle cx="275.8" cy="618.9" r="1.15"/><circle cx="272.7" cy="620.1" r="1.15"/><circle cx="306.2" cy="596.1" r="1.15"/><circle cx="283.0" cy="570.1" r="1.15"/><circle cx="283.6" cy="625.6" r="1.15"/><circle cx="289.3" cy="613.7" r="1.15"/><circle cx="304.3" cy="608.8" r="1.15"/><circle cx="277.3" cy="627.7" r="1.15"/><circle cx="285.5" cy="616.6" r="1.15"/><circle cx="283.6" cy="610.6" r="1.15"/><circle cx="276.9" cy="594.4" r="1.15"/><circle cx="295.7" cy="598.6" r="1.15"/><circle cx="273.4" cy="623.9" r="1.15"/><circle cx="287.6" cy="564.4" r="1.15"/><circle cx="278.8" cy="617.7" r="1.15"/><circle cx="275.9" cy="622.8" r="1.15"/><circle cx="272.5" cy="614.8" r="1.15"/><circle cx="301.8" cy="596.4" r="1.15"/><circle cx="278.1" cy="627.3" r="1.15"/><circle cx="287.0" cy="604.8" r="1.15"/><circle cx="269.4" cy="626.2" r="1.15"/><circle cx="283.8" cy="589.4" r="1.15"/><circle cx="292.0" cy="598.3" r="1.15"/><circle cx="280.4" cy="602.8" r="1.15"/><circle cx="284.2" cy="569.9" r="1.15"/><circle cx="270.6" cy="617.6" r="1.15"/><circle cx="299.8" cy="600.4" r="1.15"/><circle cx="301.7" cy="596.9" r="1.15"/><circle cx="286.1" cy="609.1" r="1.15"/><circle cx="267.6" cy="626.0" r="1.15"/><circle cx="311.3" cy="580.4" r="1.15"/><circle cx="291.7" cy="586.0" r="1.15"/><circle cx="291.3" cy="585.1" r="1.15"/><circle cx="281.1" cy="610.2" r="1.15"/><circle cx="296.3" cy="603.3" r="1.15"/><circle cx="268.2" cy="617.4" r="1.15"/><circle cx="277.7" cy="599.4" r="1.15"/><circle cx="275.6" cy="622.6" r="1.15"/><circle cx="280.3" cy="582.3" r="1.15"/><circle cx="283.8" cy="603.6" r="1.15"/><circle cx="284.5" cy="601.0" r="1.15"/><circle cx="295.6" cy="576.5" r="1.15"/><circle cx="264.4" cy="594.3" r="1.15"/><circle cx="284.3" cy="609.5" r="1.15"/><circle cx="313.5" cy="591.8" r="1.15"/><circle cx="308.0" cy="576.8" r="1.15"/><circle cx="271.8" cy="604.7" r="1.15"/><circle cx="293.3" cy="602.4" r="1.15"/><circle cx="256.1" cy="625.4" r="1.15"/><circle cx="282.0" cy="619.5" r="1.15"/><circle cx="306.6" cy="596.4" r="1.15"/><circle cx="279.6" cy="611.9" r="1.15"/><circle cx="274.8" cy="619.8" r="1.15"/><circle cx="285.5" cy="600.1" r="1.15"/><circle cx="278.2" cy="610.4" r="1.15"/><circle cx="267.5" cy="606.6" r="1.15"/><circle cx="275.2" cy="607.4" r="1.15"/><circle cx="273.3" cy="617.8" r="1.15"/><circle cx="287.0" cy="618.0" r="1.15"/><circle cx="314.4" cy="589.8" r="1.15"/><circle cx="283.5" cy="614.6" r="1.15"/><circle cx="303.8" cy="572.2" r="1.15"/><circle cx="288.0" cy="619.1" r="1.15"/><circle cx="278.2" cy="599.1" r="1.15"/><circle cx="278.1" cy="622.5" r="1.15"/><circle cx="269.9" cy="622.5" r="1.15"/><circle cx="284.5" cy="613.1" r="1.15"/><circle cx="284.6" cy="559.4" r="1.15"/><circle cx="305.9" cy="605.6" r="1.15"/><circle cx="288.5" cy="602.2" r="1.15"/><circle cx="282.7" cy="589.5" r="1.15"/><circle cx="280.3" cy="611.8" r="1.15"/><circle cx="279.8" cy="609.6" r="1.15"/><circle cx="300.0" cy="584.4" r="1.15"/><circle cx="268.0" cy="619.9" r="1.15"/><circle cx="274.7" cy="597.7" r="1.15"/><circle cx="287.1" cy="589.6" r="1.15"/><circle cx="283.6" cy="627.6" r="1.15"/><circle cx="289.8" cy="599.1" r="1.15"/><circle cx="290.5" cy="617.0" r="1.15"/><circle cx="285.3" cy="613.0" r="1.15"/><circle cx="276.0" cy="604.7" r="1.15"/><circle cx="288.6" cy="613.5" r="1.15"/><circle cx="277.4" cy="591.1" r="1.15"/><circle cx="283.7" cy="631.3" r="1.15"/><circle cx="273.9" cy="604.7" r="1.15"/><circle cx="304.7" cy="575.3" r="1.15"/><circle cx="288.8" cy="600.2" r="1.15"/><circle cx="271.5" cy="618.1" r="1.15"/><circle cx="280.3" cy="616.8" r="1.15"/><circle cx="285.1" cy="609.9" r="1.15"/><circle cx="288.5" cy="579.8" r="1.15"/><circle cx="293.4" cy="594.0" r="1.15"/><circle cx="281.4" cy="624.4" r="1.15"/><circle cx="283.0" cy="597.7" r="1.15"/><circle cx="272.1" cy="591.9" r="1.15"/><circle cx="280.3" cy="602.0" r="1.15"/><circle cx="280.4" cy="622.1" r="1.15"/><circle cx="309.5" cy="605.0" r="1.15"/><circle cx="295.5" cy="606.0" r="1.15"/><circle cx="287.8" cy="613.0" r="1.15"/><circle cx="279.3" cy="593.4" r="1.15"/><circle cx="308.0" cy="602.3" r="1.15"/><circle cx="284.5" cy="590.1" r="1.15"/><circle cx="276.7" cy="598.4" r="1.15"/><circle cx="274.8" cy="601.2" r="1.15"/><circle cx="289.7" cy="582.9" r="1.15"/><circle cx="288.8" cy="616.8" r="1.15"/><circle cx="292.4" cy="613.7" r="1.15"/><circle cx="293.5" cy="575.8" r="1.15"/><circle cx="291.6" cy="608.1" r="1.15"/><circle cx="298.9" cy="595.2" r="1.15"/><circle cx="269.2" cy="618.2" r="1.15"/><circle cx="301.6" cy="599.8" r="1.15"/><circle cx="285.8" cy="608.9" r="1.15"/><circle cx="263.9" cy="622.9" r="1.15"/><circle cx="288.7" cy="600.1" r="1.15"/><circle cx="282.2" cy="630.8" r="1.15"/><circle cx="299.2" cy="585.8" r="1.15"/><circle cx="296.8" cy="577.4" r="1.15"/><circle cx="278.9" cy="615.7" r="1.15"/><circle cx="288.2" cy="576.0" r="1.15"/><circle cx="263.9" cy="619.8" r="1.15"/><circle cx="275.7" cy="601.4" r="1.15"/><circle cx="302.2" cy="599.4" r="1.15"/><circle cx="269.3" cy="613.5" r="1.15"/><circle cx="280.9" cy="625.0" r="1.15"/><circle cx="295.1" cy="605.8" r="1.15"/><circle cx="292.7" cy="616.0" r="1.15"/><circle cx="297.7" cy="614.6" r="1.15"/><circle cx="297.2" cy="619.0" r="1.15"/><circle cx="301.1" cy="600.9" r="1.15"/><circle cx="265.4" cy="619.0" r="1.15"/><circle cx="288.5" cy="614.7" r="1.15"/><circle cx="278.4" cy="604.8" r="1.15"/><circle cx="279.1" cy="601.7" r="1.15"/><circle cx="288.0" cy="587.2" r="1.15"/><circle cx="276.0" cy="568.1" r="1.15"/><circle cx="294.1" cy="595.4" r="1.15"/><circle cx="297.6" cy="582.8" r="1.15"/><circle cx="285.6" cy="612.2" r="1.15"/><circle cx="296.8" cy="592.0" r="1.15"/><circle cx="261.3" cy="630.9" r="1.15"/><circle cx="290.0" cy="601.0" r="1.15"/><circle cx="287.8" cy="593.4" r="1.15"/><circle cx="286.1" cy="578.6" r="1.15"/><circle cx="277.2" cy="614.3" r="1.15"/><circle cx="288.3" cy="591.4" r="1.15"/><circle cx="293.9" cy="575.9" r="1.15"/><circle cx="278.6" cy="589.7" r="1.15"/><circle cx="290.0" cy="614.4" r="1.15"/><circle cx="282.7" cy="572.2" r="1.15"/><circle cx="293.9" cy="605.9" r="1.15"/><circle cx="255.2" cy="630.2" r="1.15"/><circle cx="275.8" cy="609.4" r="1.15"/><circle cx="312.5" cy="578.0" r="1.15"/><circle cx="288.2" cy="614.2" r="1.15"/><circle cx="269.9" cy="616.2" r="1.15"/><circle cx="278.7" cy="559.0" r="1.15"/><circle cx="279.4" cy="615.5" r="1.15"/><circle cx="298.1" cy="597.1" r="1.15"/><circle cx="269.3" cy="592.8" r="1.15"/><circle cx="280.6" cy="622.8" r="1.15"/><circle cx="288.3" cy="595.7" r="1.15"/><circle cx="280.3" cy="596.6" r="1.15"/><circle cx="294.3" cy="610.2" r="1.15"/><circle cx="282.8" cy="586.3" r="1.15"/><circle cx="296.6" cy="576.1" r="1.15"/><circle cx="306.9" cy="593.2" r="1.15"/><circle cx="297.2" cy="615.8" r="1.15"/><circle cx="292.7" cy="594.8" r="1.15"/><circle cx="283.2" cy="611.5" r="1.15"/><circle cx="270.8" cy="611.1" r="1.15"/><circle cx="299.9" cy="601.5" r="1.15"/><circle cx="290.8" cy="609.8" r="1.15"/><circle cx="287.4" cy="615.4" r="1.15"/><circle cx="289.0" cy="605.8" r="1.15"/><circle cx="288.2" cy="610.6" r="1.15"/><circle cx="270.1" cy="617.5" r="1.15"/><circle cx="297.0" cy="572.7" r="1.15"/><circle cx="280.4" cy="594.8" r="1.15"/><circle cx="293.6" cy="594.3" r="1.15"/><circle cx="265.5" cy="611.0" r="1.15"/><circle cx="272.6" cy="592.9" r="1.15"/><circle cx="293.9" cy="590.4" r="1.15"/><circle cx="253.5" cy="612.6" r="1.15"/><circle cx="292.9" cy="615.4" r="1.15"/><circle cx="296.2" cy="598.2" r="1.15"/><circle cx="282.1" cy="615.1" r="1.15"/><circle cx="272.0" cy="617.6" r="1.15"/><circle cx="321.9" cy="581.9" r="1.15"/><circle cx="286.9" cy="611.8" r="1.15"/><circle cx="276.8" cy="616.2" r="1.15"/><circle cx="273.6" cy="597.3" r="1.15"/><circle cx="281.1" cy="593.4" r="1.15"/><circle cx="270.3" cy="598.2" r="1.15"/><circle cx="284.0" cy="595.0" r="1.15"/><circle cx="283.1" cy="616.5" r="1.15"/><circle cx="299.1" cy="602.7" r="1.15"/><circle cx="282.6" cy="616.8" r="1.15"/><circle cx="286.8" cy="608.9" r="1.15"/><circle cx="287.8" cy="598.3" r="1.15"/><circle cx="276.0" cy="626.2" r="1.15"/><circle cx="289.6" cy="587.8" r="1.15"/><circle cx="292.8" cy="614.0" r="1.15"/><circle cx="291.7" cy="595.5" r="1.15"/><circle cx="287.8" cy="596.9" r="1.15"/><circle cx="280.4" cy="604.6" r="1.15"/><circle cx="295.6" cy="605.3" r="1.15"/><circle cx="266.9" cy="616.8" r="1.15"/><circle cx="286.7" cy="625.1" r="1.15"/><circle cx="276.1" cy="600.7" r="1.15"/><circle cx="282.5" cy="605.4" r="1.15"/><circle cx="269.0" cy="599.3" r="1.15"/><circle cx="305.7" cy="596.4" r="1.15"/><circle cx="275.5" cy="623.7" r="1.15"/><circle cx="295.2" cy="598.3" r="1.15"/><circle cx="274.7" cy="591.1" r="1.15"/><circle cx="293.7" cy="590.8" r="1.15"/><circle cx="263.0" cy="618.9" r="1.15"/><circle cx="292.0" cy="615.3" r="1.15"/><circle cx="295.7" cy="575.9" r="1.15"/><circle cx="296.9" cy="607.0" r="1.15"/><circle cx="275.8" cy="595.0" r="1.15"/><circle cx="296.4" cy="578.8" r="1.15"/><circle cx="299.0" cy="599.0" r="1.15"/><circle cx="279.4" cy="629.3" r="1.15"/><circle cx="293.9" cy="562.8" r="1.15"/><circle cx="278.7" cy="614.3" r="1.15"/><circle cx="292.3" cy="595.4" r="1.15"/><circle cx="267.7" cy="623.1" r="1.15"/><circle cx="271.0" cy="579.7" r="1.15"/><circle cx="275.6" cy="596.6" r="1.15"/><circle cx="307.7" cy="561.6" r="1.15"/><circle cx="301.7" cy="569.3" r="1.15"/><circle cx="269.3" cy="618.1" r="1.15"/><circle cx="275.5" cy="614.1" r="1.15"/><circle cx="316.2" cy="607.0" r="1.15"/><circle cx="291.1" cy="615.9" r="1.15"/><circle cx="300.6" cy="575.3" r="1.15"/><circle cx="278.1" cy="574.9" r="1.15"/><circle cx="285.3" cy="583.8" r="1.15"/><circle cx="288.1" cy="610.1" r="1.15"/><circle cx="279.7" cy="609.8" r="1.15"/><circle cx="257.7" cy="629.4" r="1.15"/><circle cx="323.2" cy="564.5" r="1.15"/><circle cx="300.7" cy="609.9" r="1.15"/><circle cx="301.6" cy="582.9" r="1.15"/><circle cx="281.7" cy="597.3" r="1.15"/><circle cx="310.7" cy="625.5" r="1.15"/><circle cx="269.2" cy="608.3" r="1.15"/><circle cx="265.3" cy="614.5" r="1.15"/><circle cx="294.6" cy="619.9" r="1.15"/><circle cx="291.2" cy="615.2" r="1.15"/><circle cx="294.5" cy="610.1" r="1.15"/><circle cx="299.5" cy="627.1" r="1.15"/><circle cx="301.5" cy="619.9" r="1.15"/><circle cx="321.3" cy="586.2" r="1.15"/><circle cx="287.8" cy="606.9" r="1.15"/><circle cx="298.3" cy="586.7" r="1.15"/><circle cx="307.5" cy="580.4" r="1.15"/><circle cx="288.8" cy="570.2" r="1.15"/><circle cx="313.0" cy="572.5" r="1.15"/><circle cx="283.6" cy="606.6" r="1.15"/><circle cx="294.3" cy="574.3" r="1.15"/><circle cx="291.6" cy="598.8" r="1.15"/><circle cx="285.2" cy="576.8" r="1.15"/><circle cx="277.5" cy="631.9" r="1.15"/><circle cx="305.3" cy="571.7" r="1.15"/><circle cx="305.7" cy="590.5" r="1.15"/><circle cx="307.1" cy="608.4" r="1.15"/><circle cx="296.2" cy="626.0" r="1.15"/><circle cx="264.1" cy="611.0" r="1.15"/><circle cx="290.0" cy="607.2" r="1.15"/><circle cx="259.1" cy="596.9" r="1.15"/><circle cx="291.6" cy="616.6" r="1.15"/><circle cx="276.5" cy="610.9" r="1.15"/><circle cx="271.7" cy="632.6" r="1.15"/><circle cx="318.0" cy="564.2" r="1.15"/><circle cx="301.2" cy="574.9" r="1.15"/><circle cx="284.4" cy="583.2" r="1.15"/><circle cx="270.7" cy="590.5" r="1.15"/><circle cx="294.4" cy="574.4" r="1.15"/><circle cx="262.3" cy="589.9" r="1.15"/><circle cx="341.3" cy="625.4" r="1.15"/><circle cx="344.4" cy="614.3" r="1.15"/><circle cx="345.2" cy="592.1" r="1.15"/><circle cx="338.9" cy="607.3" r="1.15"/><circle cx="247.7" cy="596.3" r="1.15"/><circle cx="245.4" cy="621.2" r="1.15"/><circle cx="258.6" cy="564.4" r="1.15"/><circle cx="327.2" cy="618.4" r="1.15"/><circle cx="335.0" cy="599.0" r="1.15"/><circle cx="289.8" cy="540.8" r="1.15"/><circle cx="292.9" cy="546.3" r="1.15"/><circle cx="294.5" cy="550.5" r="1.15"/></g>
<line x1="242.7" y1="619.0" x2="350.9" y2="581.0" stroke="#ee2222" stroke-width="1.1" stroke-dasharray="1.3,1.3"/>
<rect x="242.7" y="537.7" width="108.2" height="103.5" fill="none" stroke="#555" stroke-width="0.8" />
<line x1="252.4" y1="641.2" x2="252.4" y2="643.2" stroke="#555" stroke-width="0.6" />
<text x="252.4" y="652.9" font-size="6.6" text-anchor="middle" fill="#222" stroke="#222" stroke-width="0.18">4</text>
<line x1="268.0" y1="641.2" x2="268.0" y2="643.2" stroke="#555" stroke-width="0.6" />
<text x="268.0" y="652.9" font-size="6.6" text-anchor="middle" fill="#222" stroke="#222" stroke-width="0.18">5</text>
<line x1="283.6" y1="641.2" x2="283.6" y2="643.2" stroke="#555" stroke-width="0.6" />
<text x="283.6" y="652.9" font-size="6.6" text-anchor="middle" fill="#222" stroke="#222" stroke-width="0.18">6</text>
<line x1="299.2" y1="641.2" x2="299.2" y2="643.2" stroke="#555" stroke-width="0.6" />
<text x="299.2" y="652.9" font-size="6.6" text-anchor="middle" fill="#222" stroke="#222" stroke-width="0.18">7</text>
<line x1="314.8" y1="641.2" x2="314.8" y2="643.2" stroke="#555" stroke-width="0.6" />
<text x="314.8" y="652.9" font-size="6.6" text-anchor="middle" fill="#222" stroke="#222" stroke-width="0.18">8</text>
<line x1="330.4" y1="641.2" x2="330.4" y2="643.2" stroke="#555" stroke-width="0.6" />
<text x="330.4" y="652.9" font-size="6.6" text-anchor="middle" fill="#222" stroke="#222" stroke-width="0.18">9</text>
<line x1="345.9" y1="641.2" x2="345.9" y2="643.2" stroke="#555" stroke-width="0.6" />
<text x="345.9" y="652.9" font-size="6.6" text-anchor="middle" fill="#222" stroke="#222" stroke-width="0.18">10</text>
<line x1="238.9" y1="633.7" x2="242.7" y2="633.7" stroke="#555" stroke-width="0.6" />
<text x="236.4" y="633.7" font-size="6.6" text-anchor="middle" fill="#222" transform="rotate(-90 237.4 633.7)" stroke="#222" stroke-width="0.18">1</text>
<line x1="238.9" y1="619.8" x2="242.7" y2="619.8" stroke="#555" stroke-width="0.6" />
<text x="236.4" y="619.8" font-size="6.6" text-anchor="middle" fill="#222" transform="rotate(-90 237.4 619.8)" stroke="#222" stroke-width="0.18">2</text>
<line x1="238.9" y1="606.0" x2="242.7" y2="606.0" stroke="#555" stroke-width="0.6" />
<text x="236.4" y="606.0" font-size="6.6" text-anchor="middle" fill="#222" transform="rotate(-90 237.4 606.0)" stroke="#222" stroke-width="0.18">3</text>
<line x1="238.9" y1="592.1" x2="242.7" y2="592.1" stroke="#555" stroke-width="0.6" />
<text x="236.4" y="592.1" font-size="6.6" text-anchor="middle" fill="#222" transform="rotate(-90 237.4 592.1)" stroke="#222" stroke-width="0.18">4</text>
<line x1="238.9" y1="578.2" x2="242.7" y2="578.2" stroke="#555" stroke-width="0.6" />
<text x="236.4" y="578.2" font-size="6.6" text-anchor="middle" fill="#222" transform="rotate(-90 237.4 578.2)" stroke="#222" stroke-width="0.18">5</text>
<line x1="238.9" y1="564.4" x2="242.7" y2="564.4" stroke="#555" stroke-width="0.6" />
<text x="236.4" y="564.4" font-size="6.6" text-anchor="middle" fill="#222" transform="rotate(-90 237.4 564.4)" stroke="#222" stroke-width="0.18">6</text>
<line x1="238.9" y1="550.5" x2="242.7" y2="550.5" stroke="#555" stroke-width="0.6" />
<text x="236.4" y="550.5" font-size="6.6" text-anchor="middle" fill="#222" transform="rotate(-90 237.4 550.5)" stroke="#222" stroke-width="0.18">7</text>
<text x="226.2" y="588.5" font-size="7.6" text-anchor="middle" fill="#111" font-style="italic" transform="rotate(-90 226.2 588.5)" stroke="#111" stroke-width="0.18">CD274</text>
<text x="298.8" y="661.8" font-size="7.6" text-anchor="middle" fill="#111" font-style="italic" stroke="#111" stroke-width="0.18">CTSL</text>
<text x="342.6" y="546.8" font-size="6.3" text-anchor="end" fill="#111" textLength="27" lengthAdjust="spacingAndGlyphs" stroke="#111" stroke-width="0.18">P &lt; 0.0001</text>
<text x="342.6" y="554.6" font-size="6.3" text-anchor="end" fill="#111" textLength="22" lengthAdjust="spacingAndGlyphs" stroke="#111" stroke-width="0.18">r = 0.302</text>
<text x="375.0" y="538.5" font-size="9.5" font-weight="bold">M</text>
<text x="451.1" y="533.2" font-size="7.4" text-anchor="middle" fill="#111" textLength="63" lengthAdjust="spacingAndGlyphs" stroke="#111" stroke-width="0.18">NSCLC (GSE283829)</text>
<line x1="397.2" y1="626.6" x2="506.8" y2="547.6" stroke="#111" stroke-width="1.0" stroke-dasharray="1.5,1.5"/>
<circle cx="412.5" cy="626.2" r="2.10" fill="#f26060" stroke="none" stroke-width="1" />
<circle cx="415.4" cy="609.3" r="2.10" fill="#f26060" stroke="none" stroke-width="1" />
<circle cx="421.0" cy="603.3" r="2.10" fill="#f26060" stroke="none" stroke-width="1" />
<circle cx="428.2" cy="611.1" r="2.10" fill="#f26060" stroke="none" stroke-width="1" />
<circle cx="429.5" cy="612.5" r="2.10" fill="#f26060" stroke="none" stroke-width="1" />
<circle cx="430.0" cy="598.5" r="2.10" fill="#f26060" stroke="none" stroke-width="1" />
<circle cx="431.5" cy="598.5" r="2.10" fill="#f26060" stroke="none" stroke-width="1" />
<circle cx="434.0" cy="567.3" r="2.10" fill="#f26060" stroke="none" stroke-width="1" />
<circle cx="435.6" cy="600.3" r="2.10" fill="#f26060" stroke="none" stroke-width="1" />
<circle cx="437.2" cy="621.0" r="2.10" fill="#f26060" stroke="none" stroke-width="1" />
<circle cx="437.2" cy="623.2" r="2.10" fill="#f26060" stroke="none" stroke-width="1" />
<circle cx="437.6" cy="597.6" r="2.10" fill="#f26060" stroke="none" stroke-width="1" />
<circle cx="438.3" cy="583.5" r="2.10" fill="#f26060" stroke="none" stroke-width="1" />
<circle cx="441.0" cy="600.3" r="2.10" fill="#f26060" stroke="none" stroke-width="1" />
<circle cx="442.1" cy="585.7" r="2.10" fill="#f26060" stroke="none" stroke-width="1" />
<circle cx="448.8" cy="593.6" r="2.10" fill="#f26060" stroke="none" stroke-width="1" />
<circle cx="450.6" cy="579.7" r="2.10" fill="#f26060" stroke="none" stroke-width="1" />
<circle cx="456.9" cy="583.5" r="2.10" fill="#f26060" stroke="none" stroke-width="1" />
<circle cx="460.1" cy="577.2" r="2.10" fill="#f26060" stroke="none" stroke-width="1" />
<circle cx="461.4" cy="570.0" r="2.10" fill="#f26060" stroke="none" stroke-width="1" />
<circle cx="465.2" cy="570.5" r="2.10" fill="#f26060" stroke="none" stroke-width="1" />
<circle cx="467.9" cy="584.2" r="2.10" fill="#f26060" stroke="none" stroke-width="1" />
<circle cx="472.0" cy="599.9" r="2.10" fill="#f26060" stroke="none" stroke-width="1" />
<circle cx="473.1" cy="553.2" r="2.10" fill="#f26060" stroke="none" stroke-width="1" />
<circle cx="474.2" cy="554.3" r="2.10" fill="#f26060" stroke="none" stroke-width="1" />
<circle cx="498.7" cy="571.1" r="2.10" fill="#f26060" stroke="none" stroke-width="1" />
<circle cx="500.5" cy="545.1" r="2.10" fill="#f26060" stroke="none" stroke-width="1" />
<rect x="397.2" y="539.0" width="109.6" height="102.2" fill="none" stroke="#555" stroke-width="0.8" />
<line x1="400.1" y1="641.2" x2="400.1" y2="643.2" stroke="#555" stroke-width="0.6" />
<text x="400.1" y="652.9" font-size="6.6" text-anchor="middle" fill="#222" stroke="#222" stroke-width="0.18">3</text>
<line x1="414.9" y1="641.2" x2="414.9" y2="643.2" stroke="#555" stroke-width="0.6" />
<text x="414.9" y="652.9" font-size="6.6" text-anchor="middle" fill="#222" stroke="#222" stroke-width="0.18">4</text>
<line x1="429.6" y1="641.2" x2="429.6" y2="643.2" stroke="#555" stroke-width="0.6" />
<text x="429.6" y="652.9" font-size="6.6" text-anchor="middle" fill="#222" stroke="#222" stroke-width="0.18">5</text>
<line x1="444.4" y1="641.2" x2="444.4" y2="643.2" stroke="#555" stroke-width="0.6" />
<text x="444.4" y="652.9" font-size="6.6" text-anchor="middle" fill="#222" stroke="#222" stroke-width="0.18">6</text>
<line x1="459.1" y1="641.2" x2="459.1" y2="643.2" stroke="#555" stroke-width="0.6" />
<text x="459.1" y="652.9" font-size="6.6" text-anchor="middle" fill="#222" stroke="#222" stroke-width="0.18">7</text>
<line x1="473.9" y1="641.2" x2="473.9" y2="643.2" stroke="#555" stroke-width="0.6" />
<text x="473.9" y="652.9" font-size="6.6" text-anchor="middle" fill="#222" stroke="#222" stroke-width="0.18">8</text>
<line x1="488.7" y1="641.2" x2="488.7" y2="643.2" stroke="#555" stroke-width="0.6" />
<text x="488.7" y="652.9" font-size="6.6" text-anchor="middle" fill="#222" stroke="#222" stroke-width="0.18">9</text>
<line x1="503.4" y1="641.2" x2="503.4" y2="643.2" stroke="#555" stroke-width="0.6" />
<text x="503.4" y="652.9" font-size="6.6" text-anchor="middle" fill="#222" stroke="#222" stroke-width="0.18">10</text>
<line x1="393.2" y1="543.1" x2="397.2" y2="543.1" stroke="#555" stroke-width="0.6" />
<text x="389.6" y="543.1" font-size="6.2" text-anchor="middle" fill="#222" transform="rotate(-90 389.6 543.1)" stroke="#222" stroke-width="0.18">12</text>
<line x1="393.2" y1="556.6" x2="397.2" y2="556.6" stroke="#555" stroke-width="0.6" />
<text x="389.6" y="556.6" font-size="6.2" text-anchor="middle" fill="#222" transform="rotate(-90 389.6 556.6)" stroke="#222" stroke-width="0.18">11</text>
<line x1="393.2" y1="570.0" x2="397.2" y2="570.0" stroke="#555" stroke-width="0.6" />
<text x="389.6" y="570.0" font-size="6.2" text-anchor="middle" fill="#222" transform="rotate(-90 389.6 570.0)" stroke="#222" stroke-width="0.18">10</text>
<line x1="393.2" y1="583.5" x2="397.2" y2="583.5" stroke="#555" stroke-width="0.6" />
<text x="389.6" y="583.5" font-size="6.2" text-anchor="middle" fill="#222" transform="rotate(-90 389.6 583.5)" stroke="#222" stroke-width="0.18">9</text>
<line x1="393.2" y1="597.0" x2="397.2" y2="597.0" stroke="#555" stroke-width="0.6" />
<text x="389.6" y="597.0" font-size="6.2" text-anchor="middle" fill="#222" transform="rotate(-90 389.6 597.0)" stroke="#222" stroke-width="0.18">8</text>
<line x1="393.2" y1="610.5" x2="397.2" y2="610.5" stroke="#555" stroke-width="0.6" />
<text x="389.6" y="610.5" font-size="6.2" text-anchor="middle" fill="#222" transform="rotate(-90 389.6 610.5)" stroke="#222" stroke-width="0.18">7</text>
<line x1="393.2" y1="623.9" x2="397.2" y2="623.9" stroke="#555" stroke-width="0.6" />
<text x="389.6" y="623.9" font-size="6.2" text-anchor="middle" fill="#222" transform="rotate(-90 389.6 623.9)" stroke="#222" stroke-width="0.18">6</text>
<line x1="393.2" y1="637.4" x2="397.2" y2="637.4" stroke="#555" stroke-width="0.6" />
<text x="389.6" y="637.4" font-size="6.2" text-anchor="middle" fill="#222" transform="rotate(-90 389.6 637.4)" stroke="#222" stroke-width="0.18">5</text>
<text x="378.3" y="592.7" font-size="7.6" text-anchor="middle" fill="#111" font-style="italic" transform="rotate(-90 378.3 592.7)" stroke="#111" stroke-width="0.18">CD274</text>
<text x="449.5" y="663.4" font-size="7.6" text-anchor="middle" fill="#111" font-style="italic" stroke="#111" stroke-width="0.18">CTSL</text>
<text x="405.3" y="549.8" font-size="6.3" fill="#111" textLength="27" lengthAdjust="spacingAndGlyphs" stroke="#111" stroke-width="0.18">P &lt; 0.0001</text>
<text x="405.3" y="558.1" font-size="6.3" fill="#111" textLength="22" lengthAdjust="spacingAndGlyphs"><tspan font-style="italic">r</tspan> = 0.826</text>
<text x="537.7" y="538.5" font-size="9.5" font-weight="bold">N</text>
<text x="612.5" y="533.2" font-size="7.4" text-anchor="middle" fill="#111" textLength="71" lengthAdjust="spacingAndGlyphs" stroke="#111" stroke-width="0.18">NSCLC (E-MTAB-12781)</text>
<line x1="557.0" y1="537.9" x2="661.2" y2="537.9" stroke="#222" stroke-width="0.9" />
<line x1="586.2" y1="634.0" x2="652.9" y2="634.0" stroke="#c8c8c8" stroke-width="0.6" stroke-dasharray="1,1.5"/>
<line x1="586.2" y1="618.2" x2="652.9" y2="618.2" stroke="#c8c8c8" stroke-width="0.6" stroke-dasharray="1,1.5"/>
<line x1="586.2" y1="602.4" x2="652.9" y2="602.4" stroke="#c8c8c8" stroke-width="0.6" stroke-dasharray="1,1.5"/>
<line x1="586.2" y1="586.6" x2="652.9" y2="586.6" stroke="#c8c8c8" stroke-width="0.6" stroke-dasharray="1,1.5"/>
<line x1="586.2" y1="570.8" x2="652.9" y2="570.8" stroke="#c8c8c8" stroke-width="0.6" stroke-dasharray="1,1.5"/>
<line x1="586.2" y1="555.0" x2="652.9" y2="555.0" stroke="#c8c8c8" stroke-width="0.6" stroke-dasharray="1,1.5"/>
<line x1="586.2" y1="552.0" x2="586.2" y2="637.4" stroke="#222" stroke-width="0.9" />
<line x1="586.2" y1="637.4" x2="652.9" y2="637.4" stroke="#222" stroke-width="0.9" />
<line x1="584.4" y1="634.0" x2="586.2" y2="634.0" stroke="#222" stroke-width="0.6" />
<text x="582.2" y="636.0" font-size="6" text-anchor="end" fill="#222" textLength="9" lengthAdjust="spacingAndGlyphs" stroke="#222" stroke-width="0.18">4.0</text>
<line x1="584.4" y1="618.2" x2="586.2" y2="618.2" stroke="#222" stroke-width="0.6" />
<text x="582.2" y="620.2" font-size="6" text-anchor="end" fill="#222" textLength="9" lengthAdjust="spacingAndGlyphs" stroke="#222" stroke-width="0.18">4.2</text>
<line x1="584.4" y1="586.6" x2="586.2" y2="586.6" stroke="#222" stroke-width="0.6" />
<text x="582.2" y="588.6" font-size="6" text-anchor="end" fill="#222" textLength="9" lengthAdjust="spacingAndGlyphs" stroke="#222" stroke-width="0.18">4.6</text>
<line x1="584.4" y1="570.8" x2="586.2" y2="570.8" stroke="#222" stroke-width="0.6" />
<text x="582.2" y="572.8" font-size="6" text-anchor="end" fill="#222" textLength="9" lengthAdjust="spacingAndGlyphs" stroke="#222" stroke-width="0.18">4.8</text>
<line x1="584.4" y1="555.0" x2="586.2" y2="555.0" stroke="#222" stroke-width="0.6" />
<text x="582.2" y="557.0" font-size="6" text-anchor="end" fill="#222" textLength="9" lengthAdjust="spacingAndGlyphs" stroke="#222" stroke-width="0.18">5.0</text>
<line x1="584.4" y1="602.4" x2="586.2" y2="602.4" stroke="#222" stroke-width="0.6" />
<line x1="603.2" y1="588.4" x2="603.2" y2="590.2" stroke="#222" stroke-width="0.8" />
<line x1="603.2" y1="614.9" x2="603.2" y2="618.7" stroke="#222" stroke-width="0.8" />
<line x1="596.8" y1="588.4" x2="609.1" y2="588.4" stroke="#222" stroke-width="0.8" />
<line x1="596.8" y1="618.7" x2="609.1" y2="618.7" stroke="#222" stroke-width="0.8" />
<rect x="590.7" y="590.2" width="25.1" height="24.7" fill="#fff" stroke="#222" stroke-width="0.8" />
<line x1="590.7" y1="601.5" x2="615.8" y2="601.5" stroke="#111" stroke-width="1.8" />
<line x1="634.7" y1="569.6" x2="634.7" y2="577.4" stroke="#222" stroke-width="0.8" />
<line x1="634.7" y1="590.9" x2="634.7" y2="595.2" stroke="#222" stroke-width="0.8" />
<line x1="628.2" y1="569.6" x2="640.5" y2="569.6" stroke="#222" stroke-width="0.8" />
<line x1="628.2" y1="595.2" x2="640.5" y2="595.2" stroke="#222" stroke-width="0.8" />
<rect x="622.6" y="577.4" width="24.2" height="13.5" fill="#fff" stroke="#222" stroke-width="0.8" />
<line x1="622.6" y1="589.8" x2="646.8" y2="589.8" stroke="#111" stroke-width="1.8" />
<circle cx="599.7" cy="588.4" r="1.90" fill="#2196f3" stroke="none" stroke-width="1" />
<circle cx="606.4" cy="592.0" r="1.90" fill="#2196f3" stroke="none" stroke-width="1" />
<circle cx="606.4" cy="611.6" r="1.90" fill="#2196f3" stroke="none" stroke-width="1" />
<circle cx="608.7" cy="618.7" r="1.90" fill="#2196f3" stroke="none" stroke-width="1" />
<circle cx="638.3" cy="569.6" r="1.90" fill="#cc2a8e" stroke="none" stroke-width="1" />
<circle cx="632.0" cy="577.4" r="1.90" fill="#cc2a8e" stroke="none" stroke-width="1" />
<circle cx="627.5" cy="589.8" r="1.90" fill="#cc2a8e" stroke="none" stroke-width="1" />
<circle cx="640.5" cy="590.9" r="1.90" fill="#cc2a8e" stroke="none" stroke-width="1" />
<circle cx="633.8" cy="595.2" r="1.90" fill="#cc2a8e" stroke="none" stroke-width="1" />
<text x="621.5" y="562.8" font-size="6.2" text-anchor="middle" fill="#111" textLength="24" lengthAdjust="spacingAndGlyphs" stroke="#111" stroke-width="0.18">P = 0.036</text>
<text x="604.2" y="647.6" font-size="7.2" text-anchor="middle" fill="#111" stroke="#111" stroke-width="0.18">CON</text>
<text x="635.6" y="647.6" font-size="7.2" text-anchor="middle" fill="#111" stroke="#111" stroke-width="0.18">CAC</text>
<text x="552.9" y="589.1" font-size="7.6" text-anchor="middle" fill="#111" font-style="italic" textLength="15.8" lengthAdjust="spacingAndGlyphs" transform="rotate(-90 552.9 589.1)" stroke="#111" stroke-width="0.18">CTSL</text>
<text transform="rotate(-90 564.6 591.4)" x="564.6" y="591.4" font-size="6.6" text-anchor="middle" fill="#111">log<tspan font-size="4.2" dy="1.4">2</tspan><tspan dy="-1.4">(TPM+1)</tspan></text>
</svg>
</body></html>
